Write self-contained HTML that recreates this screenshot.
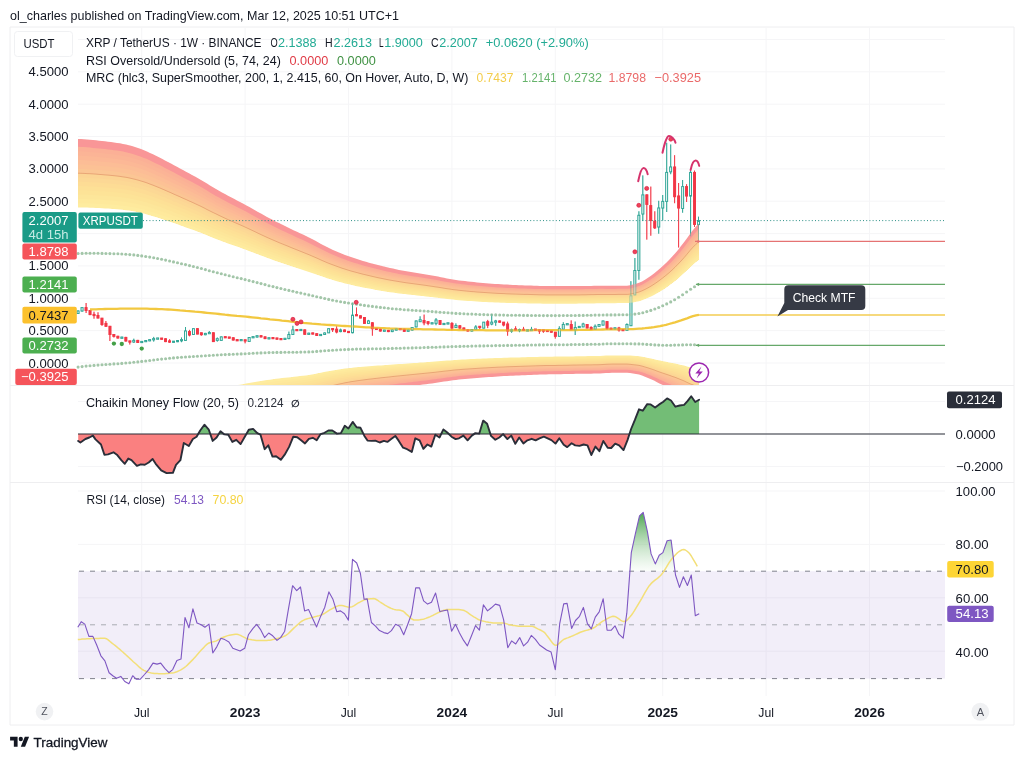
<!DOCTYPE html>
<html lang="en"><head><meta charset="utf-8"><title>XRP / TetherUS chart</title>
<style>html,body{margin:0;padding:0;background:#fff;width:1024px;height:760px;overflow:hidden}svg{display:block}</style></head>
<body>
<svg width="1024" height="760" viewBox="0 0 1024 760" font-family='"Liberation Sans", sans-serif'>
<rect width="1024" height="760" fill="#fff"/>
<defs>
<clipPath id="cm"><rect x="78" y="28" width="867" height="357"/></clipPath>
<linearGradient id="rg" x1="0" y1="0" x2="0" y2="1"><stop offset="0" stop-color="#43a047" stop-opacity=".95"/><stop offset="1" stop-color="#a5d6a7" stop-opacity=".05"/></linearGradient>
</defs>
<path d="M78 39.5 H945 M78 71.8 H945 M78 104.2 H945 M78 136.5 H945 M78 168.9 H945 M78 201.2 H945 M78 233.6 H945 M78 265.9 H945 M78 298.3 H945 M78 330.6 H945 M78 363 H945 M78 401.5 H945 M78 434 H945 M78 466.5 H945 M78 491 H945 M78 544.4 H945 M78 597.8 H945 M78 651.2 H945 M141.7 28 V696 M245.1 28 V696 M348.5 28 V696 M451.9 28 V696 M555.3 28 V696 M662.7 28 V696 M766.1 28 V696 M869.5 28 V696" stroke="#f5f5f7" stroke-width="1" fill="none"/>
<path d="M10 27 H1014 V725 H10 Z M10 385.5 H1014 M10 482.5 H1014" stroke="#eeeef0" stroke-width="1" fill="none"/>
<g stroke="#2fa596" stroke-width=".95" fill="none"><path d="M78.1 310.5 V311 M78.1 313.5 V313.5"/><rect x="77.1" y="311" width="1.9" height="2.5" fill="#fff"/><path d="M82.1 307.1 V307.6 M82.1 311 V311.5"/><rect x="81.1" y="307.6" width="1.9" height="3.4" fill="#fff"/><path d="M121.8 336.9 V337.1 M121.8 338.3 V338.5"/><rect x="120.9" y="337.1" width="1.9" height="1.2" fill="#fff"/><path d="M133.8 338.7 V340.4 M133.8 342 V342.8"/><rect x="132.8" y="340.4" width="1.9" height="1.6" fill="#fff"/><path d="M141.7 341 V341.4 M141.7 342.6 V343"/><rect x="140.8" y="341.4" width="1.9" height="1.2" fill="#fff"/><path d="M145.7 340.2 V340.5 M145.7 341.7 V342"/><rect x="144.8" y="340.5" width="1.9" height="1.2" fill="#fff"/><path d="M149.7 339.3 V339.6 M149.7 340.9 V341.2"/><rect x="148.7" y="339.6" width="1.9" height="1.2" fill="#fff"/><path d="M153.7 336.9 V338.6 M153.7 339.9 V341.6"/><rect x="152.7" y="338.6" width="1.9" height="1.2" fill="#fff"/><path d="M157.6 338.1 V338 M157.6 339.2 V339.2"/><rect x="156.7" y="338" width="1.9" height="1.2" fill="#fff"/><path d="M173.5 341.1 V341.2 M173.5 342.4 V342.5"/><rect x="172.6" y="341.2" width="1.9" height="1.2" fill="#fff"/><path d="M177.5 340.1 V340.5 M177.5 341.7 V342.1"/><rect x="176.6" y="340.5" width="1.9" height="1.2" fill="#fff"/><path d="M181.5 337.5 V339.6 M181.5 340.8 V342.2"/><rect x="180.6" y="339.6" width="1.9" height="1.2" fill="#fff"/><path d="M185.5 327 V331 M185.5 340.4 V341"/><rect x="184.5" y="331" width="1.9" height="9.4" fill="#fff"/><path d="M193.4 328 V328.7 M193.4 334.5 V334.8"/><rect x="192.5" y="328.7" width="1.9" height="5.8" fill="#fff"/><path d="M205.4 332.9 V333.4 M205.4 334.7 V335.2"/><rect x="204.4" y="333.4" width="1.9" height="1.3" fill="#fff"/><path d="M209.3 331 V332.5 M209.3 333.7 V334"/><rect x="208.4" y="332.5" width="1.9" height="1.2" fill="#fff"/><path d="M217.3 337.5 V338.7 M217.3 340.4 V341.6"/><rect x="216.3" y="338.7" width="1.9" height="1.7" fill="#fff"/><path d="M221.3 336.5 V336.9 M221.3 340.4 V340.6"/><rect x="220.3" y="336.9" width="1.9" height="3.5" fill="#fff"/><path d="M241.2 339.3 V339.5 M241.2 340.7 V340.9"/><rect x="240.2" y="339.5" width="1.9" height="1.2" fill="#fff"/><path d="M249.1 337 V337.5 M249.1 341.5 V341.8"/><rect x="248.2" y="337.5" width="1.9" height="4" fill="#fff"/><path d="M253.1 336.5 V336.6 M253.1 337.9 V338"/><rect x="252.1" y="336.6" width="1.9" height="1.2" fill="#fff"/><path d="M257.1 335.2 V335.7 M257.1 337 V337.5"/><rect x="256.1" y="335.7" width="1.9" height="1.3" fill="#fff"/><path d="M269 337.5 V337.7 M269 338.9 V339.1"/><rect x="268" y="337.7" width="1.9" height="1.2" fill="#fff"/><path d="M284.9 338.1 V338.3 M284.9 339.5 V339.7"/><rect x="284" y="338.3" width="1.9" height="1.2" fill="#fff"/><path d="M288.9 331.6 V334.5 M288.9 338.6 V339.2"/><rect x="287.9" y="334.5" width="1.9" height="4.1" fill="#fff"/><path d="M292.9 325.8 V329.9 M292.9 334.5 V334.6"/><rect x="291.9" y="329.9" width="1.9" height="4.6" fill="#fff"/><path d="M300.8 329.3 V329.4 M300.8 330.7 V330.8"/><rect x="299.9" y="329.4" width="1.9" height="1.2" fill="#fff"/><path d="M308.8 332.8 V333.2 M308.8 334.4 V334.8"/><rect x="307.8" y="333.2" width="1.9" height="1.2" fill="#fff"/><path d="M320.7 334 V334.4 M320.7 335.6 V336"/><rect x="319.7" y="334.4" width="1.9" height="1.2" fill="#fff"/><path d="M324.7 332.5 V333 M324.7 334.5 V335"/><rect x="323.7" y="333" width="1.9" height="1.5" fill="#fff"/><path d="M328.7 328.3 V328.7 M328.7 332.8 V333"/><rect x="327.7" y="328.7" width="1.9" height="4.1" fill="#fff"/><path d="M340.6 328.7 V330 M340.6 331.6 V332.2"/><rect x="339.6" y="330" width="1.9" height="1.6" fill="#fff"/><path d="M352.5 302.9 V315.2 M352.5 332.7 V333.3"/><rect x="351.6" y="315.2" width="1.9" height="17.5" fill="#fff"/><path d="M368.4 319.9 V321 M368.4 323.4 V324"/><rect x="367.5" y="321" width="1.9" height="2.4" fill="#fff"/><path d="M384.3 329.9 V330.1 M384.3 331.3 V331.5"/><rect x="383.4" y="330.1" width="1.9" height="1.2" fill="#fff"/><path d="M392.3 329.5 V330 M392.3 331.6 V332.1"/><rect x="391.3" y="330" width="1.9" height="1.6" fill="#fff"/><path d="M396.3 328.5 V328.9 M396.3 330.1 V330.5"/><rect x="395.3" y="328.9" width="1.9" height="1.2" fill="#fff"/><path d="M408.2 329.5 V330 M408.2 331.3 V331.8"/><rect x="407.2" y="330" width="1.9" height="1.3" fill="#fff"/><path d="M412.2 327 V327.5 M412.2 330 V330.5"/><rect x="411.2" y="327.5" width="1.9" height="2.5" fill="#fff"/><path d="M416.1 320.6 V321 M416.1 326.9 V327.2"/><rect x="415.2" y="321" width="1.9" height="5.9" fill="#fff"/><path d="M420.1 316.3 V319.7 M420.1 321.7 V321.7"/><rect x="419.2" y="319.7" width="1.9" height="2" fill="#fff"/><path d="M432.1 322.7 V322.7 M432.1 323.9 V323.9"/><rect x="431.1" y="322.7" width="1.9" height="1.2" fill="#fff"/><path d="M436 318.1 V320 M436 323.4 V325.2"/><rect x="435.1" y="320" width="1.9" height="3.4" fill="#fff"/><path d="M444 323.1 V323.4 M444 324.6 V324.8"/><rect x="443" y="323.4" width="1.9" height="1.2" fill="#fff"/><path d="M448 322.7 V322.8 M448 324 V324.1"/><rect x="447" y="322.8" width="1.9" height="1.2" fill="#fff"/><path d="M455.9 323.4 V325.5 M455.9 327.5 V327.8"/><rect x="455" y="325.5" width="1.9" height="2" fill="#fff"/><path d="M471.8 329 V329.5 M471.8 331 V331.5"/><rect x="470.9" y="329.5" width="1.9" height="1.5" fill="#fff"/><path d="M475.8 325.2 V327 M475.8 329.3 V329.9"/><rect x="474.8" y="327" width="1.9" height="2.3" fill="#fff"/><path d="M483.8 322 V322.2 M483.8 328.1 V328.3"/><rect x="482.8" y="322.2" width="1.9" height="5.9" fill="#fff"/><path d="M491.7 314 V322.2 M491.7 324 V325.2"/><rect x="490.8" y="322.2" width="1.9" height="1.8" fill="#fff"/><path d="M495.7 319.9 V321 M495.7 322.2 V325.8"/><rect x="494.7" y="321" width="1.9" height="1.2" fill="#fff"/><path d="M511.6 328.7 V329.9 M511.6 331.1 V332.8"/><rect x="510.6" y="329.9" width="1.9" height="1.2" fill="#fff"/><path d="M519.5 328.7 V329.5 M519.5 330.7 V332.2"/><rect x="518.6" y="329.5" width="1.9" height="1.2" fill="#fff"/><path d="M527.5 329.7 V329.8 M527.5 331 V331"/><rect x="526.6" y="329.8" width="1.9" height="1.2" fill="#fff"/><path d="M531.5 326.9 V329.4 M531.5 330.6 V330.6"/><rect x="530.5" y="329.4" width="1.9" height="1.2" fill="#fff"/><path d="M559.3 326.3 V328.7 M559.3 336.3 V336.9"/><rect x="558.4" y="328.7" width="1.9" height="7.6" fill="#fff"/><path d="M563.3 322.2 V324.5 M563.3 329.2 V329.4"/><rect x="562.3" y="324.5" width="1.9" height="4.7" fill="#fff"/><path d="M567.3 323.5 V323.6 M567.3 324.9 V325"/><rect x="566.3" y="323.6" width="1.9" height="1.2" fill="#fff"/><path d="M575.2 321.6 V327.5 M575.2 329.8 V335"/><rect x="574.3" y="327.5" width="1.9" height="2.3" fill="#fff"/><path d="M579.2 326 V326.4 M579.2 327.6 V328"/><rect x="578.3" y="326.4" width="1.9" height="1.2" fill="#fff"/><path d="M583.2 322.8 V324 M583.2 326.9 V327"/><rect x="582.2" y="324" width="1.9" height="2.9" fill="#fff"/><path d="M595.1 324.5 V326.3 M595.1 329.2 V329.4"/><rect x="594.2" y="326.3" width="1.9" height="2.9" fill="#fff"/><path d="M599.1 324 V324.5 M599.1 326.3 V326.8"/><rect x="598.1" y="324.5" width="1.9" height="1.8" fill="#fff"/><path d="M603.1 320.8 V321 M603.1 325.1 V325.3"/><rect x="602.1" y="321" width="1.9" height="4.1" fill="#fff"/><path d="M615 327.5 V327.8 M615 329.1 V329.4"/><rect x="614" y="327.8" width="1.9" height="1.2" fill="#fff"/><path d="M626.9 323.4 V324.5 M626.9 330.4 V330.6"/><rect x="626" y="324.5" width="1.9" height="5.9" fill="#fff"/><path d="M630.9 281.2 V295.8 M630.9 325.7 V325.9"/><rect x="630" y="295.8" width="1.9" height="29.9" fill="#fff"/><path d="M634.9 258 V270.5 M634.9 294.9 V295.2"/><rect x="633.9" y="270.5" width="1.9" height="24.4" fill="#fff"/><path d="M638.9 211.3 V215.3 M638.9 270.5 V279.7"/><rect x="637.9" y="215.3" width="1.9" height="55.2" fill="#fff"/><path d="M642.8 175.4 V194.9 M642.8 214 V221"/><rect x="641.9" y="194.9" width="1.9" height="19.1" fill="#fff"/><path d="M658.7 200.8 V208 M658.7 227 V233.7"/><rect x="657.8" y="208" width="1.9" height="19" fill="#fff"/><path d="M662.7 195 V201.4 M662.7 208 V220.5"/><rect x="661.8" y="201.4" width="1.9" height="6.6" fill="#fff"/><path d="M666.7 142.8 V172.4 M666.7 201.4 V212"/><rect x="665.7" y="172.4" width="1.9" height="29" fill="#fff"/><path d="M670.7 144.5 V167 M670.7 171.8 V174.2"/><rect x="669.7" y="167" width="1.9" height="4.8" fill="#fff"/><path d="M682.6 180 V186.6 M682.6 208.5 V212.7"/><rect x="681.7" y="186.6" width="1.9" height="21.9" fill="#fff"/><path d="M690.6 170.6 V172.4 M690.6 196 V236.3"/><rect x="689.6" y="172.4" width="1.9" height="23.6" fill="#fff"/><path d="M698.5 216.7 V220.6 M698.5 224.6 V240.1"/><rect x="697.6" y="220.6" width="1.9" height="4" fill="#fff"/></g><g stroke="#f23645" stroke-width=".95" fill="#f23645"><path d="M86.1 303 V313"/><rect x="85.1" y="307.6" width="1.9" height="2.9"/><path d="M90 310 V315.1"/><rect x="89.1" y="310.5" width="1.9" height="4.1"/><path d="M94 311.7 V318.7"/><rect x="93.1" y="314.4" width="1.9" height="1.2"/><path d="M98 312.3 V318.3"/><rect x="97" y="315.5" width="1.9" height="2.5"/><path d="M102 318.2 V325.8"/><rect x="101" y="318.2" width="1.9" height="6.3"/><path d="M105.9 321 V326.5"/><rect x="105" y="323.4" width="1.9" height="2.9"/><path d="M109.9 326.3 V341"/><rect x="109" y="326.3" width="1.9" height="8.2"/><path d="M113.9 334.5 V337.5"/><rect x="112.9" y="334.5" width="1.9" height="1.8"/><path d="M117.9 335.8 V338.5"/><rect x="116.9" y="336.3" width="1.9" height="1.7"/><path d="M125.8 336.9 V341.5"/><rect x="124.9" y="337.4" width="1.9" height="3.6"/><path d="M129.8 341 V344.5"/><rect x="128.9" y="340.9" width="1.9" height="1.2"/><path d="M137.8 339.9 V343"/><rect x="136.8" y="340.4" width="1.9" height="2.1"/><path d="M161.6 338.1 V339.3"/><rect x="160.7" y="338.1" width="1.9" height="1.2"/><path d="M165.6 338.3 V342.1"/><rect x="164.6" y="338.8" width="1.9" height="2.8"/><path d="M169.6 339.2 V342.8"/><rect x="168.6" y="340.9" width="1.9" height="1.2"/><path d="M189.5 329.9 V336.3"/><rect x="188.5" y="331.6" width="1.9" height="3.4"/><path d="M197.4 328.2 V334.3"/><rect x="196.5" y="328.7" width="1.9" height="5.3"/><path d="M201.4 332.8 V335.7"/><rect x="200.4" y="332.8" width="1.9" height="1.9"/><path d="M213.3 332.4 V342"/><rect x="212.4" y="332.8" width="1.9" height="8.8"/><path d="M225.2 336.4 V338"/><rect x="224.3" y="336.6" width="1.9" height="1.2"/><path d="M229.2 337 V338.3"/><rect x="228.3" y="337" width="1.9" height="1.2"/><path d="M233.2 337.3 V340.5"/><rect x="232.3" y="337.8" width="1.9" height="2.2"/><path d="M237.2 339.5 V340.9"/><rect x="236.2" y="339.6" width="1.9" height="1.2"/><path d="M245.1 340.4 V343.3"/><rect x="244.2" y="339.8" width="1.9" height="1.2"/><path d="M261 335.2 V337.4"/><rect x="260.1" y="335.7" width="1.9" height="1.2"/><path d="M265 336.4 V339.1"/><rect x="264.1" y="336.9" width="1.9" height="1.7"/><path d="M273 337.5 V338.8"/><rect x="272" y="337.5" width="1.9" height="1.2"/><path d="M276.9 337.8 V339.5"/><rect x="276" y="338" width="1.9" height="1.2"/><path d="M280.9 338.5 V339.7"/><rect x="280" y="338.5" width="1.9" height="1.2"/><path d="M296.8 329.4 V330.8"/><rect x="295.9" y="329.5" width="1.9" height="1.2"/><path d="M304.8 329.5 V334.6"/><rect x="303.8" y="329.9" width="1.9" height="4.4"/><path d="M312.7 332.8 V334.2"/><rect x="311.8" y="332.9" width="1.9" height="1.2"/><path d="M316.7 333.2 V336"/><rect x="315.8" y="333.7" width="1.9" height="1.8"/><path d="M332.6 328.6 V332"/><rect x="331.7" y="328.5" width="1.9" height="1.2"/><path d="M336.6 326.3 V333.3"/><rect x="335.7" y="329.2" width="1.9" height="2.8"/><path d="M344.6 329.5 V332.1"/><rect x="343.6" y="330" width="1.9" height="1.6"/><path d="M348.5 331.1 V333"/><rect x="347.6" y="331.4" width="1.9" height="1.2"/><path d="M356.5 307.5 V315.9"/><rect x="355.5" y="314.6" width="1.9" height="1.2"/><path d="M360.5 315.5 V318.3"/><rect x="359.5" y="315.8" width="1.9" height="2.2"/><path d="M364.4 317.3 V323.6"/><rect x="363.5" y="317.5" width="1.9" height="5.9"/><path d="M372.4 322.2 V335.7"/><rect x="371.4" y="322.8" width="1.9" height="5.9"/><path d="M376.4 328.2 V329.7"/><rect x="375.4" y="328.3" width="1.9" height="1.2"/><path d="M380.4 328.7 V331.5"/><rect x="379.4" y="329.2" width="1.9" height="1.8"/><path d="M388.3 329.9 V332.1"/><rect x="387.4" y="330.4" width="1.9" height="1.2"/><path d="M400.2 328.5 V329.7"/><rect x="399.3" y="328.5" width="1.9" height="1.2"/><path d="M404.2 328.7 V331.8"/><rect x="403.3" y="329.2" width="1.9" height="2.1"/><path d="M424.1 314.6 V325.2"/><rect x="423.1" y="320.5" width="1.9" height="2.3"/><path d="M428.1 321.5 V325.2"/><rect x="427.1" y="321.7" width="1.9" height="1.7"/><path d="M440 320.3 V324.8"/><rect x="439.1" y="320.5" width="1.9" height="3.8"/><path d="M451.9 322.2 V330.4"/><rect x="451" y="323.4" width="1.9" height="4.6"/><path d="M459.9 325.2 V329.3"/><rect x="458.9" y="325.8" width="1.9" height="2.2"/><path d="M463.9 327.5 V330.3"/><rect x="462.9" y="328" width="1.9" height="1.8"/><path d="M467.8 329.3 V331.5"/><rect x="466.9" y="329.8" width="1.9" height="1.2"/><path d="M479.8 326.2 V329.3"/><rect x="478.8" y="326.3" width="1.9" height="1.2"/><path d="M487.7 319.9 V328.1"/><rect x="486.8" y="321.7" width="1.9" height="3.5"/><path d="M499.7 320.5 V322.7"/><rect x="498.7" y="321" width="1.9" height="1.2"/><path d="M503.6 322.1 V326.3"/><rect x="502.7" y="322.2" width="1.9" height="2.8"/><path d="M507.6 321.7 V335.7"/><rect x="506.7" y="324" width="1.9" height="7"/><path d="M515.6 326.3 V330.4"/><rect x="514.6" y="328.9" width="1.9" height="1.2"/><path d="M523.5 326.9 V331"/><rect x="522.6" y="329.3" width="1.9" height="1.2"/><path d="M535.5 329.1 V330.4"/><rect x="534.5" y="329.1" width="1.9" height="1.2"/><path d="M539.4 329.8 V333.9"/><rect x="538.5" y="329.8" width="1.9" height="1.2"/><path d="M543.4 330.3 V332.8"/><rect x="542.5" y="329.9" width="1.9" height="1.2"/><path d="M547.4 330.1 V331.8"/><rect x="546.4" y="330.4" width="1.9" height="1.2"/><path d="M551.4 330.8 V332.5"/><rect x="550.4" y="331" width="1.9" height="1.2"/><path d="M555.3 332 V338.6"/><rect x="554.4" y="332.2" width="1.9" height="4.1"/><path d="M571.2 320.4 V330"/><rect x="570.3" y="324.5" width="1.9" height="5.3"/><path d="M587.2 324.4 V328.2"/><rect x="586.2" y="324.5" width="1.9" height="3.5"/><path d="M591.1 326.3 V329.9"/><rect x="590.2" y="327.5" width="1.9" height="2"/><path d="M607 321.4 V329.9"/><rect x="606.1" y="321.6" width="1.9" height="6.9"/><path d="M611 328 V329.4"/><rect x="610.1" y="328.1" width="1.9" height="1.2"/><path d="M619 326.9 V331.6"/><rect x="618" y="328" width="1.9" height="2"/><path d="M622.9 329.5 V330.7"/><rect x="622" y="329.5" width="1.9" height="1.2"/><path d="M646.8 194.5 V239.6"/><rect x="645.9" y="194.9" width="1.9" height="9.5"/><path d="M650.8 186.6 V235.7"/><rect x="649.8" y="205.6" width="1.9" height="14.9"/><path d="M654.8 211.3 V229"/><rect x="653.8" y="221.2" width="1.9" height="6.6"/><path d="M674.6 155.2 V203.2"/><rect x="673.7" y="167" width="1.9" height="29.7"/><path d="M678.6 183 V247.5"/><rect x="677.7" y="196" width="1.9" height="12"/><path d="M686.6 184.2 V202"/><rect x="685.6" y="186.6" width="1.9" height="9.4"/><path d="M694.5 170.6 V227"/><rect x="693.6" y="172.4" width="1.9" height="52.1"/></g>
<g clip-path="url(#cm)">
<path d="M78 138.9 L81 139.1 L84 139.3 L87 139.5 L90 139.8 L93 140.1 L96 140.3 L99 140.7 L102 141 L105 141.3 L108 141.7 L111 142 L114 142.4 L117 142.9 L120 143.3 L123 143.9 L126 144.5 L129 145.2 L132 146 L135 147 L138 148 L141 149 L144 150.2 L147 151.5 L150 152.9 L153 154.3 L156 155.8 L159 157.3 L162 158.8 L165 160.4 L168 162 L171 163.6 L174 165.2 L177 166.8 L180 168.4 L183 170.1 L186 171.7 L189 173.3 L192 175 L195 176.6 L198 178.2 L201 179.9 L204 181.8 L207 183.6 L210 185.5 L213 187.2 L216 189 L219 190.7 L222 192.4 L225 194.1 L228 195.7 L231 197.3 L234 198.8 L237 200.4 L240 202 L243 203.6 L246 205.2 L249 206.8 L252 208.5 L255 210.2 L258 212 L261 213.6 L264 215.3 L267 217 L270 218.6 L273 220.1 L276 221.7 L279 223.1 L282 224.6 L285 226.1 L288 227.5 L291 228.9 L294 230.4 L297 231.8 L300 233.2 L303 234.6 L306 236 L309 237.5 L312 239 L315 240.6 L318 242.3 L321 243.9 L324 245.5 L327 247 L330 248.5 L333 249.9 L336 251.2 L339 252.5 L342 253.7 L345 254.9 L348 256.1 L351 257.1 L354 258.1 L357 259.1 L360 260.1 L363 261 L366 261.8 L369 262.7 L372 263.5 L375 264.3 L378 265.1 L381 265.8 L384 266.6 L387 267.3 L390 268 L393 268.6 L396 269.3 L399 269.9 L402 270.4 L405 271 L408 271.5 L411 272 L414 272.5 L417 273 L420 273.5 L423 274 L426 274.5 L429 275 L432 275.5 L435 276.1 L438 276.6 L441 277.2 L444 277.8 L447 278.4 L450 278.9 L453 279.5 L456 279.9 L459 280.4 L462 280.7 L465 281.1 L468 281.5 L471 281.8 L474 282.1 L477 282.4 L480 282.7 L483 283 L486 283.2 L489 283.5 L492 283.7 L495 283.9 L498 284.1 L501 284.3 L504 284.5 L507 284.6 L510 284.8 L513 284.9 L516 285 L519 285.2 L522 285.3 L525 285.4 L528 285.5 L531 285.6 L534 285.7 L537 285.8 L540 285.9 L543 286 L546 286.1 L549 286.1 L552 286.1 L555 286.1 L558 286.1 L561 286.1 L564 286.1 L567 286.1 L570 286.1 L573 286.1 L576 286.1 L579 286.1 L582 286.1 L585 286 L588 285.9 L591 285.9 L594 285.8 L597 285.7 L600 285.7 L603 285.7 L606 285.7 L609 285.8 L612 285.8 L615 285.7 L618 285.7 L621 285.7 L624 285.7 L627 285.7 L630 285.3 L633 284.6 L636 283.8 L639 282.8 L642 281.4 L645 279.7 L648 277.7 L651 275.7 L654 273.5 L657 271 L660 268.5 L663 265.8 L666 263 L669 260 L672 256.8 L675 253.4 L678 249.9 L681 246.1 L684 242.3 L687 238.2 L690 233.9 L693 230 L696 226.4 L698.9 223.2 L698.9 259 L696 261.2 L693 263.6 L690 266.4 L687 269.4 L684 272.3 L681 275 L678 277.7 L675 280.2 L672 282.5 L669 284.8 L666 286.9 L663 288.9 L660 290.7 L657 292.5 L654 294.1 L651 295.6 L648 297 L645 298.3 L642 299.4 L639 300.4 L636 301 L633 301.6 L630 302 L627 302.3 L624 302.3 L621 302.3 L618 302.3 L615 302.4 L612 302.4 L609 302.4 L606 302.4 L603 302.4 L600 302.5 L597 302.5 L594 302.6 L591 302.6 L588 302.7 L585 302.7 L582 302.8 L579 302.8 L576 302.9 L573 302.9 L570 302.9 L567 302.9 L564 302.9 L561 302.9 L558 302.9 L555 302.9 L552 302.9 L549 302.9 L546 302.9 L543 302.9 L540 302.8 L537 302.8 L534 302.7 L531 302.7 L528 302.6 L525 302.5 L522 302.5 L519 302.4 L516 302.3 L513 302.3 L510 302.2 L507 302.1 L504 302 L501 301.9 L498 301.8 L495 301.7 L492 301.5 L489 301.4 L486 301.2 L483 301.1 L480 300.9 L477 300.7 L474 300.5 L471 300.3 L468 300.1 L465 299.9 L462 299.7 L459 299.4 L456 299.1 L453 298.8 L450 298.5 L447 298.1 L444 297.8 L441 297.4 L438 297 L435 296.6 L432 296.3 L429 295.9 L426 295.6 L423 295.3 L420 295 L417 294.7 L414 294.3 L411 294 L408 293.7 L405 293.3 L402 293 L399 292.6 L396 292.2 L393 291.8 L390 291.4 L387 290.9 L384 290.4 L381 289.9 L378 289.4 L375 288.9 L372 288.3 L369 287.8 L366 287.2 L363 286.6 L360 286 L357 285.4 L354 284.7 L351 284 L348 283.3 L345 282.6 L342 281.8 L339 280.9 L336 280.1 L333 279.2 L330 278.3 L327 277.4 L324 276.3 L321 275.3 L318 274.2 L315 273.1 L312 272.1 L309 271.1 L306 270.1 L303 269.1 L300 268.1 L297 267.2 L294 266.2 L291 265.2 L288 264.2 L285 263.2 L282 262.2 L279 261.2 L276 260.2 L273 259.1 L270 258 L267 257 L264 255.8 L261 254.7 L258 253.5 L255 252.4 L252 251.3 L249 250.1 L246 249 L243 247.9 L240 246.8 L237 245.8 L234 244.7 L231 243.7 L228 242.6 L225 241.5 L222 240.4 L219 239.3 L216 238.1 L213 236.9 L210 235.7 L207 234.5 L204 233.3 L201 232 L198 230.9 L195 229.8 L192 228.7 L189 227.7 L186 226.6 L183 225.5 L180 224.4 L177 223.3 L174 222.3 L171 221.3 L168 220.2 L165 219.2 L162 218.2 L159 217.2 L156 216.3 L153 215.4 L150 214.5 L147 213.6 L144 212.8 L141 212.1 L138 211.4 L135 210.8 L132 210.3 L129 209.8 L126 209.4 L123 209 L120 208.7 L117 208.4 L114 208.2 L111 208 L108 207.8 L105 207.6 L102 207.4 L99 207.3 L96 207.1 L93 207 L90 206.9 L87 206.8 L84 206.7 L81 206.7 L78 206.7Z" fill="#f99697"/>
<path d="M78 146.8 L81 146.9 L84 147.1 L87 147.3 L90 147.6 L93 147.9 L96 148.2 L99 148.5 L102 148.8 L105 149.1 L108 149.5 L111 149.8 L114 150.2 L117 150.6 L120 151.1 L123 151.6 L126 152.2 L129 152.9 L132 153.8 L135 154.7 L138 155.7 L141 156.7 L144 157.9 L147 159.1 L150 160.5 L153 161.9 L156 163.4 L159 164.8 L162 166.3 L165 167.9 L168 169.4 L171 171 L174 172.6 L177 174.2 L180 175.8 L183 177.4 L186 179 L189 180.6 L192 182.1 L195 183.7 L198 185.3 L201 187 L204 188.8 L207 190.6 L210 192.4 L213 194.2 L216 195.9 L219 197.6 L222 199.2 L225 200.8 L228 202.4 L231 203.9 L234 205.5 L237 207 L240 208.5 L243 210 L246 211.6 L249 213.2 L252 214.9 L255 216.5 L258 218.2 L261 219.8 L264 221.5 L267 223.1 L270 224.6 L273 226.1 L276 227.6 L279 229 L282 230.4 L285 231.8 L288 233.2 L291 234.6 L294 236 L297 237.4 L300 238.8 L303 240.1 L306 241.5 L309 242.9 L312 244.4 L315 245.9 L318 247.5 L321 249 L324 250.6 L327 252.1 L330 253.4 L333 254.8 L336 256 L339 257.3 L342 258.5 L345 259.6 L348 260.7 L351 261.7 L354 262.7 L357 263.6 L360 264.5 L363 265.4 L366 266.2 L369 267 L372 267.8 L375 268.6 L378 269.3 L381 270 L384 270.8 L387 271.4 L390 272.1 L393 272.7 L396 273.3 L399 273.9 L402 274.4 L405 274.9 L408 275.4 L411 275.9 L414 276.4 L417 276.8 L420 277.3 L423 277.8 L426 278.3 L429 278.7 L432 279.2 L435 279.8 L438 280.3 L441 280.9 L444 281.4 L447 282 L450 282.5 L453 283 L456 283.4 L459 283.8 L462 284.2 L465 284.5 L468 284.9 L471 285.2 L474 285.5 L477 285.8 L480 286.1 L483 286.3 L486 286.6 L489 286.8 L492 287 L495 287.2 L498 287.4 L501 287.5 L504 287.7 L507 287.9 L510 288 L513 288.1 L516 288.2 L519 288.4 L522 288.5 L525 288.6 L528 288.7 L531 288.8 L534 288.9 L537 289 L540 289.1 L543 289.1 L546 289.2 L549 289.2 L552 289.2 L555 289.2 L558 289.2 L561 289.2 L564 289.2 L567 289.2 L570 289.2 L573 289.2 L576 289.3 L579 289.2 L582 289.2 L585 289.1 L588 289.1 L591 289 L594 288.9 L597 288.9 L600 288.8 L603 288.8 L606 288.9 L609 288.9 L612 288.9 L615 288.9 L618 288.8 L621 288.8 L624 288.8 L627 288.8 L630 288.4 L633 287.8 L636 287 L639 286.1 L642 284.7 L645 283.1 L648 281.2 L651 279.3 L654 277.2 L657 274.9 L660 272.4 L663 269.9 L666 267.1 L669 264.3 L672 261.2 L675 258 L678 254.6 L681 251 L684 247.3 L687 243.3 L690 239.2 L693 235.4 L696 231.9 L698.9 228.8 L698.9 259 L696 261.2 L693 263.6 L690 266.4 L687 269.4 L684 272.3 L681 275 L678 277.7 L675 280.2 L672 282.5 L669 284.8 L666 286.9 L663 288.9 L660 290.7 L657 292.5 L654 294.1 L651 295.6 L648 297 L645 298.3 L642 299.4 L639 300.4 L636 301 L633 301.6 L630 302 L627 302.3 L624 302.3 L621 302.3 L618 302.3 L615 302.4 L612 302.4 L609 302.4 L606 302.4 L603 302.4 L600 302.5 L597 302.5 L594 302.6 L591 302.6 L588 302.7 L585 302.7 L582 302.8 L579 302.8 L576 302.9 L573 302.9 L570 302.9 L567 302.9 L564 302.9 L561 302.9 L558 302.9 L555 302.9 L552 302.9 L549 302.9 L546 302.9 L543 302.9 L540 302.8 L537 302.8 L534 302.7 L531 302.7 L528 302.6 L525 302.5 L522 302.5 L519 302.4 L516 302.3 L513 302.3 L510 302.2 L507 302.1 L504 302 L501 301.9 L498 301.8 L495 301.7 L492 301.5 L489 301.4 L486 301.2 L483 301.1 L480 300.9 L477 300.7 L474 300.5 L471 300.3 L468 300.1 L465 299.9 L462 299.7 L459 299.4 L456 299.1 L453 298.8 L450 298.5 L447 298.1 L444 297.8 L441 297.4 L438 297 L435 296.6 L432 296.3 L429 295.9 L426 295.6 L423 295.3 L420 295 L417 294.7 L414 294.3 L411 294 L408 293.7 L405 293.3 L402 293 L399 292.6 L396 292.2 L393 291.8 L390 291.4 L387 290.9 L384 290.4 L381 289.9 L378 289.4 L375 288.9 L372 288.3 L369 287.8 L366 287.2 L363 286.6 L360 286 L357 285.4 L354 284.7 L351 284 L348 283.3 L345 282.6 L342 281.8 L339 280.9 L336 280.1 L333 279.2 L330 278.3 L327 277.4 L324 276.3 L321 275.3 L318 274.2 L315 273.1 L312 272.1 L309 271.1 L306 270.1 L303 269.1 L300 268.1 L297 267.2 L294 266.2 L291 265.2 L288 264.2 L285 263.2 L282 262.2 L279 261.2 L276 260.2 L273 259.1 L270 258 L267 257 L264 255.8 L261 254.7 L258 253.5 L255 252.4 L252 251.3 L249 250.1 L246 249 L243 247.9 L240 246.8 L237 245.8 L234 244.7 L231 243.7 L228 242.6 L225 241.5 L222 240.4 L219 239.3 L216 238.1 L213 236.9 L210 235.7 L207 234.5 L204 233.3 L201 232 L198 230.9 L195 229.8 L192 228.7 L189 227.7 L186 226.6 L183 225.5 L180 224.4 L177 223.3 L174 222.3 L171 221.3 L168 220.2 L165 219.2 L162 218.2 L159 217.2 L156 216.3 L153 215.4 L150 214.5 L147 213.6 L144 212.8 L141 212.1 L138 211.4 L135 210.8 L132 210.3 L129 209.8 L126 209.4 L123 209 L120 208.7 L117 208.4 L114 208.2 L111 208 L108 207.8 L105 207.6 L102 207.4 L99 207.3 L96 207.1 L93 207 L90 206.9 L87 206.8 L84 206.7 L81 206.7 L78 206.7Z" fill="#fbb096"/>
<path d="M78 151.2 L81 151.3 L84 151.5 L87 151.7 L90 152 L93 152.2 L96 152.5 L99 152.8 L102 153.1 L105 153.4 L108 153.7 L111 154.1 L114 154.4 L117 154.9 L120 155.3 L123 155.9 L126 156.4 L129 157.1 L132 157.9 L135 158.8 L138 159.7 L141 160.8 L144 161.9 L147 163.1 L150 164.4 L153 165.8 L156 167.2 L159 168.6 L162 170.1 L165 171.6 L168 173.1 L171 174.7 L174 176.2 L177 177.7 L180 179.3 L183 180.8 L186 182.4 L189 184 L192 185.5 L195 187 L198 188.6 L201 190.2 L204 192 L207 193.8 L210 195.5 L213 197.2 L216 198.9 L219 200.5 L222 202.1 L225 203.7 L228 205.3 L231 206.8 L234 208.2 L237 209.7 L240 211.2 L243 212.7 L246 214.3 L249 215.8 L252 217.4 L255 219.1 L258 220.7 L261 222.3 L264 223.9 L267 225.4 L270 227 L273 228.4 L276 229.9 L279 231.3 L282 232.7 L285 234 L288 235.4 L291 236.8 L294 238.1 L297 239.5 L300 240.8 L303 242.1 L306 243.5 L309 244.9 L312 246.3 L315 247.8 L318 249.3 L321 250.9 L324 252.4 L327 253.8 L330 255.2 L333 256.4 L336 257.7 L339 258.9 L342 260.1 L345 261.2 L348 262.2 L351 263.2 L354 264.2 L357 265.1 L360 266 L363 266.8 L366 267.7 L369 268.5 L372 269.2 L375 270 L378 270.7 L381 271.4 L384 272.1 L387 272.8 L390 273.4 L393 274 L396 274.6 L399 275.2 L402 275.7 L405 276.2 L408 276.7 L411 277.2 L414 277.6 L417 278.1 L420 278.5 L423 279 L426 279.4 L429 279.9 L432 280.4 L435 280.9 L438 281.5 L441 282 L444 282.6 L447 283.1 L450 283.6 L453 284.1 L456 284.5 L459 284.9 L462 285.3 L465 285.6 L468 285.9 L471 286.2 L474 286.5 L477 286.8 L480 287.1 L483 287.3 L486 287.6 L489 287.8 L492 288 L495 288.2 L498 288.4 L501 288.5 L504 288.7 L507 288.8 L510 289 L513 289.1 L516 289.2 L519 289.3 L522 289.4 L525 289.5 L528 289.6 L531 289.7 L534 289.8 L537 289.9 L540 290 L543 290.1 L546 290.1 L549 290.2 L552 290.2 L555 290.2 L558 290.2 L561 290.2 L564 290.2 L567 290.2 L570 290.2 L573 290.2 L576 290.2 L579 290.2 L582 290.1 L585 290.1 L588 290 L591 289.9 L594 289.9 L597 289.8 L600 289.8 L603 289.8 L606 289.8 L609 289.8 L612 289.8 L615 289.8 L618 289.8 L621 289.8 L624 289.7 L627 289.7 L630 289.3 L633 288.7 L636 287.9 L639 287.1 L642 285.8 L645 284.1 L648 282.3 L651 280.5 L654 278.4 L657 276.1 L660 273.7 L663 271.2 L666 268.5 L669 265.7 L672 262.7 L675 259.5 L678 256.2 L681 252.6 L684 249 L687 245.1 L690 241.1 L693 237.3 L696 234 L698.9 230.9 L698.9 259 L696 261.2 L693 263.6 L690 266.4 L687 269.4 L684 272.3 L681 275 L678 277.7 L675 280.2 L672 282.5 L669 284.8 L666 286.9 L663 288.9 L660 290.7 L657 292.5 L654 294.1 L651 295.6 L648 297 L645 298.3 L642 299.4 L639 300.4 L636 301 L633 301.6 L630 302 L627 302.3 L624 302.3 L621 302.3 L618 302.3 L615 302.4 L612 302.4 L609 302.4 L606 302.4 L603 302.4 L600 302.5 L597 302.5 L594 302.6 L591 302.6 L588 302.7 L585 302.7 L582 302.8 L579 302.8 L576 302.9 L573 302.9 L570 302.9 L567 302.9 L564 302.9 L561 302.9 L558 302.9 L555 302.9 L552 302.9 L549 302.9 L546 302.9 L543 302.9 L540 302.8 L537 302.8 L534 302.7 L531 302.7 L528 302.6 L525 302.5 L522 302.5 L519 302.4 L516 302.3 L513 302.3 L510 302.2 L507 302.1 L504 302 L501 301.9 L498 301.8 L495 301.7 L492 301.5 L489 301.4 L486 301.2 L483 301.1 L480 300.9 L477 300.7 L474 300.5 L471 300.3 L468 300.1 L465 299.9 L462 299.7 L459 299.4 L456 299.1 L453 298.8 L450 298.5 L447 298.1 L444 297.8 L441 297.4 L438 297 L435 296.6 L432 296.3 L429 295.9 L426 295.6 L423 295.3 L420 295 L417 294.7 L414 294.3 L411 294 L408 293.7 L405 293.3 L402 293 L399 292.6 L396 292.2 L393 291.8 L390 291.4 L387 290.9 L384 290.4 L381 289.9 L378 289.4 L375 288.9 L372 288.3 L369 287.8 L366 287.2 L363 286.6 L360 286 L357 285.4 L354 284.7 L351 284 L348 283.3 L345 282.6 L342 281.8 L339 280.9 L336 280.1 L333 279.2 L330 278.3 L327 277.4 L324 276.3 L321 275.3 L318 274.2 L315 273.1 L312 272.1 L309 271.1 L306 270.1 L303 269.1 L300 268.1 L297 267.2 L294 266.2 L291 265.2 L288 264.2 L285 263.2 L282 262.2 L279 261.2 L276 260.2 L273 259.1 L270 258 L267 257 L264 255.8 L261 254.7 L258 253.5 L255 252.4 L252 251.3 L249 250.1 L246 249 L243 247.9 L240 246.8 L237 245.8 L234 244.7 L231 243.7 L228 242.6 L225 241.5 L222 240.4 L219 239.3 L216 238.1 L213 236.9 L210 235.7 L207 234.5 L204 233.3 L201 232 L198 230.9 L195 229.8 L192 228.7 L189 227.7 L186 226.6 L183 225.5 L180 224.4 L177 223.3 L174 222.3 L171 221.3 L168 220.2 L165 219.2 L162 218.2 L159 217.2 L156 216.3 L153 215.4 L150 214.5 L147 213.6 L144 212.8 L141 212.1 L138 211.4 L135 210.8 L132 210.3 L129 209.8 L126 209.4 L123 209 L120 208.7 L117 208.4 L114 208.2 L111 208 L108 207.8 L105 207.6 L102 207.4 L99 207.3 L96 207.1 L93 207 L90 206.9 L87 206.8 L84 206.7 L81 206.7 L78 206.7Z" fill="#fbb496"/>
<path d="M78 155.6 L81 155.7 L84 155.9 L87 156.1 L90 156.3 L93 156.5 L96 156.8 L99 157.1 L102 157.4 L105 157.7 L108 158 L111 158.3 L114 158.7 L117 159.1 L120 159.5 L123 160.1 L126 160.6 L129 161.3 L132 162 L135 162.9 L138 163.8 L141 164.8 L144 165.9 L147 167.1 L150 168.4 L153 169.7 L156 171.1 L159 172.4 L162 173.8 L165 175.3 L168 176.8 L171 178.3 L174 179.8 L177 181.3 L180 182.8 L183 184.3 L186 185.8 L189 187.3 L192 188.8 L195 190.3 L198 191.9 L201 193.5 L204 195.2 L207 196.9 L210 198.6 L213 200.3 L216 201.9 L219 203.5 L222 205.1 L225 206.6 L228 208.1 L231 209.6 L234 211 L237 212.5 L240 213.9 L243 215.4 L246 216.9 L249 218.5 L252 220 L255 221.6 L258 223.2 L261 224.7 L264 226.3 L267 227.8 L270 229.3 L273 230.8 L276 232.2 L279 233.5 L282 234.9 L285 236.2 L288 237.6 L291 238.9 L294 240.2 L297 241.6 L300 242.9 L303 244.2 L306 245.5 L309 246.8 L312 248.2 L315 249.7 L318 251.2 L321 252.7 L324 254.2 L327 255.6 L330 256.9 L333 258.1 L336 259.4 L339 260.6 L342 261.7 L345 262.8 L348 263.8 L351 264.8 L354 265.7 L357 266.6 L360 267.5 L363 268.3 L366 269.1 L369 269.9 L372 270.7 L375 271.4 L378 272.1 L381 272.8 L384 273.5 L387 274.1 L390 274.8 L393 275.4 L396 275.9 L399 276.5 L402 277 L405 277.5 L408 278 L411 278.4 L414 278.9 L417 279.3 L420 279.7 L423 280.2 L426 280.6 L429 281.1 L432 281.6 L435 282.1 L438 282.6 L441 283.2 L444 283.7 L447 284.2 L450 284.7 L453 285.2 L456 285.6 L459 286 L462 286.3 L465 286.7 L468 287 L471 287.3 L474 287.6 L477 287.8 L480 288.1 L483 288.4 L486 288.6 L489 288.8 L492 289 L495 289.2 L498 289.4 L501 289.5 L504 289.7 L507 289.8 L510 290 L513 290.1 L516 290.2 L519 290.3 L522 290.4 L525 290.5 L528 290.6 L531 290.7 L534 290.8 L537 290.9 L540 291 L543 291 L546 291.1 L549 291.1 L552 291.1 L555 291.1 L558 291.1 L561 291.1 L564 291.1 L567 291.1 L570 291.1 L573 291.1 L576 291.1 L579 291.1 L582 291.1 L585 291 L588 290.9 L591 290.9 L594 290.8 L597 290.8 L600 290.7 L603 290.7 L606 290.7 L609 290.7 L612 290.7 L615 290.7 L618 290.7 L621 290.7 L624 290.7 L627 290.6 L630 290.3 L633 289.7 L636 288.9 L639 288 L642 286.8 L645 285.2 L648 283.4 L651 281.6 L654 279.5 L657 277.3 L660 274.9 L663 272.5 L666 269.9 L669 267.1 L672 264.2 L675 261.1 L678 257.8 L681 254.3 L684 250.7 L687 246.9 L690 243 L693 239.3 L696 236 L698.9 233 L698.9 259 L696 261.2 L693 263.6 L690 266.4 L687 269.4 L684 272.3 L681 275 L678 277.7 L675 280.2 L672 282.5 L669 284.8 L666 286.9 L663 288.9 L660 290.7 L657 292.5 L654 294.1 L651 295.6 L648 297 L645 298.3 L642 299.4 L639 300.4 L636 301 L633 301.6 L630 302 L627 302.3 L624 302.3 L621 302.3 L618 302.3 L615 302.4 L612 302.4 L609 302.4 L606 302.4 L603 302.4 L600 302.5 L597 302.5 L594 302.6 L591 302.6 L588 302.7 L585 302.7 L582 302.8 L579 302.8 L576 302.9 L573 302.9 L570 302.9 L567 302.9 L564 302.9 L561 302.9 L558 302.9 L555 302.9 L552 302.9 L549 302.9 L546 302.9 L543 302.9 L540 302.8 L537 302.8 L534 302.7 L531 302.7 L528 302.6 L525 302.5 L522 302.5 L519 302.4 L516 302.3 L513 302.3 L510 302.2 L507 302.1 L504 302 L501 301.9 L498 301.8 L495 301.7 L492 301.5 L489 301.4 L486 301.2 L483 301.1 L480 300.9 L477 300.7 L474 300.5 L471 300.3 L468 300.1 L465 299.9 L462 299.7 L459 299.4 L456 299.1 L453 298.8 L450 298.5 L447 298.1 L444 297.8 L441 297.4 L438 297 L435 296.6 L432 296.3 L429 295.9 L426 295.6 L423 295.3 L420 295 L417 294.7 L414 294.3 L411 294 L408 293.7 L405 293.3 L402 293 L399 292.6 L396 292.2 L393 291.8 L390 291.4 L387 290.9 L384 290.4 L381 289.9 L378 289.4 L375 288.9 L372 288.3 L369 287.8 L366 287.2 L363 286.6 L360 286 L357 285.4 L354 284.7 L351 284 L348 283.3 L345 282.6 L342 281.8 L339 280.9 L336 280.1 L333 279.2 L330 278.3 L327 277.4 L324 276.3 L321 275.3 L318 274.2 L315 273.1 L312 272.1 L309 271.1 L306 270.1 L303 269.1 L300 268.1 L297 267.2 L294 266.2 L291 265.2 L288 264.2 L285 263.2 L282 262.2 L279 261.2 L276 260.2 L273 259.1 L270 258 L267 257 L264 255.8 L261 254.7 L258 253.5 L255 252.4 L252 251.3 L249 250.1 L246 249 L243 247.9 L240 246.8 L237 245.8 L234 244.7 L231 243.7 L228 242.6 L225 241.5 L222 240.4 L219 239.3 L216 238.1 L213 236.9 L210 235.7 L207 234.5 L204 233.3 L201 232 L198 230.9 L195 229.8 L192 228.7 L189 227.7 L186 226.6 L183 225.5 L180 224.4 L177 223.3 L174 222.3 L171 221.3 L168 220.2 L165 219.2 L162 218.2 L159 217.2 L156 216.3 L153 215.4 L150 214.5 L147 213.6 L144 212.8 L141 212.1 L138 211.4 L135 210.8 L132 210.3 L129 209.8 L126 209.4 L123 209 L120 208.7 L117 208.4 L114 208.2 L111 208 L108 207.8 L105 207.6 L102 207.4 L99 207.3 L96 207.1 L93 207 L90 206.9 L87 206.8 L84 206.7 L81 206.7 L78 206.7Z" fill="#fcb896"/>
<path d="M78 160 L81 160.1 L84 160.3 L87 160.5 L90 160.7 L93 160.9 L96 161.1 L99 161.4 L102 161.7 L105 162 L108 162.3 L111 162.6 L114 162.9 L117 163.3 L120 163.8 L123 164.3 L126 164.8 L129 165.4 L132 166.2 L135 167 L138 167.9 L141 168.8 L144 169.9 L147 171 L150 172.3 L153 173.6 L156 174.9 L159 176.2 L162 177.6 L165 179 L168 180.5 L171 181.9 L174 183.4 L177 184.8 L180 186.3 L183 187.8 L186 189.3 L189 190.7 L192 192.2 L195 193.7 L198 195.1 L201 196.7 L204 198.4 L207 200.1 L210 201.7 L213 203.3 L216 204.9 L219 206.5 L222 208 L225 209.5 L228 211 L231 212.4 L234 213.8 L237 215.2 L240 216.6 L243 218.1 L246 219.6 L249 221.1 L252 222.6 L255 224.1 L258 225.7 L261 227.2 L264 228.7 L267 230.2 L270 231.7 L273 233.1 L276 234.4 L279 235.8 L282 237.1 L285 238.4 L288 239.7 L291 241 L294 242.3 L297 243.6 L300 244.9 L303 246.2 L306 247.5 L309 248.8 L312 250.2 L315 251.6 L318 253.1 L321 254.5 L324 256 L327 257.3 L330 258.6 L333 259.8 L336 261 L339 262.2 L342 263.3 L345 264.4 L348 265.4 L351 266.3 L354 267.2 L357 268.1 L360 269 L363 269.8 L366 270.6 L369 271.3 L372 272.1 L375 272.8 L378 273.5 L381 274.2 L384 274.8 L387 275.5 L390 276.1 L393 276.7 L396 277.2 L399 277.8 L402 278.3 L405 278.8 L408 279.2 L411 279.7 L414 280.1 L417 280.5 L420 281 L423 281.4 L426 281.8 L429 282.3 L432 282.8 L435 283.3 L438 283.8 L441 284.3 L444 284.8 L447 285.3 L450 285.8 L453 286.3 L456 286.7 L459 287.1 L462 287.4 L465 287.7 L468 288 L471 288.3 L474 288.6 L477 288.9 L480 289.1 L483 289.4 L486 289.6 L489 289.8 L492 290 L495 290.2 L498 290.4 L501 290.5 L504 290.7 L507 290.8 L510 290.9 L513 291.1 L516 291.2 L519 291.3 L522 291.4 L525 291.5 L528 291.6 L531 291.6 L534 291.7 L537 291.8 L540 291.9 L543 292 L546 292 L549 292.1 L552 292.1 L555 292.1 L558 292.1 L561 292.1 L564 292.1 L567 292.1 L570 292.1 L573 292.1 L576 292.1 L579 292.1 L582 292 L585 292 L588 291.9 L591 291.8 L594 291.8 L597 291.7 L600 291.7 L603 291.7 L606 291.7 L609 291.7 L612 291.7 L615 291.7 L618 291.6 L621 291.6 L624 291.6 L627 291.6 L630 291.2 L633 290.6 L636 289.9 L639 289 L642 287.8 L645 286.2 L648 284.5 L651 282.7 L654 280.7 L657 278.5 L660 276.2 L663 273.8 L666 271.2 L669 268.5 L672 265.6 L675 262.6 L678 259.4 L681 256 L684 252.5 L687 248.7 L690 244.9 L693 241.3 L696 238 L698.9 235.2 L698.9 259 L696 261.2 L693 263.6 L690 266.4 L687 269.4 L684 272.3 L681 275 L678 277.7 L675 280.2 L672 282.5 L669 284.8 L666 286.9 L663 288.9 L660 290.7 L657 292.5 L654 294.1 L651 295.6 L648 297 L645 298.3 L642 299.4 L639 300.4 L636 301 L633 301.6 L630 302 L627 302.3 L624 302.3 L621 302.3 L618 302.3 L615 302.4 L612 302.4 L609 302.4 L606 302.4 L603 302.4 L600 302.5 L597 302.5 L594 302.6 L591 302.6 L588 302.7 L585 302.7 L582 302.8 L579 302.8 L576 302.9 L573 302.9 L570 302.9 L567 302.9 L564 302.9 L561 302.9 L558 302.9 L555 302.9 L552 302.9 L549 302.9 L546 302.9 L543 302.9 L540 302.8 L537 302.8 L534 302.7 L531 302.7 L528 302.6 L525 302.5 L522 302.5 L519 302.4 L516 302.3 L513 302.3 L510 302.2 L507 302.1 L504 302 L501 301.9 L498 301.8 L495 301.7 L492 301.5 L489 301.4 L486 301.2 L483 301.1 L480 300.9 L477 300.7 L474 300.5 L471 300.3 L468 300.1 L465 299.9 L462 299.7 L459 299.4 L456 299.1 L453 298.8 L450 298.5 L447 298.1 L444 297.8 L441 297.4 L438 297 L435 296.6 L432 296.3 L429 295.9 L426 295.6 L423 295.3 L420 295 L417 294.7 L414 294.3 L411 294 L408 293.7 L405 293.3 L402 293 L399 292.6 L396 292.2 L393 291.8 L390 291.4 L387 290.9 L384 290.4 L381 289.9 L378 289.4 L375 288.9 L372 288.3 L369 287.8 L366 287.2 L363 286.6 L360 286 L357 285.4 L354 284.7 L351 284 L348 283.3 L345 282.6 L342 281.8 L339 280.9 L336 280.1 L333 279.2 L330 278.3 L327 277.4 L324 276.3 L321 275.3 L318 274.2 L315 273.1 L312 272.1 L309 271.1 L306 270.1 L303 269.1 L300 268.1 L297 267.2 L294 266.2 L291 265.2 L288 264.2 L285 263.2 L282 262.2 L279 261.2 L276 260.2 L273 259.1 L270 258 L267 257 L264 255.8 L261 254.7 L258 253.5 L255 252.4 L252 251.3 L249 250.1 L246 249 L243 247.9 L240 246.8 L237 245.8 L234 244.7 L231 243.7 L228 242.6 L225 241.5 L222 240.4 L219 239.3 L216 238.1 L213 236.9 L210 235.7 L207 234.5 L204 233.3 L201 232 L198 230.9 L195 229.8 L192 228.7 L189 227.7 L186 226.6 L183 225.5 L180 224.4 L177 223.3 L174 222.3 L171 221.3 L168 220.2 L165 219.2 L162 218.2 L159 217.2 L156 216.3 L153 215.4 L150 214.5 L147 213.6 L144 212.8 L141 212.1 L138 211.4 L135 210.8 L132 210.3 L129 209.8 L126 209.4 L123 209 L120 208.7 L117 208.4 L114 208.2 L111 208 L108 207.8 L105 207.6 L102 207.4 L99 207.3 L96 207.1 L93 207 L90 206.9 L87 206.8 L84 206.7 L81 206.7 L78 206.7Z" fill="#fcbd96"/>
<path d="M78 164.4 L81 164.5 L84 164.6 L87 164.8 L90 165 L93 165.2 L96 165.5 L99 165.7 L102 166 L105 166.3 L108 166.6 L111 166.9 L114 167.2 L117 167.6 L120 168 L123 168.5 L126 169 L129 169.6 L132 170.3 L135 171.1 L138 172 L141 172.9 L144 173.9 L147 175 L150 176.2 L153 177.5 L156 178.8 L159 180 L162 181.4 L165 182.7 L168 184.1 L171 185.6 L174 187 L177 188.4 L180 189.8 L183 191.2 L186 192.7 L189 194.1 L192 195.5 L195 197 L198 198.4 L201 199.9 L204 201.5 L207 203.2 L210 204.8 L213 206.4 L216 207.9 L219 209.4 L222 210.9 L225 212.4 L228 213.8 L231 215.2 L234 216.6 L237 218 L240 219.4 L243 220.8 L246 222.2 L249 223.7 L252 225.2 L255 226.7 L258 228.2 L261 229.7 L264 231.1 L267 232.6 L270 234 L273 235.4 L276 236.7 L279 238.1 L282 239.4 L285 240.6 L288 241.9 L291 243.2 L294 244.5 L297 245.7 L300 247 L303 248.2 L306 249.5 L309 250.8 L312 252.1 L315 253.5 L318 254.9 L321 256.3 L324 257.7 L327 259.1 L330 260.3 L333 261.5 L336 262.7 L339 263.8 L342 264.9 L345 266 L348 266.9 L351 267.9 L354 268.8 L357 269.6 L360 270.5 L363 271.3 L366 272 L369 272.8 L372 273.5 L375 274.2 L378 274.9 L381 275.5 L384 276.2 L387 276.8 L390 277.4 L393 278 L396 278.5 L399 279.1 L402 279.6 L405 280 L408 280.5 L411 280.9 L414 281.3 L417 281.8 L420 282.2 L423 282.6 L426 283 L429 283.5 L432 283.9 L435 284.4 L438 284.9 L441 285.4 L444 285.9 L447 286.4 L450 286.9 L453 287.4 L456 287.8 L459 288.1 L462 288.5 L465 288.8 L468 289.1 L471 289.4 L474 289.6 L477 289.9 L480 290.2 L483 290.4 L486 290.6 L489 290.8 L492 291 L495 291.2 L498 291.4 L501 291.5 L504 291.7 L507 291.8 L510 291.9 L513 292 L516 292.1 L519 292.2 L522 292.3 L525 292.4 L528 292.5 L531 292.6 L534 292.7 L537 292.8 L540 292.9 L543 292.9 L546 293 L549 293 L552 293 L555 293 L558 293 L561 293 L564 293 L567 293 L570 293 L573 293 L576 293 L579 293 L582 293 L585 292.9 L588 292.8 L591 292.8 L594 292.7 L597 292.6 L600 292.6 L603 292.6 L606 292.6 L609 292.6 L612 292.6 L615 292.6 L618 292.6 L621 292.6 L624 292.5 L627 292.5 L630 292.2 L633 291.6 L636 290.9 L639 290 L642 288.8 L645 287.3 L648 285.6 L651 283.8 L654 281.9 L657 279.7 L660 277.5 L663 275.1 L666 272.6 L669 269.9 L672 267.1 L675 264.1 L678 261 L681 257.6 L684 254.2 L687 250.6 L690 246.7 L693 243.2 L696 240.1 L698.9 237.3 L698.9 259 L696 261.2 L693 263.6 L690 266.4 L687 269.4 L684 272.3 L681 275 L678 277.7 L675 280.2 L672 282.5 L669 284.8 L666 286.9 L663 288.9 L660 290.7 L657 292.5 L654 294.1 L651 295.6 L648 297 L645 298.3 L642 299.4 L639 300.4 L636 301 L633 301.6 L630 302 L627 302.3 L624 302.3 L621 302.3 L618 302.3 L615 302.4 L612 302.4 L609 302.4 L606 302.4 L603 302.4 L600 302.5 L597 302.5 L594 302.6 L591 302.6 L588 302.7 L585 302.7 L582 302.8 L579 302.8 L576 302.9 L573 302.9 L570 302.9 L567 302.9 L564 302.9 L561 302.9 L558 302.9 L555 302.9 L552 302.9 L549 302.9 L546 302.9 L543 302.9 L540 302.8 L537 302.8 L534 302.7 L531 302.7 L528 302.6 L525 302.5 L522 302.5 L519 302.4 L516 302.3 L513 302.3 L510 302.2 L507 302.1 L504 302 L501 301.9 L498 301.8 L495 301.7 L492 301.5 L489 301.4 L486 301.2 L483 301.1 L480 300.9 L477 300.7 L474 300.5 L471 300.3 L468 300.1 L465 299.9 L462 299.7 L459 299.4 L456 299.1 L453 298.8 L450 298.5 L447 298.1 L444 297.8 L441 297.4 L438 297 L435 296.6 L432 296.3 L429 295.9 L426 295.6 L423 295.3 L420 295 L417 294.7 L414 294.3 L411 294 L408 293.7 L405 293.3 L402 293 L399 292.6 L396 292.2 L393 291.8 L390 291.4 L387 290.9 L384 290.4 L381 289.9 L378 289.4 L375 288.9 L372 288.3 L369 287.8 L366 287.2 L363 286.6 L360 286 L357 285.4 L354 284.7 L351 284 L348 283.3 L345 282.6 L342 281.8 L339 280.9 L336 280.1 L333 279.2 L330 278.3 L327 277.4 L324 276.3 L321 275.3 L318 274.2 L315 273.1 L312 272.1 L309 271.1 L306 270.1 L303 269.1 L300 268.1 L297 267.2 L294 266.2 L291 265.2 L288 264.2 L285 263.2 L282 262.2 L279 261.2 L276 260.2 L273 259.1 L270 258 L267 257 L264 255.8 L261 254.7 L258 253.5 L255 252.4 L252 251.3 L249 250.1 L246 249 L243 247.9 L240 246.8 L237 245.8 L234 244.7 L231 243.7 L228 242.6 L225 241.5 L222 240.4 L219 239.3 L216 238.1 L213 236.9 L210 235.7 L207 234.5 L204 233.3 L201 232 L198 230.9 L195 229.8 L192 228.7 L189 227.7 L186 226.6 L183 225.5 L180 224.4 L177 223.3 L174 222.3 L171 221.3 L168 220.2 L165 219.2 L162 218.2 L159 217.2 L156 216.3 L153 215.4 L150 214.5 L147 213.6 L144 212.8 L141 212.1 L138 211.4 L135 210.8 L132 210.3 L129 209.8 L126 209.4 L123 209 L120 208.7 L117 208.4 L114 208.2 L111 208 L108 207.8 L105 207.6 L102 207.4 L99 207.3 L96 207.1 L93 207 L90 206.9 L87 206.8 L84 206.7 L81 206.7 L78 206.7Z" fill="#fcc195"/>
<path d="M78 168.8 L81 168.9 L84 169 L87 169.2 L90 169.4 L93 169.6 L96 169.8 L99 170 L102 170.3 L105 170.6 L108 170.8 L111 171.1 L114 171.4 L117 171.8 L120 172.2 L123 172.7 L126 173.2 L129 173.7 L132 174.4 L135 175.2 L138 176 L141 176.9 L144 177.9 L147 179 L150 180.1 L153 181.4 L156 182.6 L159 183.8 L162 185.1 L165 186.5 L168 187.8 L171 189.2 L174 190.6 L177 191.9 L180 193.3 L183 194.7 L186 196.1 L189 197.5 L192 198.9 L195 200.3 L198 201.7 L201 203.2 L204 204.7 L207 206.3 L210 207.9 L213 209.4 L216 210.9 L219 212.4 L222 213.9 L225 215.3 L228 216.7 L231 218.1 L234 219.4 L237 220.7 L240 222.1 L243 223.5 L246 224.8 L249 226.3 L252 227.7 L255 229.2 L258 230.7 L261 232.1 L264 233.6 L267 235 L270 236.4 L273 237.7 L276 239 L279 240.3 L282 241.6 L285 242.8 L288 244.1 L291 245.3 L294 246.6 L297 247.8 L300 249 L303 250.2 L306 251.5 L309 252.7 L312 254 L315 255.4 L318 256.8 L321 258.2 L324 259.5 L327 260.8 L330 262.1 L333 263.2 L336 264.4 L339 265.5 L342 266.5 L345 267.6 L348 268.5 L351 269.4 L354 270.3 L357 271.1 L360 271.9 L363 272.7 L366 273.5 L369 274.2 L372 274.9 L375 275.6 L378 276.3 L381 276.9 L384 277.5 L387 278.2 L390 278.7 L393 279.3 L396 279.8 L399 280.4 L402 280.8 L405 281.3 L408 281.7 L411 282.2 L414 282.6 L417 283 L420 283.4 L423 283.8 L426 284.2 L429 284.7 L432 285.1 L435 285.6 L438 286.1 L441 286.6 L444 287.1 L447 287.6 L450 288 L453 288.5 L456 288.9 L459 289.2 L462 289.5 L465 289.8 L468 290.1 L471 290.4 L474 290.7 L477 290.9 L480 291.2 L483 291.4 L486 291.6 L489 291.8 L492 292 L495 292.2 L498 292.4 L501 292.5 L504 292.6 L507 292.8 L510 292.9 L513 293 L516 293.1 L519 293.2 L522 293.3 L525 293.4 L528 293.5 L531 293.6 L534 293.7 L537 293.7 L540 293.8 L543 293.9 L546 293.9 L549 294 L552 294 L555 294 L558 294 L561 294 L564 294 L567 294 L570 294 L573 294 L576 294 L579 293.9 L582 293.9 L585 293.8 L588 293.8 L591 293.7 L594 293.6 L597 293.6 L600 293.6 L603 293.5 L606 293.5 L609 293.5 L612 293.5 L615 293.5 L618 293.5 L621 293.5 L624 293.5 L627 293.4 L630 293.1 L633 292.5 L636 291.8 L639 291 L642 289.8 L645 288.3 L648 286.7 L651 285 L654 283 L657 280.9 L660 278.7 L663 276.4 L666 274 L669 271.3 L672 268.6 L675 265.7 L678 262.6 L681 259.3 L684 256 L687 252.4 L690 248.6 L693 245.2 L696 242.1 L698.9 239.4 L698.9 259 L696 261.2 L693 263.6 L690 266.4 L687 269.4 L684 272.3 L681 275 L678 277.7 L675 280.2 L672 282.5 L669 284.8 L666 286.9 L663 288.9 L660 290.7 L657 292.5 L654 294.1 L651 295.6 L648 297 L645 298.3 L642 299.4 L639 300.4 L636 301 L633 301.6 L630 302 L627 302.3 L624 302.3 L621 302.3 L618 302.3 L615 302.4 L612 302.4 L609 302.4 L606 302.4 L603 302.4 L600 302.5 L597 302.5 L594 302.6 L591 302.6 L588 302.7 L585 302.7 L582 302.8 L579 302.8 L576 302.9 L573 302.9 L570 302.9 L567 302.9 L564 302.9 L561 302.9 L558 302.9 L555 302.9 L552 302.9 L549 302.9 L546 302.9 L543 302.9 L540 302.8 L537 302.8 L534 302.7 L531 302.7 L528 302.6 L525 302.5 L522 302.5 L519 302.4 L516 302.3 L513 302.3 L510 302.2 L507 302.1 L504 302 L501 301.9 L498 301.8 L495 301.7 L492 301.5 L489 301.4 L486 301.2 L483 301.1 L480 300.9 L477 300.7 L474 300.5 L471 300.3 L468 300.1 L465 299.9 L462 299.7 L459 299.4 L456 299.1 L453 298.8 L450 298.5 L447 298.1 L444 297.8 L441 297.4 L438 297 L435 296.6 L432 296.3 L429 295.9 L426 295.6 L423 295.3 L420 295 L417 294.7 L414 294.3 L411 294 L408 293.7 L405 293.3 L402 293 L399 292.6 L396 292.2 L393 291.8 L390 291.4 L387 290.9 L384 290.4 L381 289.9 L378 289.4 L375 288.9 L372 288.3 L369 287.8 L366 287.2 L363 286.6 L360 286 L357 285.4 L354 284.7 L351 284 L348 283.3 L345 282.6 L342 281.8 L339 280.9 L336 280.1 L333 279.2 L330 278.3 L327 277.4 L324 276.3 L321 275.3 L318 274.2 L315 273.1 L312 272.1 L309 271.1 L306 270.1 L303 269.1 L300 268.1 L297 267.2 L294 266.2 L291 265.2 L288 264.2 L285 263.2 L282 262.2 L279 261.2 L276 260.2 L273 259.1 L270 258 L267 257 L264 255.8 L261 254.7 L258 253.5 L255 252.4 L252 251.3 L249 250.1 L246 249 L243 247.9 L240 246.8 L237 245.8 L234 244.7 L231 243.7 L228 242.6 L225 241.5 L222 240.4 L219 239.3 L216 238.1 L213 236.9 L210 235.7 L207 234.5 L204 233.3 L201 232 L198 230.9 L195 229.8 L192 228.7 L189 227.7 L186 226.6 L183 225.5 L180 224.4 L177 223.3 L174 222.3 L171 221.3 L168 220.2 L165 219.2 L162 218.2 L159 217.2 L156 216.3 L153 215.4 L150 214.5 L147 213.6 L144 212.8 L141 212.1 L138 211.4 L135 210.8 L132 210.3 L129 209.8 L126 209.4 L123 209 L120 208.7 L117 208.4 L114 208.2 L111 208 L108 207.8 L105 207.6 L102 207.4 L99 207.3 L96 207.1 L93 207 L90 206.9 L87 206.8 L84 206.7 L81 206.7 L78 206.7Z" fill="#fbc694"/>
<path d="M78 173.2 L81 173.3 L84 173.4 L87 173.6 L90 173.7 L93 173.9 L96 174.1 L99 174.4 L102 174.6 L105 174.9 L108 175.1 L111 175.4 L114 175.7 L117 176 L120 176.4 L123 176.9 L126 177.3 L129 177.9 L132 178.6 L135 179.3 L138 180.1 L141 181 L144 181.9 L147 182.9 L150 184.1 L153 185.2 L156 186.4 L159 187.6 L162 188.9 L165 190.2 L168 191.5 L171 192.8 L174 194.2 L177 195.5 L180 196.8 L183 198.2 L186 199.5 L189 200.9 L192 202.2 L195 203.6 L198 205 L201 206.4 L204 207.9 L207 209.5 L210 211 L213 212.5 L216 213.9 L219 215.4 L222 216.8 L225 218.2 L228 219.6 L231 220.9 L234 222.2 L237 223.5 L240 224.8 L243 226.1 L246 227.5 L249 228.9 L252 230.3 L255 231.7 L258 233.2 L261 234.6 L264 236 L267 237.4 L270 238.7 L273 240 L276 241.3 L279 242.6 L282 243.8 L285 245 L288 246.2 L291 247.5 L294 248.7 L297 249.9 L300 251.1 L303 252.3 L306 253.5 L309 254.7 L312 256 L315 257.3 L318 258.6 L321 260 L324 261.3 L327 262.6 L330 263.8 L333 264.9 L336 266 L339 267.1 L342 268.2 L345 269.1 L348 270.1 L351 271 L354 271.8 L357 272.6 L360 273.4 L363 274.2 L366 274.9 L369 275.6 L372 276.3 L375 277 L378 277.7 L381 278.3 L384 278.9 L387 279.5 L390 280.1 L393 280.6 L396 281.1 L399 281.6 L402 282.1 L405 282.6 L408 283 L411 283.4 L414 283.8 L417 284.2 L420 284.6 L423 285 L426 285.4 L429 285.9 L432 286.3 L435 286.8 L438 287.2 L441 287.7 L444 288.2 L447 288.7 L450 289.1 L453 289.6 L456 289.9 L459 290.3 L462 290.6 L465 290.9 L468 291.2 L471 291.5 L474 291.7 L477 292 L480 292.2 L483 292.4 L486 292.6 L489 292.8 L492 293 L495 293.2 L498 293.4 L501 293.5 L504 293.6 L507 293.8 L510 293.9 L513 294 L516 294.1 L519 294.2 L522 294.3 L525 294.4 L528 294.4 L531 294.5 L534 294.6 L537 294.7 L540 294.8 L543 294.8 L546 294.9 L549 294.9 L552 294.9 L555 294.9 L558 294.9 L561 294.9 L564 294.9 L567 294.9 L570 294.9 L573 294.9 L576 294.9 L579 294.9 L582 294.8 L585 294.8 L588 294.7 L591 294.6 L594 294.6 L597 294.5 L600 294.5 L603 294.5 L606 294.5 L609 294.5 L612 294.5 L615 294.5 L618 294.4 L621 294.4 L624 294.4 L627 294.4 L630 294.1 L633 293.5 L636 292.8 L639 292 L642 290.8 L645 289.4 L648 287.8 L651 286.1 L654 284.2 L657 282.2 L660 280 L663 277.7 L666 275.3 L669 272.8 L672 270.1 L675 267.2 L678 264.2 L681 261 L684 257.7 L687 254.2 L690 250.5 L693 247.2 L696 244.2 L698.9 241.5 L698.9 259 L696 261.2 L693 263.6 L690 266.4 L687 269.4 L684 272.3 L681 275 L678 277.7 L675 280.2 L672 282.5 L669 284.8 L666 286.9 L663 288.9 L660 290.7 L657 292.5 L654 294.1 L651 295.6 L648 297 L645 298.3 L642 299.4 L639 300.4 L636 301 L633 301.6 L630 302 L627 302.3 L624 302.3 L621 302.3 L618 302.3 L615 302.4 L612 302.4 L609 302.4 L606 302.4 L603 302.4 L600 302.5 L597 302.5 L594 302.6 L591 302.6 L588 302.7 L585 302.7 L582 302.8 L579 302.8 L576 302.9 L573 302.9 L570 302.9 L567 302.9 L564 302.9 L561 302.9 L558 302.9 L555 302.9 L552 302.9 L549 302.9 L546 302.9 L543 302.9 L540 302.8 L537 302.8 L534 302.7 L531 302.7 L528 302.6 L525 302.5 L522 302.5 L519 302.4 L516 302.3 L513 302.3 L510 302.2 L507 302.1 L504 302 L501 301.9 L498 301.8 L495 301.7 L492 301.5 L489 301.4 L486 301.2 L483 301.1 L480 300.9 L477 300.7 L474 300.5 L471 300.3 L468 300.1 L465 299.9 L462 299.7 L459 299.4 L456 299.1 L453 298.8 L450 298.5 L447 298.1 L444 297.8 L441 297.4 L438 297 L435 296.6 L432 296.3 L429 295.9 L426 295.6 L423 295.3 L420 295 L417 294.7 L414 294.3 L411 294 L408 293.7 L405 293.3 L402 293 L399 292.6 L396 292.2 L393 291.8 L390 291.4 L387 290.9 L384 290.4 L381 289.9 L378 289.4 L375 288.9 L372 288.3 L369 287.8 L366 287.2 L363 286.6 L360 286 L357 285.4 L354 284.7 L351 284 L348 283.3 L345 282.6 L342 281.8 L339 280.9 L336 280.1 L333 279.2 L330 278.3 L327 277.4 L324 276.3 L321 275.3 L318 274.2 L315 273.1 L312 272.1 L309 271.1 L306 270.1 L303 269.1 L300 268.1 L297 267.2 L294 266.2 L291 265.2 L288 264.2 L285 263.2 L282 262.2 L279 261.2 L276 260.2 L273 259.1 L270 258 L267 257 L264 255.8 L261 254.7 L258 253.5 L255 252.4 L252 251.3 L249 250.1 L246 249 L243 247.9 L240 246.8 L237 245.8 L234 244.7 L231 243.7 L228 242.6 L225 241.5 L222 240.4 L219 239.3 L216 238.1 L213 236.9 L210 235.7 L207 234.5 L204 233.3 L201 232 L198 230.9 L195 229.8 L192 228.7 L189 227.7 L186 226.6 L183 225.5 L180 224.4 L177 223.3 L174 222.3 L171 221.3 L168 220.2 L165 219.2 L162 218.2 L159 217.2 L156 216.3 L153 215.4 L150 214.5 L147 213.6 L144 212.8 L141 212.1 L138 211.4 L135 210.8 L132 210.3 L129 209.8 L126 209.4 L123 209 L120 208.7 L117 208.4 L114 208.2 L111 208 L108 207.8 L105 207.6 L102 207.4 L99 207.3 L96 207.1 L93 207 L90 206.9 L87 206.8 L84 206.7 L81 206.7 L78 206.7Z" fill="#fcd494"/>
<path d="M78 177.5 L81 177.6 L84 177.7 L87 177.8 L90 178 L93 178.2 L96 178.4 L99 178.6 L102 178.8 L105 179.1 L108 179.3 L111 179.6 L114 179.9 L117 180.2 L120 180.6 L123 181 L126 181.4 L129 182 L132 182.6 L135 183.3 L138 184.1 L141 184.9 L144 185.9 L147 186.9 L150 188 L153 189.1 L156 190.3 L159 191.4 L162 192.7 L165 193.9 L168 195.2 L171 196.5 L174 197.8 L177 199.1 L180 200.4 L183 201.7 L186 203 L189 204.3 L192 205.7 L195 207 L198 208.3 L201 209.7 L204 211.2 L207 212.7 L210 214.2 L213 215.6 L216 217.1 L219 218.5 L222 219.9 L225 221.2 L228 222.5 L231 223.8 L234 225.1 L237 226.4 L240 227.7 L243 229 L246 230.3 L249 231.6 L252 233 L255 234.4 L258 235.8 L261 237.2 L264 238.6 L267 239.9 L270 241.2 L273 242.5 L276 243.8 L279 245 L282 246.2 L285 247.4 L288 248.6 L291 249.8 L294 251 L297 252.1 L300 253.3 L303 254.5 L306 255.6 L309 256.8 L312 258.1 L315 259.4 L318 260.7 L321 262 L324 263.3 L327 264.5 L330 265.7 L333 266.8 L336 267.9 L339 269 L342 270 L345 270.9 L348 271.8 L351 272.7 L354 273.5 L357 274.3 L360 275.1 L363 275.8 L366 276.6 L369 277.3 L372 277.9 L375 278.6 L378 279.2 L381 279.8 L384 280.4 L387 281 L390 281.6 L393 282.1 L396 282.6 L399 283.1 L402 283.6 L405 284 L408 284.4 L411 284.8 L414 285.2 L417 285.6 L420 286 L423 286.4 L426 286.8 L429 287.2 L432 287.6 L435 288.1 L438 288.6 L441 289 L444 289.5 L447 290 L450 290.4 L453 290.8 L456 291.2 L459 291.5 L462 291.8 L465 292.1 L468 292.4 L471 292.7 L474 292.9 L477 293.2 L480 293.4 L483 293.6 L486 293.8 L489 294 L492 294.2 L495 294.4 L498 294.5 L501 294.6 L504 294.8 L507 294.9 L510 295 L513 295.1 L516 295.2 L519 295.3 L522 295.4 L525 295.5 L528 295.6 L531 295.6 L534 295.7 L537 295.8 L540 295.9 L543 295.9 L546 296 L549 296 L552 296 L555 296 L558 296 L561 296 L564 296 L567 296 L570 296 L573 296 L576 296 L579 296 L582 295.9 L585 295.9 L588 295.8 L591 295.7 L594 295.7 L597 295.6 L600 295.6 L603 295.6 L606 295.6 L609 295.6 L612 295.5 L615 295.5 L618 295.5 L621 295.5 L624 295.5 L627 295.5 L630 295.2 L633 294.6 L636 293.9 L639 293.1 L642 292 L645 290.6 L648 289 L651 287.4 L654 285.5 L657 283.5 L660 281.4 L663 279.2 L666 276.9 L669 274.4 L672 271.7 L675 268.9 L678 266 L681 262.8 L684 259.6 L687 256.2 L690 252.6 L693 249.3 L696 246.4 L698.9 243.8 L698.9 259 L696 261.2 L693 263.6 L690 266.4 L687 269.4 L684 272.3 L681 275 L678 277.7 L675 280.2 L672 282.5 L669 284.8 L666 286.9 L663 288.9 L660 290.7 L657 292.5 L654 294.1 L651 295.6 L648 297 L645 298.3 L642 299.4 L639 300.4 L636 301 L633 301.6 L630 302 L627 302.3 L624 302.3 L621 302.3 L618 302.3 L615 302.4 L612 302.4 L609 302.4 L606 302.4 L603 302.4 L600 302.5 L597 302.5 L594 302.6 L591 302.6 L588 302.7 L585 302.7 L582 302.8 L579 302.8 L576 302.9 L573 302.9 L570 302.9 L567 302.9 L564 302.9 L561 302.9 L558 302.9 L555 302.9 L552 302.9 L549 302.9 L546 302.9 L543 302.9 L540 302.8 L537 302.8 L534 302.7 L531 302.7 L528 302.6 L525 302.5 L522 302.5 L519 302.4 L516 302.3 L513 302.3 L510 302.2 L507 302.1 L504 302 L501 301.9 L498 301.8 L495 301.7 L492 301.5 L489 301.4 L486 301.2 L483 301.1 L480 300.9 L477 300.7 L474 300.5 L471 300.3 L468 300.1 L465 299.9 L462 299.7 L459 299.4 L456 299.1 L453 298.8 L450 298.5 L447 298.1 L444 297.8 L441 297.4 L438 297 L435 296.6 L432 296.3 L429 295.9 L426 295.6 L423 295.3 L420 295 L417 294.7 L414 294.3 L411 294 L408 293.7 L405 293.3 L402 293 L399 292.6 L396 292.2 L393 291.8 L390 291.4 L387 290.9 L384 290.4 L381 289.9 L378 289.4 L375 288.9 L372 288.3 L369 287.8 L366 287.2 L363 286.6 L360 286 L357 285.4 L354 284.7 L351 284 L348 283.3 L345 282.6 L342 281.8 L339 280.9 L336 280.1 L333 279.2 L330 278.3 L327 277.4 L324 276.3 L321 275.3 L318 274.2 L315 273.1 L312 272.1 L309 271.1 L306 270.1 L303 269.1 L300 268.1 L297 267.2 L294 266.2 L291 265.2 L288 264.2 L285 263.2 L282 262.2 L279 261.2 L276 260.2 L273 259.1 L270 258 L267 257 L264 255.8 L261 254.7 L258 253.5 L255 252.4 L252 251.3 L249 250.1 L246 249 L243 247.9 L240 246.8 L237 245.8 L234 244.7 L231 243.7 L228 242.6 L225 241.5 L222 240.4 L219 239.3 L216 238.1 L213 236.9 L210 235.7 L207 234.5 L204 233.3 L201 232 L198 230.9 L195 229.8 L192 228.7 L189 227.7 L186 226.6 L183 225.5 L180 224.4 L177 223.3 L174 222.3 L171 221.3 L168 220.2 L165 219.2 L162 218.2 L159 217.2 L156 216.3 L153 215.4 L150 214.5 L147 213.6 L144 212.8 L141 212.1 L138 211.4 L135 210.8 L132 210.3 L129 209.8 L126 209.4 L123 209 L120 208.7 L117 208.4 L114 208.2 L111 208 L108 207.8 L105 207.6 L102 207.4 L99 207.3 L96 207.1 L93 207 L90 206.9 L87 206.8 L84 206.7 L81 206.7 L78 206.7Z" fill="#fcd895"/>
<path d="M78 181.8 L81 181.8 L84 181.9 L87 182.1 L90 182.2 L93 182.4 L96 182.6 L99 182.8 L102 183 L105 183.2 L108 183.5 L111 183.7 L114 184 L117 184.3 L120 184.7 L123 185.1 L126 185.5 L129 186.1 L132 186.7 L135 187.4 L138 188.1 L141 188.9 L144 189.8 L147 190.8 L150 191.9 L153 193 L156 194.1 L159 195.2 L162 196.4 L165 197.6 L168 198.9 L171 200.1 L174 201.4 L177 202.6 L180 203.9 L183 205.2 L186 206.5 L189 207.8 L192 209.1 L195 210.3 L198 211.6 L201 213 L204 214.5 L207 215.9 L210 217.4 L213 218.8 L216 220.2 L219 221.6 L222 222.9 L225 224.2 L228 225.5 L231 226.8 L234 228 L237 229.3 L240 230.5 L243 231.8 L246 233.1 L249 234.4 L252 235.7 L255 237.1 L258 238.5 L261 239.8 L264 241.1 L267 242.5 L270 243.7 L273 245 L276 246.2 L279 247.4 L282 248.6 L285 249.8 L288 250.9 L291 252.1 L294 253.3 L297 254.4 L300 255.5 L303 256.7 L306 257.8 L309 259 L312 260.2 L315 261.4 L318 262.7 L321 264 L324 265.3 L327 266.5 L330 267.6 L333 268.7 L336 269.8 L339 270.8 L342 271.8 L345 272.7 L348 273.6 L351 274.4 L354 275.2 L357 276 L360 276.8 L363 277.5 L366 278.2 L369 278.9 L372 279.5 L375 280.2 L378 280.8 L381 281.4 L384 282 L387 282.6 L390 283.1 L393 283.6 L396 284.1 L399 284.6 L402 285 L405 285.5 L408 285.9 L411 286.3 L414 286.6 L417 287 L420 287.4 L423 287.8 L426 288.2 L429 288.6 L432 289 L435 289.4 L438 289.9 L441 290.3 L444 290.8 L447 291.2 L450 291.7 L453 292.1 L456 292.4 L459 292.8 L462 293.1 L465 293.3 L468 293.6 L471 293.9 L474 294.1 L477 294.4 L480 294.6 L483 294.8 L486 295 L489 295.2 L492 295.4 L495 295.5 L498 295.7 L501 295.8 L504 295.9 L507 296 L510 296.1 L513 296.3 L516 296.3 L519 296.4 L522 296.5 L525 296.6 L528 296.7 L531 296.8 L534 296.8 L537 296.9 L540 297 L543 297.1 L546 297.1 L549 297.1 L552 297.1 L555 297.1 L558 297.1 L561 297.1 L564 297.1 L567 297.1 L570 297.1 L573 297.1 L576 297.1 L579 297.1 L582 297 L585 297 L588 296.9 L591 296.8 L594 296.8 L597 296.7 L600 296.7 L603 296.7 L606 296.7 L609 296.6 L612 296.6 L615 296.6 L618 296.6 L621 296.6 L624 296.6 L627 296.5 L630 296.3 L633 295.7 L636 295.1 L639 294.3 L642 293.2 L645 291.8 L648 290.3 L651 288.7 L654 286.9 L657 284.9 L660 282.9 L663 280.7 L666 278.4 L669 276 L672 273.4 L675 270.7 L678 267.7 L681 264.7 L684 261.6 L687 258.2 L690 254.7 L693 251.5 L696 248.6 L698.9 246.1 L698.9 259 L696 261.2 L693 263.6 L690 266.4 L687 269.4 L684 272.3 L681 275 L678 277.7 L675 280.2 L672 282.5 L669 284.8 L666 286.9 L663 288.9 L660 290.7 L657 292.5 L654 294.1 L651 295.6 L648 297 L645 298.3 L642 299.4 L639 300.4 L636 301 L633 301.6 L630 302 L627 302.3 L624 302.3 L621 302.3 L618 302.3 L615 302.4 L612 302.4 L609 302.4 L606 302.4 L603 302.4 L600 302.5 L597 302.5 L594 302.6 L591 302.6 L588 302.7 L585 302.7 L582 302.8 L579 302.8 L576 302.9 L573 302.9 L570 302.9 L567 302.9 L564 302.9 L561 302.9 L558 302.9 L555 302.9 L552 302.9 L549 302.9 L546 302.9 L543 302.9 L540 302.8 L537 302.8 L534 302.7 L531 302.7 L528 302.6 L525 302.5 L522 302.5 L519 302.4 L516 302.3 L513 302.3 L510 302.2 L507 302.1 L504 302 L501 301.9 L498 301.8 L495 301.7 L492 301.5 L489 301.4 L486 301.2 L483 301.1 L480 300.9 L477 300.7 L474 300.5 L471 300.3 L468 300.1 L465 299.9 L462 299.7 L459 299.4 L456 299.1 L453 298.8 L450 298.5 L447 298.1 L444 297.8 L441 297.4 L438 297 L435 296.6 L432 296.3 L429 295.9 L426 295.6 L423 295.3 L420 295 L417 294.7 L414 294.3 L411 294 L408 293.7 L405 293.3 L402 293 L399 292.6 L396 292.2 L393 291.8 L390 291.4 L387 290.9 L384 290.4 L381 289.9 L378 289.4 L375 288.9 L372 288.3 L369 287.8 L366 287.2 L363 286.6 L360 286 L357 285.4 L354 284.7 L351 284 L348 283.3 L345 282.6 L342 281.8 L339 280.9 L336 280.1 L333 279.2 L330 278.3 L327 277.4 L324 276.3 L321 275.3 L318 274.2 L315 273.1 L312 272.1 L309 271.1 L306 270.1 L303 269.1 L300 268.1 L297 267.2 L294 266.2 L291 265.2 L288 264.2 L285 263.2 L282 262.2 L279 261.2 L276 260.2 L273 259.1 L270 258 L267 257 L264 255.8 L261 254.7 L258 253.5 L255 252.4 L252 251.3 L249 250.1 L246 249 L243 247.9 L240 246.8 L237 245.8 L234 244.7 L231 243.7 L228 242.6 L225 241.5 L222 240.4 L219 239.3 L216 238.1 L213 236.9 L210 235.7 L207 234.5 L204 233.3 L201 232 L198 230.9 L195 229.8 L192 228.7 L189 227.7 L186 226.6 L183 225.5 L180 224.4 L177 223.3 L174 222.3 L171 221.3 L168 220.2 L165 219.2 L162 218.2 L159 217.2 L156 216.3 L153 215.4 L150 214.5 L147 213.6 L144 212.8 L141 212.1 L138 211.4 L135 210.8 L132 210.3 L129 209.8 L126 209.4 L123 209 L120 208.7 L117 208.4 L114 208.2 L111 208 L108 207.8 L105 207.6 L102 207.4 L99 207.3 L96 207.1 L93 207 L90 206.9 L87 206.8 L84 206.7 L81 206.7 L78 206.7Z" fill="#fddc95"/>
<path d="M78 186.1 L81 186.1 L84 186.2 L87 186.3 L90 186.5 L93 186.6 L96 186.8 L99 187 L102 187.2 L105 187.4 L108 187.7 L111 187.9 L114 188.2 L117 188.5 L120 188.8 L123 189.2 L126 189.6 L129 190.2 L132 190.7 L135 191.4 L138 192.2 L141 192.9 L144 193.8 L147 194.7 L150 195.8 L153 196.8 L156 197.9 L159 199 L162 200.2 L165 201.4 L168 202.6 L171 203.8 L174 205 L177 206.2 L180 207.5 L183 208.7 L186 210 L189 211.2 L192 212.5 L195 213.7 L198 215 L201 216.3 L204 217.7 L207 219.2 L210 220.6 L213 221.9 L216 223.3 L219 224.6 L222 226 L225 227.2 L228 228.5 L231 229.7 L234 230.9 L237 232.2 L240 233.4 L243 234.6 L246 235.9 L249 237.1 L252 238.5 L255 239.8 L258 241.1 L261 242.4 L264 243.7 L267 245 L270 246.3 L273 247.5 L276 248.7 L279 249.8 L282 251 L285 252.1 L288 253.3 L291 254.4 L294 255.5 L297 256.7 L300 257.8 L303 258.9 L306 260 L309 261.1 L312 262.3 L315 263.5 L318 264.8 L321 266 L324 267.3 L327 268.4 L330 269.5 L333 270.6 L336 271.6 L339 272.6 L342 273.6 L345 274.5 L348 275.3 L351 276.2 L354 276.9 L357 277.7 L360 278.4 L363 279.1 L366 279.8 L369 280.5 L372 281.1 L375 281.8 L378 282.4 L381 283 L384 283.5 L387 284.1 L390 284.6 L393 285.1 L396 285.6 L399 286.1 L402 286.5 L405 286.9 L408 287.3 L411 287.7 L414 288.1 L417 288.4 L420 288.8 L423 289.2 L426 289.5 L429 289.9 L432 290.3 L435 290.8 L438 291.2 L441 291.6 L444 292.1 L447 292.5 L450 292.9 L453 293.3 L456 293.7 L459 294 L462 294.3 L465 294.6 L468 294.8 L471 295.1 L474 295.3 L477 295.5 L480 295.8 L483 296 L486 296.2 L489 296.3 L492 296.5 L495 296.7 L498 296.8 L501 296.9 L504 297.1 L507 297.2 L510 297.3 L513 297.4 L516 297.5 L519 297.6 L522 297.7 L525 297.7 L528 297.8 L531 297.9 L534 298 L537 298 L540 298.1 L543 298.2 L546 298.2 L549 298.2 L552 298.2 L555 298.2 L558 298.2 L561 298.2 L564 298.2 L567 298.2 L570 298.2 L573 298.2 L576 298.2 L579 298.2 L582 298.1 L585 298.1 L588 298 L591 297.9 L594 297.9 L597 297.8 L600 297.8 L603 297.8 L606 297.7 L609 297.7 L612 297.7 L615 297.7 L618 297.7 L621 297.7 L624 297.7 L627 297.6 L630 297.4 L633 296.8 L636 296.2 L639 295.4 L642 294.4 L645 293 L648 291.5 L651 290 L654 288.2 L657 286.3 L660 284.3 L663 282.2 L666 280 L669 277.6 L672 275 L675 272.4 L678 269.5 L681 266.5 L684 263.5 L687 260.2 L690 256.8 L693 253.6 L696 250.8 L698.9 248.4 L698.9 259 L696 261.2 L693 263.6 L690 266.4 L687 269.4 L684 272.3 L681 275 L678 277.7 L675 280.2 L672 282.5 L669 284.8 L666 286.9 L663 288.9 L660 290.7 L657 292.5 L654 294.1 L651 295.6 L648 297 L645 298.3 L642 299.4 L639 300.4 L636 301 L633 301.6 L630 302 L627 302.3 L624 302.3 L621 302.3 L618 302.3 L615 302.4 L612 302.4 L609 302.4 L606 302.4 L603 302.4 L600 302.5 L597 302.5 L594 302.6 L591 302.6 L588 302.7 L585 302.7 L582 302.8 L579 302.8 L576 302.9 L573 302.9 L570 302.9 L567 302.9 L564 302.9 L561 302.9 L558 302.9 L555 302.9 L552 302.9 L549 302.9 L546 302.9 L543 302.9 L540 302.8 L537 302.8 L534 302.7 L531 302.7 L528 302.6 L525 302.5 L522 302.5 L519 302.4 L516 302.3 L513 302.3 L510 302.2 L507 302.1 L504 302 L501 301.9 L498 301.8 L495 301.7 L492 301.5 L489 301.4 L486 301.2 L483 301.1 L480 300.9 L477 300.7 L474 300.5 L471 300.3 L468 300.1 L465 299.9 L462 299.7 L459 299.4 L456 299.1 L453 298.8 L450 298.5 L447 298.1 L444 297.8 L441 297.4 L438 297 L435 296.6 L432 296.3 L429 295.9 L426 295.6 L423 295.3 L420 295 L417 294.7 L414 294.3 L411 294 L408 293.7 L405 293.3 L402 293 L399 292.6 L396 292.2 L393 291.8 L390 291.4 L387 290.9 L384 290.4 L381 289.9 L378 289.4 L375 288.9 L372 288.3 L369 287.8 L366 287.2 L363 286.6 L360 286 L357 285.4 L354 284.7 L351 284 L348 283.3 L345 282.6 L342 281.8 L339 280.9 L336 280.1 L333 279.2 L330 278.3 L327 277.4 L324 276.3 L321 275.3 L318 274.2 L315 273.1 L312 272.1 L309 271.1 L306 270.1 L303 269.1 L300 268.1 L297 267.2 L294 266.2 L291 265.2 L288 264.2 L285 263.2 L282 262.2 L279 261.2 L276 260.2 L273 259.1 L270 258 L267 257 L264 255.8 L261 254.7 L258 253.5 L255 252.4 L252 251.3 L249 250.1 L246 249 L243 247.9 L240 246.8 L237 245.8 L234 244.7 L231 243.7 L228 242.6 L225 241.5 L222 240.4 L219 239.3 L216 238.1 L213 236.9 L210 235.7 L207 234.5 L204 233.3 L201 232 L198 230.9 L195 229.8 L192 228.7 L189 227.7 L186 226.6 L183 225.5 L180 224.4 L177 223.3 L174 222.3 L171 221.3 L168 220.2 L165 219.2 L162 218.2 L159 217.2 L156 216.3 L153 215.4 L150 214.5 L147 213.6 L144 212.8 L141 212.1 L138 211.4 L135 210.8 L132 210.3 L129 209.8 L126 209.4 L123 209 L120 208.7 L117 208.4 L114 208.2 L111 208 L108 207.8 L105 207.6 L102 207.4 L99 207.3 L96 207.1 L93 207 L90 206.9 L87 206.8 L84 206.7 L81 206.7 L78 206.7Z" fill="#fde096"/>
<path d="M78 190.3 L81 190.4 L84 190.5 L87 190.6 L90 190.7 L93 190.9 L96 191 L99 191.2 L102 191.4 L105 191.6 L108 191.8 L111 192.1 L114 192.3 L117 192.6 L120 193 L123 193.3 L126 193.7 L129 194.2 L132 194.8 L135 195.5 L138 196.2 L141 196.9 L144 197.7 L147 198.7 L150 199.7 L153 200.7 L156 201.8 L159 202.8 L162 203.9 L165 205.1 L168 206.3 L171 207.4 L174 208.6 L177 209.8 L180 211 L183 212.2 L186 213.5 L189 214.7 L192 215.9 L195 217.1 L198 218.3 L201 219.6 L204 221 L207 222.4 L210 223.8 L213 225.1 L216 226.4 L219 227.7 L222 229 L225 230.3 L228 231.5 L231 232.7 L234 233.9 L237 235 L240 236.2 L243 237.4 L246 238.6 L249 239.9 L252 241.2 L255 242.5 L258 243.8 L261 245 L264 246.3 L267 247.6 L270 248.8 L273 250 L276 251.1 L279 252.3 L282 253.4 L285 254.5 L288 255.6 L291 256.7 L294 257.8 L297 258.9 L300 260 L303 261.1 L306 262.2 L309 263.3 L312 264.4 L315 265.6 L318 266.8 L321 268 L324 269.2 L327 270.4 L330 271.4 L333 272.5 L336 273.5 L339 274.4 L342 275.4 L345 276.3 L348 277.1 L351 277.9 L354 278.7 L357 279.4 L360 280.1 L363 280.8 L366 281.5 L369 282.1 L372 282.7 L375 283.3 L378 283.9 L381 284.5 L384 285.1 L387 285.6 L390 286.1 L393 286.6 L396 287.1 L399 287.5 L402 288 L405 288.4 L408 288.7 L411 289.1 L414 289.5 L417 289.8 L420 290.2 L423 290.6 L426 290.9 L429 291.3 L432 291.7 L435 292.1 L438 292.5 L441 293 L444 293.4 L447 293.8 L450 294.2 L453 294.6 L456 294.9 L459 295.3 L462 295.5 L465 295.8 L468 296 L471 296.3 L474 296.5 L477 296.7 L480 297 L483 297.2 L486 297.3 L489 297.5 L492 297.7 L495 297.8 L498 298 L501 298.1 L504 298.2 L507 298.3 L510 298.4 L513 298.5 L516 298.6 L519 298.7 L522 298.8 L525 298.9 L528 298.9 L531 299 L534 299.1 L537 299.1 L540 299.2 L543 299.3 L546 299.3 L549 299.3 L552 299.3 L555 299.3 L558 299.3 L561 299.3 L564 299.3 L567 299.3 L570 299.3 L573 299.3 L576 299.3 L579 299.3 L582 299.2 L585 299.2 L588 299.1 L591 299 L594 299 L597 298.9 L600 298.9 L603 298.9 L606 298.8 L609 298.8 L612 298.8 L615 298.8 L618 298.8 L621 298.8 L624 298.8 L627 298.7 L630 298.5 L633 298 L636 297.3 L639 296.6 L642 295.5 L645 294.2 L648 292.8 L651 291.3 L654 289.6 L657 287.7 L660 285.8 L663 283.7 L666 281.5 L669 279.2 L672 276.7 L675 274.1 L678 271.3 L681 268.4 L684 265.4 L687 262.2 L690 258.9 L693 255.8 L696 253.1 L698.9 250.7 L698.9 259 L696 261.2 L693 263.6 L690 266.4 L687 269.4 L684 272.3 L681 275 L678 277.7 L675 280.2 L672 282.5 L669 284.8 L666 286.9 L663 288.9 L660 290.7 L657 292.5 L654 294.1 L651 295.6 L648 297 L645 298.3 L642 299.4 L639 300.4 L636 301 L633 301.6 L630 302 L627 302.3 L624 302.3 L621 302.3 L618 302.3 L615 302.4 L612 302.4 L609 302.4 L606 302.4 L603 302.4 L600 302.5 L597 302.5 L594 302.6 L591 302.6 L588 302.7 L585 302.7 L582 302.8 L579 302.8 L576 302.9 L573 302.9 L570 302.9 L567 302.9 L564 302.9 L561 302.9 L558 302.9 L555 302.9 L552 302.9 L549 302.9 L546 302.9 L543 302.9 L540 302.8 L537 302.8 L534 302.7 L531 302.7 L528 302.6 L525 302.5 L522 302.5 L519 302.4 L516 302.3 L513 302.3 L510 302.2 L507 302.1 L504 302 L501 301.9 L498 301.8 L495 301.7 L492 301.5 L489 301.4 L486 301.2 L483 301.1 L480 300.9 L477 300.7 L474 300.5 L471 300.3 L468 300.1 L465 299.9 L462 299.7 L459 299.4 L456 299.1 L453 298.8 L450 298.5 L447 298.1 L444 297.8 L441 297.4 L438 297 L435 296.6 L432 296.3 L429 295.9 L426 295.6 L423 295.3 L420 295 L417 294.7 L414 294.3 L411 294 L408 293.7 L405 293.3 L402 293 L399 292.6 L396 292.2 L393 291.8 L390 291.4 L387 290.9 L384 290.4 L381 289.9 L378 289.4 L375 288.9 L372 288.3 L369 287.8 L366 287.2 L363 286.6 L360 286 L357 285.4 L354 284.7 L351 284 L348 283.3 L345 282.6 L342 281.8 L339 280.9 L336 280.1 L333 279.2 L330 278.3 L327 277.4 L324 276.3 L321 275.3 L318 274.2 L315 273.1 L312 272.1 L309 271.1 L306 270.1 L303 269.1 L300 268.1 L297 267.2 L294 266.2 L291 265.2 L288 264.2 L285 263.2 L282 262.2 L279 261.2 L276 260.2 L273 259.1 L270 258 L267 257 L264 255.8 L261 254.7 L258 253.5 L255 252.4 L252 251.3 L249 250.1 L246 249 L243 247.9 L240 246.8 L237 245.8 L234 244.7 L231 243.7 L228 242.6 L225 241.5 L222 240.4 L219 239.3 L216 238.1 L213 236.9 L210 235.7 L207 234.5 L204 233.3 L201 232 L198 230.9 L195 229.8 L192 228.7 L189 227.7 L186 226.6 L183 225.5 L180 224.4 L177 223.3 L174 222.3 L171 221.3 L168 220.2 L165 219.2 L162 218.2 L159 217.2 L156 216.3 L153 215.4 L150 214.5 L147 213.6 L144 212.8 L141 212.1 L138 211.4 L135 210.8 L132 210.3 L129 209.8 L126 209.4 L123 209 L120 208.7 L117 208.4 L114 208.2 L111 208 L108 207.8 L105 207.6 L102 207.4 L99 207.3 L96 207.1 L93 207 L90 206.9 L87 206.8 L84 206.7 L81 206.7 L78 206.7Z" fill="#fde397"/>
<path d="M78 194.6 L81 194.7 L84 194.7 L87 194.8 L90 194.9 L93 195.1 L96 195.3 L99 195.4 L102 195.6 L105 195.8 L108 196 L111 196.2 L114 196.5 L117 196.8 L120 197.1 L123 197.5 L126 197.9 L129 198.3 L132 198.9 L135 199.5 L138 200.2 L141 200.9 L144 201.7 L147 202.6 L150 203.6 L153 204.6 L156 205.6 L159 206.6 L162 207.7 L165 208.8 L168 209.9 L171 211.1 L174 212.2 L177 213.4 L180 214.6 L183 215.7 L186 216.9 L189 218.1 L192 219.3 L195 220.5 L198 221.7 L201 222.9 L204 224.3 L207 225.6 L210 227 L213 228.3 L216 229.5 L219 230.8 L222 232 L225 233.3 L228 234.5 L231 235.6 L234 236.8 L237 237.9 L240 239.1 L243 240.2 L246 241.4 L249 242.7 L252 243.9 L255 245.1 L258 246.4 L261 247.7 L264 248.9 L267 250.1 L270 251.3 L273 252.5 L276 253.6 L279 254.7 L282 255.8 L285 256.9 L288 258 L291 259 L294 260.1 L297 261.2 L300 262.2 L303 263.3 L306 264.4 L309 265.4 L312 266.5 L315 267.7 L318 268.9 L321 270.1 L324 271.2 L327 272.3 L330 273.4 L333 274.4 L336 275.3 L339 276.3 L342 277.2 L345 278 L348 278.8 L351 279.6 L354 280.4 L357 281.1 L360 281.8 L363 282.5 L366 283.1 L369 283.7 L372 284.3 L375 284.9 L378 285.5 L381 286.1 L384 286.6 L387 287.1 L390 287.6 L393 288.1 L396 288.6 L399 289 L402 289.4 L405 289.8 L408 290.2 L411 290.5 L414 290.9 L417 291.2 L420 291.6 L423 291.9 L426 292.3 L429 292.7 L432 293 L435 293.4 L438 293.8 L441 294.3 L444 294.7 L447 295.1 L450 295.5 L453 295.9 L456 296.2 L459 296.5 L462 296.8 L465 297 L468 297.3 L471 297.5 L474 297.7 L477 297.9 L480 298.1 L483 298.3 L486 298.5 L489 298.7 L492 298.8 L495 299 L498 299.1 L501 299.2 L504 299.4 L507 299.5 L510 299.6 L513 299.7 L516 299.7 L519 299.8 L522 299.9 L525 300 L528 300 L531 300.1 L534 300.2 L537 300.3 L540 300.3 L543 300.4 L546 300.4 L549 300.4 L552 300.4 L555 300.4 L558 300.4 L561 300.4 L564 300.4 L567 300.4 L570 300.4 L573 300.4 L576 300.4 L579 300.4 L582 300.3 L585 300.3 L588 300.2 L591 300.1 L594 300.1 L597 300 L600 300 L603 300 L606 299.9 L609 299.9 L612 299.9 L615 299.9 L618 299.9 L621 299.9 L624 299.9 L627 299.8 L630 299.6 L633 299.1 L636 298.4 L639 297.7 L642 296.7 L645 295.4 L648 294 L651 292.5 L654 290.9 L657 289.1 L660 287.2 L663 285.2 L666 283 L669 280.8 L672 278.4 L675 275.8 L678 273.1 L681 270.3 L684 267.3 L687 264.2 L690 261 L693 257.9 L696 255.3 L698.9 253 L698.9 259 L696 261.2 L693 263.6 L690 266.4 L687 269.4 L684 272.3 L681 275 L678 277.7 L675 280.2 L672 282.5 L669 284.8 L666 286.9 L663 288.9 L660 290.7 L657 292.5 L654 294.1 L651 295.6 L648 297 L645 298.3 L642 299.4 L639 300.4 L636 301 L633 301.6 L630 302 L627 302.3 L624 302.3 L621 302.3 L618 302.3 L615 302.4 L612 302.4 L609 302.4 L606 302.4 L603 302.4 L600 302.5 L597 302.5 L594 302.6 L591 302.6 L588 302.7 L585 302.7 L582 302.8 L579 302.8 L576 302.9 L573 302.9 L570 302.9 L567 302.9 L564 302.9 L561 302.9 L558 302.9 L555 302.9 L552 302.9 L549 302.9 L546 302.9 L543 302.9 L540 302.8 L537 302.8 L534 302.7 L531 302.7 L528 302.6 L525 302.5 L522 302.5 L519 302.4 L516 302.3 L513 302.3 L510 302.2 L507 302.1 L504 302 L501 301.9 L498 301.8 L495 301.7 L492 301.5 L489 301.4 L486 301.2 L483 301.1 L480 300.9 L477 300.7 L474 300.5 L471 300.3 L468 300.1 L465 299.9 L462 299.7 L459 299.4 L456 299.1 L453 298.8 L450 298.5 L447 298.1 L444 297.8 L441 297.4 L438 297 L435 296.6 L432 296.3 L429 295.9 L426 295.6 L423 295.3 L420 295 L417 294.7 L414 294.3 L411 294 L408 293.7 L405 293.3 L402 293 L399 292.6 L396 292.2 L393 291.8 L390 291.4 L387 290.9 L384 290.4 L381 289.9 L378 289.4 L375 288.9 L372 288.3 L369 287.8 L366 287.2 L363 286.6 L360 286 L357 285.4 L354 284.7 L351 284 L348 283.3 L345 282.6 L342 281.8 L339 280.9 L336 280.1 L333 279.2 L330 278.3 L327 277.4 L324 276.3 L321 275.3 L318 274.2 L315 273.1 L312 272.1 L309 271.1 L306 270.1 L303 269.1 L300 268.1 L297 267.2 L294 266.2 L291 265.2 L288 264.2 L285 263.2 L282 262.2 L279 261.2 L276 260.2 L273 259.1 L270 258 L267 257 L264 255.8 L261 254.7 L258 253.5 L255 252.4 L252 251.3 L249 250.1 L246 249 L243 247.9 L240 246.8 L237 245.8 L234 244.7 L231 243.7 L228 242.6 L225 241.5 L222 240.4 L219 239.3 L216 238.1 L213 236.9 L210 235.7 L207 234.5 L204 233.3 L201 232 L198 230.9 L195 229.8 L192 228.7 L189 227.7 L186 226.6 L183 225.5 L180 224.4 L177 223.3 L174 222.3 L171 221.3 L168 220.2 L165 219.2 L162 218.2 L159 217.2 L156 216.3 L153 215.4 L150 214.5 L147 213.6 L144 212.8 L141 212.1 L138 211.4 L135 210.8 L132 210.3 L129 209.8 L126 209.4 L123 209 L120 208.7 L117 208.4 L114 208.2 L111 208 L108 207.8 L105 207.6 L102 207.4 L99 207.3 L96 207.1 L93 207 L90 206.9 L87 206.8 L84 206.7 L81 206.7 L78 206.7Z" fill="#fde69a"/>
<path d="M78 198.9 L81 198.9 L84 199 L87 199.1 L90 199.2 L93 199.3 L96 199.5 L99 199.6 L102 199.8 L105 200 L108 200.2 L111 200.4 L114 200.7 L117 200.9 L120 201.2 L123 201.6 L126 202 L129 202.4 L132 202.9 L135 203.5 L138 204.2 L141 204.9 L144 205.7 L147 206.5 L150 207.5 L153 208.4 L156 209.4 L159 210.4 L162 211.5 L165 212.5 L168 213.6 L171 214.7 L174 215.9 L177 217 L180 218.1 L183 219.3 L186 220.4 L189 221.6 L192 222.7 L195 223.8 L198 225 L201 226.2 L204 227.5 L207 228.9 L210 230.1 L213 231.4 L216 232.7 L219 233.9 L222 235.1 L225 236.3 L228 237.4 L231 238.6 L234 239.7 L237 240.8 L240 241.9 L243 243.1 L246 244.2 L249 245.4 L252 246.6 L255 247.8 L258 249 L261 250.3 L264 251.5 L267 252.7 L270 253.8 L273 254.9 L276 256 L279 257.1 L282 258.2 L285 259.3 L288 260.3 L291 261.4 L294 262.4 L297 263.5 L300 264.5 L303 265.5 L306 266.5 L309 267.6 L312 268.6 L315 269.8 L318 270.9 L321 272.1 L324 273.2 L327 274.3 L330 275.3 L333 276.2 L336 277.2 L339 278.1 L342 279 L345 279.8 L348 280.6 L351 281.4 L354 282.1 L357 282.8 L360 283.5 L363 284.1 L366 284.7 L369 285.3 L372 285.9 L375 286.5 L378 287.1 L381 287.6 L384 288.2 L387 288.7 L390 289.1 L393 289.6 L396 290.1 L399 290.5 L402 290.9 L405 291.3 L408 291.6 L411 292 L414 292.3 L417 292.6 L420 293 L423 293.3 L426 293.7 L429 294 L432 294.4 L435 294.8 L438 295.2 L441 295.6 L444 296 L447 296.4 L450 296.8 L453 297.1 L456 297.4 L459 297.7 L462 298 L465 298.2 L468 298.5 L471 298.7 L474 298.9 L477 299.1 L480 299.3 L483 299.5 L486 299.7 L489 299.9 L492 300 L495 300.2 L498 300.3 L501 300.4 L504 300.5 L507 300.6 L510 300.7 L513 300.8 L516 300.9 L519 301 L522 301 L525 301.1 L528 301.2 L531 301.2 L534 301.3 L537 301.4 L540 301.4 L543 301.5 L546 301.5 L549 301.5 L552 301.5 L555 301.5 L558 301.5 L561 301.5 L564 301.5 L567 301.5 L570 301.5 L573 301.5 L576 301.5 L579 301.5 L582 301.4 L585 301.4 L588 301.3 L591 301.2 L594 301.2 L597 301.1 L600 301.1 L603 301.1 L606 301 L609 301 L612 301 L615 301 L618 301 L621 301 L624 300.9 L627 300.9 L630 300.6 L633 300.2 L636 299.6 L639 298.9 L642 297.9 L645 296.6 L648 295.3 L651 293.8 L654 292.2 L657 290.5 L660 288.6 L663 286.7 L666 284.6 L669 282.4 L672 280 L675 277.5 L678 274.9 L681 272.1 L684 269.3 L687 266.2 L690 263 L693 260.1 L696 257.5 L698.9 255.3 L698.9 259 L696 261.2 L693 263.6 L690 266.4 L687 269.4 L684 272.3 L681 275 L678 277.7 L675 280.2 L672 282.5 L669 284.8 L666 286.9 L663 288.9 L660 290.7 L657 292.5 L654 294.1 L651 295.6 L648 297 L645 298.3 L642 299.4 L639 300.4 L636 301 L633 301.6 L630 302 L627 302.3 L624 302.3 L621 302.3 L618 302.3 L615 302.4 L612 302.4 L609 302.4 L606 302.4 L603 302.4 L600 302.5 L597 302.5 L594 302.6 L591 302.6 L588 302.7 L585 302.7 L582 302.8 L579 302.8 L576 302.9 L573 302.9 L570 302.9 L567 302.9 L564 302.9 L561 302.9 L558 302.9 L555 302.9 L552 302.9 L549 302.9 L546 302.9 L543 302.9 L540 302.8 L537 302.8 L534 302.7 L531 302.7 L528 302.6 L525 302.5 L522 302.5 L519 302.4 L516 302.3 L513 302.3 L510 302.2 L507 302.1 L504 302 L501 301.9 L498 301.8 L495 301.7 L492 301.5 L489 301.4 L486 301.2 L483 301.1 L480 300.9 L477 300.7 L474 300.5 L471 300.3 L468 300.1 L465 299.9 L462 299.7 L459 299.4 L456 299.1 L453 298.8 L450 298.5 L447 298.1 L444 297.8 L441 297.4 L438 297 L435 296.6 L432 296.3 L429 295.9 L426 295.6 L423 295.3 L420 295 L417 294.7 L414 294.3 L411 294 L408 293.7 L405 293.3 L402 293 L399 292.6 L396 292.2 L393 291.8 L390 291.4 L387 290.9 L384 290.4 L381 289.9 L378 289.4 L375 288.9 L372 288.3 L369 287.8 L366 287.2 L363 286.6 L360 286 L357 285.4 L354 284.7 L351 284 L348 283.3 L345 282.6 L342 281.8 L339 280.9 L336 280.1 L333 279.2 L330 278.3 L327 277.4 L324 276.3 L321 275.3 L318 274.2 L315 273.1 L312 272.1 L309 271.1 L306 270.1 L303 269.1 L300 268.1 L297 267.2 L294 266.2 L291 265.2 L288 264.2 L285 263.2 L282 262.2 L279 261.2 L276 260.2 L273 259.1 L270 258 L267 257 L264 255.8 L261 254.7 L258 253.5 L255 252.4 L252 251.3 L249 250.1 L246 249 L243 247.9 L240 246.8 L237 245.8 L234 244.7 L231 243.7 L228 242.6 L225 241.5 L222 240.4 L219 239.3 L216 238.1 L213 236.9 L210 235.7 L207 234.5 L204 233.3 L201 232 L198 230.9 L195 229.8 L192 228.7 L189 227.7 L186 226.6 L183 225.5 L180 224.4 L177 223.3 L174 222.3 L171 221.3 L168 220.2 L165 219.2 L162 218.2 L159 217.2 L156 216.3 L153 215.4 L150 214.5 L147 213.6 L144 212.8 L141 212.1 L138 211.4 L135 210.8 L132 210.3 L129 209.8 L126 209.4 L123 209 L120 208.7 L117 208.4 L114 208.2 L111 208 L108 207.8 L105 207.6 L102 207.4 L99 207.3 L96 207.1 L93 207 L90 206.9 L87 206.8 L84 206.7 L81 206.7 L78 206.7Z" fill="#fee99c"/>
<path d="M78 203.2 L81 203.2 L84 203.3 L87 203.3 L90 203.4 L93 203.6 L96 203.7 L99 203.9 L102 204 L105 204.2 L108 204.4 L111 204.6 L114 204.8 L117 205.1 L120 205.4 L123 205.7 L126 206.1 L129 206.5 L132 207 L135 207.6 L138 208.2 L141 208.9 L144 209.6 L147 210.5 L150 211.4 L153 212.3 L156 213.2 L159 214.2 L162 215.2 L165 216.3 L168 217.3 L171 218.4 L174 219.5 L177 220.6 L180 221.7 L183 222.8 L186 223.9 L189 225 L192 226.1 L195 227.2 L198 228.4 L201 229.5 L204 230.8 L207 232.1 L210 233.3 L213 234.6 L216 235.8 L219 237 L222 238.1 L225 239.3 L228 240.4 L231 241.5 L234 242.6 L237 243.7 L240 244.8 L243 245.9 L246 247 L249 248.2 L252 249.3 L255 250.5 L258 251.7 L261 252.9 L264 254.1 L267 255.2 L270 256.3 L273 257.4 L276 258.5 L279 259.6 L282 260.6 L285 261.6 L288 262.6 L291 263.7 L294 264.7 L297 265.7 L300 266.7 L303 267.7 L306 268.7 L309 269.7 L312 270.8 L315 271.9 L318 273 L321 274.1 L324 275.2 L327 276.2 L330 277.2 L333 278.1 L336 279 L339 279.9 L342 280.8 L345 281.6 L348 282.4 L351 283.1 L354 283.8 L357 284.5 L360 285.1 L363 285.8 L366 286.4 L369 287 L372 287.5 L375 288.1 L378 288.7 L381 289.2 L384 289.7 L387 290.2 L390 290.7 L393 291.1 L396 291.5 L399 292 L402 292.3 L405 292.7 L408 293.1 L411 293.4 L414 293.7 L417 294 L420 294.4 L423 294.7 L426 295 L429 295.4 L432 295.7 L435 296.1 L438 296.5 L441 296.9 L444 297.3 L447 297.7 L450 298 L453 298.4 L456 298.7 L459 299 L462 299.2 L465 299.5 L468 299.7 L471 299.9 L474 300.1 L477 300.3 L480 300.5 L483 300.7 L486 300.9 L489 301 L492 301.2 L495 301.3 L498 301.4 L501 301.5 L504 301.6 L507 301.7 L510 301.8 L513 301.9 L516 302 L519 302.1 L522 302.2 L525 302.2 L528 302.3 L531 302.3 L534 302.4 L537 302.5 L540 302.5 L543 302.6 L546 302.6 L549 302.6 L552 302.6 L555 302.6 L558 302.6 L561 302.6 L564 302.6 L567 302.6 L570 302.6 L573 302.6 L576 302.6 L579 302.5 L582 302.5 L585 302.4 L588 302.4 L591 302.3 L594 302.3 L597 302.2 L600 302.2 L603 302.1 L606 302.1 L609 302.1 L612 302.1 L615 302.1 L618 302.1 L621 302 L624 302 L627 302 L630 301.7 L633 301.3 L636 300.7 L639 300 L642 299.1 L645 297.9 L648 296.5 L651 295.1 L654 293.6 L657 291.9 L660 290.1 L663 288.2 L666 286.1 L669 284 L672 281.7 L675 279.3 L678 276.7 L681 274 L684 271.2 L687 268.2 L690 265.1 L693 262.2 L696 259.7 L698.9 257.6 L698.9 259.8 L696 262 L693 264.4 L690 267.2 L687 270.2 L684 273.1 L681 275.8 L678 278.5 L675 281 L672 283.3 L669 285.6 L666 287.7 L663 289.7 L660 291.5 L657 293.3 L654 294.9 L651 296.4 L648 297.8 L645 299.1 L642 300.2 L639 301.2 L636 301.8 L633 302.4 L630 302.8 L627 303.1 L624 303.1 L621 303.1 L618 303.1 L615 303.2 L612 303.2 L609 303.2 L606 303.2 L603 303.2 L600 303.3 L597 303.3 L594 303.4 L591 303.4 L588 303.5 L585 303.5 L582 303.6 L579 303.6 L576 303.7 L573 303.7 L570 303.7 L567 303.7 L564 303.7 L561 303.7 L558 303.7 L555 303.7 L552 303.7 L549 303.7 L546 303.7 L543 303.7 L540 303.6 L537 303.6 L534 303.5 L531 303.5 L528 303.4 L525 303.3 L522 303.3 L519 303.2 L516 303.1 L513 303.1 L510 303 L507 302.9 L504 302.8 L501 302.7 L498 302.6 L495 302.5 L492 302.3 L489 302.2 L486 302 L483 301.9 L480 301.7 L477 301.5 L474 301.3 L471 301.1 L468 300.9 L465 300.7 L462 300.5 L459 300.2 L456 299.9 L453 299.6 L450 299.3 L447 298.9 L444 298.6 L441 298.2 L438 297.8 L435 297.4 L432 297.1 L429 296.7 L426 296.4 L423 296.1 L420 295.8 L417 295.5 L414 295.1 L411 294.8 L408 294.5 L405 294.1 L402 293.8 L399 293.4 L396 293 L393 292.6 L390 292.2 L387 291.7 L384 291.2 L381 290.7 L378 290.2 L375 289.7 L372 289.1 L369 288.6 L366 288 L363 287.4 L360 286.8 L357 286.2 L354 285.5 L351 284.8 L348 284.1 L345 283.4 L342 282.6 L339 281.7 L336 280.9 L333 280 L330 279.1 L327 278.2 L324 277.1 L321 276.1 L318 275 L315 273.9 L312 272.9 L309 271.9 L306 270.9 L303 269.9 L300 268.9 L297 268 L294 267 L291 266 L288 265 L285 264 L282 263 L279 262 L276 261 L273 259.9 L270 258.8 L267 257.8 L264 256.6 L261 255.5 L258 254.3 L255 253.2 L252 252.1 L249 250.9 L246 249.8 L243 248.7 L240 247.6 L237 246.6 L234 245.5 L231 244.5 L228 243.4 L225 242.3 L222 241.2 L219 240.1 L216 238.9 L213 237.7 L210 236.5 L207 235.3 L204 234.1 L201 232.8 L198 231.7 L195 230.6 L192 229.5 L189 228.5 L186 227.4 L183 226.3 L180 225.2 L177 224.1 L174 223.1 L171 222.1 L168 221 L165 220 L162 219 L159 218 L156 217.1 L153 216.2 L150 215.3 L147 214.4 L144 213.6 L141 212.9 L138 212.2 L135 211.6 L132 211.1 L129 210.6 L126 210.2 L123 209.8 L120 209.5 L117 209.2 L114 209 L111 208.8 L108 208.6 L105 208.4 L102 208.2 L99 208.1 L96 207.9 L93 207.8 L90 207.7 L87 207.6 L84 207.5 L81 207.5 L78 207.5Z" fill="#feec9f"/>
<path d="M78 173.2 L81 173.3 L84 173.4 L87 173.6 L90 173.7 L93 173.9 L96 174.1 L99 174.4 L102 174.6 L105 174.9 L108 175.1 L111 175.4 L114 175.7 L117 176 L120 176.4 L123 176.9 L126 177.3 L129 177.9 L132 178.6 L135 179.3 L138 180.1 L141 181 L144 181.9 L147 182.9 L150 184.1 L153 185.2 L156 186.4 L159 187.6 L162 188.9 L165 190.2 L168 191.5 L171 192.8 L174 194.2 L177 195.5 L180 196.8 L183 198.2 L186 199.5 L189 200.9 L192 202.2 L195 203.6 L198 205 L201 206.4 L204 207.9 L207 209.5 L210 211 L213 212.5 L216 213.9 L219 215.4 L222 216.8 L225 218.2 L228 219.6 L231 220.9 L234 222.2 L237 223.5 L240 224.8 L243 226.1 L246 227.5 L249 228.9 L252 230.3 L255 231.7 L258 233.2 L261 234.6 L264 236 L267 237.4 L270 238.7 L273 240 L276 241.3 L279 242.6 L282 243.8 L285 245 L288 246.2 L291 247.5 L294 248.7 L297 249.9 L300 251.1 L303 252.3 L306 253.5 L309 254.7 L312 256 L315 257.3 L318 258.6 L321 260 L324 261.3 L327 262.6 L330 263.8 L333 264.9 L336 266 L339 267.1 L342 268.2 L345 269.1 L348 270.1 L351 271 L354 271.8 L357 272.6 L360 273.4 L363 274.2 L366 274.9 L369 275.6 L372 276.3 L375 277 L378 277.7 L381 278.3 L384 278.9 L387 279.5 L390 280.1 L393 280.6 L396 281.1 L399 281.6 L402 282.1 L405 282.6 L408 283 L411 283.4 L414 283.8 L417 284.2 L420 284.6 L423 285 L426 285.4 L429 285.9 L432 286.3 L435 286.8 L438 287.2 L441 287.7 L444 288.2 L447 288.7 L450 289.1 L453 289.6 L456 289.9 L459 290.3 L462 290.6 L465 290.9 L468 291.2 L471 291.5 L474 291.7 L477 292 L480 292.2 L483 292.4 L486 292.6 L489 292.8 L492 293 L495 293.2 L498 293.4 L501 293.5 L504 293.6 L507 293.8 L510 293.9 L513 294 L516 294.1 L519 294.2 L522 294.3 L525 294.4 L528 294.4 L531 294.5 L534 294.6 L537 294.7 L540 294.8 L543 294.8 L546 294.9 L549 294.9 L552 294.9 L555 294.9 L558 294.9 L561 294.9 L564 294.9 L567 294.9 L570 294.9 L573 294.9 L576 294.9 L579 294.9 L582 294.8 L585 294.8 L588 294.7 L591 294.6 L594 294.6 L597 294.5 L600 294.5 L603 294.5 L606 294.5 L609 294.5 L612 294.5 L615 294.5 L618 294.4 L621 294.4 L624 294.4 L627 294.4 L630 294.1 L633 293.5 L636 292.8 L639 292 L642 290.8 L645 289.4 L648 287.8 L651 286.1 L654 284.2 L657 282.2 L660 280 L663 277.7 L666 275.3 L669 272.8 L672 270.1 L675 267.2 L678 264.2 L681 261 L684 257.7 L687 254.2 L690 250.5 L693 247.2 L696 244.2 L698.9 241.5" fill="none" stroke="#e6a273" stroke-width="0.9"/>
<path d="M210 392 L213 392 L216 392 L219 392 L222 392 L225 392 L228 392 L231 392 L234 392 L237 392 L240 392 L243 392 L246 392 L249 392 L252 392 L255 392 L258 392 L261 392 L264 392 L267 392 L270 392 L273 392 L276 392 L279 392 L282 392 L285 392 L288 392 L291 392 L294 392 L297 392 L300 392 L303 392 L306 392 L309 392 L312 392 L315 392 L318 392 L321 392 L324 392 L327 392 L330 392 L333 392 L336 392 L339 392 L342 392 L345 392 L348 392 L351 392 L354 392 L357 392 L360 392 L363 392 L366 392 L369 392 L372 391.7 L375 391.2 L378 390.8 L381 390.3 L384 389.8 L387 389.4 L390 388.9 L393 388.5 L396 388.1 L399 387.7 L402 387.2 L405 386.8 L408 386.5 L411 386.1 L414 385.7 L417 385.3 L420 384.9 L423 384.6 L426 384.2 L429 383.8 L432 383.4 L435 382.9 L438 382.5 L441 382.1 L444 381.6 L447 381.2 L450 380.7 L453 380.3 L456 379.9 L459 379.6 L462 379.3 L465 379 L468 378.7 L471 378.5 L474 378.2 L477 377.9 L480 377.7 L483 377.5 L486 377.3 L489 377.1 L492 376.9 L495 376.7 L498 376.5 L501 376.3 L504 376.1 L507 376 L510 375.8 L513 375.7 L516 375.5 L519 375.4 L522 375.3 L525 375.2 L528 375 L531 374.9 L534 374.8 L537 374.7 L540 374.6 L543 374.4 L546 374.4 L549 374.3 L552 374.3 L555 374.3 L558 374.2 L561 374.2 L564 374.1 L567 374.1 L570 374 L573 373.9 L576 373.8 L579 373.8 L582 373.7 L585 373.7 L588 373.7 L591 373.7 L594 373.6 L597 373.6 L600 373.5 L603 373.3 L606 373.1 L609 372.9 L612 372.8 L615 372.8 L618 372.8 L621 372.8 L624 372.8 L627 372.8 L630 373.1 L633 373.6 L636 374.1 L639 374.6 L642 375.6 L645 376.7 L648 377.9 L651 379.2 L654 380.6 L657 382.2 L660 383.7 L663 385.1 L666 386.5 L669 388 L672 389.5 L675 391.1 L678 392 L681 392 L684 392 L687 392 L690 392 L693 392 L696 392 L698.9 392 L698.9 370.7 L696 369.5 L693 368.5 L690 368 L687 367.2 L684 366.3 L681 365.7 L678 365 L675 364.4 L672 363.8 L669 363.2 L666 362.6 L663 362.1 L660 361.4 L657 360.7 L654 360 L651 359.3 L648 358.7 L645 358.1 L642 357.5 L639 357.1 L636 356.8 L633 356.6 L630 356.3 L627 356.2 L624 356.2 L621 356.2 L618 356.2 L615 356.2 L612 356.2 L609 356.3 L606 356.4 L603 356.6 L600 356.7 L597 356.8 L594 356.9 L591 356.9 L588 356.9 L585 357 L582 357 L579 357 L576 357.1 L573 357.2 L570 357.2 L567 357.3 L564 357.3 L561 357.4 L558 357.4 L555 357.4 L552 357.5 L549 357.5 L546 357.5 L543 357.6 L540 357.6 L537 357.7 L534 357.8 L531 357.9 L528 357.9 L525 358 L522 358.1 L519 358.2 L516 358.2 L513 358.3 L510 358.4 L507 358.5 L504 358.6 L501 358.7 L498 358.8 L495 358.9 L492 359 L489 359.1 L486 359.3 L483 359.4 L480 359.5 L477 359.6 L474 359.8 L471 359.9 L468 360.1 L465 360.2 L462 360.4 L459 360.6 L456 360.7 L453 361 L450 361.2 L447 361.4 L444 361.6 L441 361.9 L438 362.1 L435 362.4 L432 362.6 L429 362.8 L426 363 L423 363.2 L420 363.4 L417 363.7 L414 363.9 L411 364.1 L408 364.3 L405 364.5 L402 364.7 L399 364.9 L396 365.1 L393 365.3 L390 365.6 L387 365.8 L384 366 L381 366.2 L378 366.4 L375 366.6 L372 366.9 L369 367.1 L366 367.3 L363 367.5 L360 367.8 L357 368.1 L354 368.4 L351 368.7 L348 369 L345 369.4 L342 369.8 L339 370.3 L336 370.8 L333 371.3 L330 371.8 L327 372.3 L324 372.9 L321 373.5 L318 374.1 L315 374.7 L312 375.3 L309 375.8 L306 376.2 L303 376.6 L300 376.9 L297 377.3 L294 377.6 L291 378 L288 378.3 L285 378.6 L282 378.9 L279 379.3 L276 379.6 L273 380 L270 380.5 L267 380.9 L264 381.4 L261 381.8 L258 382.3 L255 382.9 L252 383.4 L249 383.9 L246 384.4 L243 385 L240 385.5 L237 385.9 L234 386.4 L231 386.9 L228 387.3 L225 387.8 L222 388.3 L219 388.8 L216 389.4 L213 389.9 L210 390.5Z" fill="#f99697"/>
<path d="M210 392 L213 392 L216 392 L219 392 L222 392 L225 392 L228 392 L231 392 L234 392 L237 392 L240 392 L243 392 L246 392 L249 392 L252 392 L255 392 L258 392 L261 392 L264 392 L267 392 L270 392 L273 392 L276 392 L279 392 L282 392 L285 392 L288 392 L291 392 L294 392 L297 392 L300 392 L303 392 L306 392 L309 392 L312 392 L315 392 L318 392 L321 392 L324 392 L327 392 L330 392 L333 392 L336 392 L339 392 L342 392 L345 392 L348 391.7 L351 391 L354 390.4 L357 389.8 L360 389.3 L363 388.8 L366 388.3 L369 387.8 L372 387.4 L375 386.9 L378 386.5 L381 386.1 L384 385.7 L387 385.3 L390 384.8 L393 384.4 L396 384 L399 383.6 L402 383.3 L405 382.9 L408 382.5 L411 382.2 L414 381.8 L417 381.5 L420 381.1 L423 380.8 L426 380.4 L429 380 L432 379.6 L435 379.2 L438 378.8 L441 378.4 L444 378 L447 377.6 L450 377.2 L453 376.8 L456 376.4 L459 376.1 L462 375.8 L465 375.6 L468 375.3 L471 375.1 L474 374.8 L477 374.6 L480 374.4 L483 374.1 L486 373.9 L489 373.8 L492 373.6 L495 373.4 L498 373.2 L501 373.1 L504 372.9 L507 372.7 L510 372.6 L513 372.5 L516 372.3 L519 372.2 L522 372.1 L525 372 L528 371.9 L531 371.7 L534 371.6 L537 371.5 L540 371.4 L543 371.3 L546 371.2 L549 371.2 L552 371.2 L555 371.1 L558 371.1 L561 371.1 L564 371 L567 370.9 L570 370.9 L573 370.8 L576 370.7 L579 370.7 L582 370.6 L585 370.6 L588 370.6 L591 370.5 L594 370.5 L597 370.4 L600 370.4 L603 370.2 L606 369.9 L609 369.8 L612 369.7 L615 369.7 L618 369.7 L621 369.7 L624 369.7 L627 369.7 L630 370 L633 370.4 L636 370.9 L639 371.4 L642 372.2 L645 373.3 L648 374.4 L651 375.6 L654 376.9 L657 378.3 L660 379.7 L663 381.1 L666 382.4 L669 383.7 L672 385.1 L675 386.5 L678 388.1 L681 389.7 L684 391.4 L687 392 L690 392 L693 392 L696 392 L698.9 392 L698.9 370.7 L696 369.5 L693 368.5 L690 368 L687 367.2 L684 366.3 L681 365.7 L678 365 L675 364.4 L672 363.8 L669 363.2 L666 362.6 L663 362.1 L660 361.4 L657 360.7 L654 360 L651 359.3 L648 358.7 L645 358.1 L642 357.5 L639 357.1 L636 356.8 L633 356.6 L630 356.3 L627 356.2 L624 356.2 L621 356.2 L618 356.2 L615 356.2 L612 356.2 L609 356.3 L606 356.4 L603 356.6 L600 356.7 L597 356.8 L594 356.9 L591 356.9 L588 356.9 L585 357 L582 357 L579 357 L576 357.1 L573 357.2 L570 357.2 L567 357.3 L564 357.3 L561 357.4 L558 357.4 L555 357.4 L552 357.5 L549 357.5 L546 357.5 L543 357.6 L540 357.6 L537 357.7 L534 357.8 L531 357.9 L528 357.9 L525 358 L522 358.1 L519 358.2 L516 358.2 L513 358.3 L510 358.4 L507 358.5 L504 358.6 L501 358.7 L498 358.8 L495 358.9 L492 359 L489 359.1 L486 359.3 L483 359.4 L480 359.5 L477 359.6 L474 359.8 L471 359.9 L468 360.1 L465 360.2 L462 360.4 L459 360.6 L456 360.7 L453 361 L450 361.2 L447 361.4 L444 361.6 L441 361.9 L438 362.1 L435 362.4 L432 362.6 L429 362.8 L426 363 L423 363.2 L420 363.4 L417 363.7 L414 363.9 L411 364.1 L408 364.3 L405 364.5 L402 364.7 L399 364.9 L396 365.1 L393 365.3 L390 365.6 L387 365.8 L384 366 L381 366.2 L378 366.4 L375 366.6 L372 366.9 L369 367.1 L366 367.3 L363 367.5 L360 367.8 L357 368.1 L354 368.4 L351 368.7 L348 369 L345 369.4 L342 369.8 L339 370.3 L336 370.8 L333 371.3 L330 371.8 L327 372.3 L324 372.9 L321 373.5 L318 374.1 L315 374.7 L312 375.3 L309 375.8 L306 376.2 L303 376.6 L300 376.9 L297 377.3 L294 377.6 L291 378 L288 378.3 L285 378.6 L282 378.9 L279 379.3 L276 379.6 L273 380 L270 380.5 L267 380.9 L264 381.4 L261 381.8 L258 382.3 L255 382.9 L252 383.4 L249 383.9 L246 384.4 L243 385 L240 385.5 L237 385.9 L234 386.4 L231 386.9 L228 387.3 L225 387.8 L222 388.3 L219 388.8 L216 389.4 L213 389.9 L210 390.5Z" fill="#fbb096"/>
<path d="M210 392 L213 392 L216 392 L219 392 L222 392 L225 392 L228 392 L231 392 L234 392 L237 392 L240 392 L243 392 L246 392 L249 392 L252 392 L255 392 L258 392 L261 392 L264 392 L267 392 L270 392 L273 392 L276 392 L279 392 L282 392 L285 392 L288 392 L291 392 L294 392 L297 392 L300 392 L303 392 L306 392 L309 392 L312 392 L315 392 L318 392 L321 392 L324 392 L327 392 L330 392 L333 392 L336 392 L339 392 L342 391.5 L345 390.8 L348 390.1 L351 389.5 L354 388.9 L357 388.3 L360 387.8 L363 387.3 L366 386.8 L369 386.4 L372 386 L375 385.5 L378 385.1 L381 384.7 L384 384.3 L387 383.9 L390 383.5 L393 383.1 L396 382.7 L399 382.3 L402 382 L405 381.6 L408 381.3 L411 380.9 L414 380.6 L417 380.2 L420 379.9 L423 379.5 L426 379.2 L429 378.8 L432 378.5 L435 378.1 L438 377.7 L441 377.3 L444 376.9 L447 376.5 L450 376.1 L453 375.7 L456 375.4 L459 375.1 L462 374.8 L465 374.5 L468 374.3 L471 374 L474 373.8 L477 373.5 L480 373.3 L483 373.1 L486 372.9 L489 372.7 L492 372.6 L495 372.4 L498 372.2 L501 372.1 L504 371.9 L507 371.8 L510 371.6 L513 371.5 L516 371.4 L519 371.2 L522 371.1 L525 371 L528 370.9 L531 370.8 L534 370.7 L537 370.6 L540 370.4 L543 370.4 L546 370.3 L549 370.2 L552 370.2 L555 370.2 L558 370.2 L561 370.1 L564 370.1 L567 370 L570 369.9 L573 369.9 L576 369.8 L579 369.7 L582 369.7 L585 369.6 L588 369.6 L591 369.6 L594 369.6 L597 369.5 L600 369.4 L603 369.2 L606 369 L609 368.8 L612 368.8 L615 368.7 L618 368.7 L621 368.7 L624 368.7 L627 368.7 L630 369 L633 369.5 L636 369.9 L639 370.4 L642 371.2 L645 372.2 L648 373.3 L651 374.5 L654 375.8 L657 377.1 L660 378.5 L663 379.7 L666 381 L669 382.3 L672 383.6 L675 385 L678 386.5 L681 388.1 L684 389.6 L687 391.5 L690 392 L693 392 L696 392 L698.9 392 L698.9 370.7 L696 369.5 L693 368.5 L690 368 L687 367.2 L684 366.3 L681 365.7 L678 365 L675 364.4 L672 363.8 L669 363.2 L666 362.6 L663 362.1 L660 361.4 L657 360.7 L654 360 L651 359.3 L648 358.7 L645 358.1 L642 357.5 L639 357.1 L636 356.8 L633 356.6 L630 356.3 L627 356.2 L624 356.2 L621 356.2 L618 356.2 L615 356.2 L612 356.2 L609 356.3 L606 356.4 L603 356.6 L600 356.7 L597 356.8 L594 356.9 L591 356.9 L588 356.9 L585 357 L582 357 L579 357 L576 357.1 L573 357.2 L570 357.2 L567 357.3 L564 357.3 L561 357.4 L558 357.4 L555 357.4 L552 357.5 L549 357.5 L546 357.5 L543 357.6 L540 357.6 L537 357.7 L534 357.8 L531 357.9 L528 357.9 L525 358 L522 358.1 L519 358.2 L516 358.2 L513 358.3 L510 358.4 L507 358.5 L504 358.6 L501 358.7 L498 358.8 L495 358.9 L492 359 L489 359.1 L486 359.3 L483 359.4 L480 359.5 L477 359.6 L474 359.8 L471 359.9 L468 360.1 L465 360.2 L462 360.4 L459 360.6 L456 360.7 L453 361 L450 361.2 L447 361.4 L444 361.6 L441 361.9 L438 362.1 L435 362.4 L432 362.6 L429 362.8 L426 363 L423 363.2 L420 363.4 L417 363.7 L414 363.9 L411 364.1 L408 364.3 L405 364.5 L402 364.7 L399 364.9 L396 365.1 L393 365.3 L390 365.6 L387 365.8 L384 366 L381 366.2 L378 366.4 L375 366.6 L372 366.9 L369 367.1 L366 367.3 L363 367.5 L360 367.8 L357 368.1 L354 368.4 L351 368.7 L348 369 L345 369.4 L342 369.8 L339 370.3 L336 370.8 L333 371.3 L330 371.8 L327 372.3 L324 372.9 L321 373.5 L318 374.1 L315 374.7 L312 375.3 L309 375.8 L306 376.2 L303 376.6 L300 376.9 L297 377.3 L294 377.6 L291 378 L288 378.3 L285 378.6 L282 378.9 L279 379.3 L276 379.6 L273 380 L270 380.5 L267 380.9 L264 381.4 L261 381.8 L258 382.3 L255 382.9 L252 383.4 L249 383.9 L246 384.4 L243 385 L240 385.5 L237 385.9 L234 386.4 L231 386.9 L228 387.3 L225 387.8 L222 388.3 L219 388.8 L216 389.4 L213 389.9 L210 390.5Z" fill="#fbb496"/>
<path d="M210 392 L213 392 L216 392 L219 392 L222 392 L225 392 L228 392 L231 392 L234 392 L237 392 L240 392 L243 392 L246 392 L249 392 L252 392 L255 392 L258 392 L261 392 L264 392 L267 392 L270 392 L273 392 L276 392 L279 392 L282 392 L285 392 L288 392 L291 392 L294 392 L297 392 L300 392 L303 392 L306 392 L309 392 L312 392 L315 392 L318 392 L321 392 L324 392 L327 392 L330 392 L333 392 L336 391.5 L339 390.7 L342 389.9 L345 389.2 L348 388.5 L351 387.9 L354 387.4 L357 386.8 L360 386.3 L363 385.8 L366 385.4 L369 385 L372 384.5 L375 384.1 L378 383.7 L381 383.3 L384 383 L387 382.6 L390 382.2 L393 381.8 L396 381.4 L399 381 L402 380.7 L405 380.3 L408 380 L411 379.7 L414 379.3 L417 379 L420 378.7 L423 378.3 L426 378 L429 377.6 L432 377.3 L435 376.9 L438 376.5 L441 376.1 L444 375.7 L447 375.3 L450 375 L453 374.6 L456 374.3 L459 374 L462 373.7 L465 373.4 L468 373.2 L471 373 L474 372.7 L477 372.5 L480 372.3 L483 372.1 L486 371.9 L489 371.7 L492 371.6 L495 371.4 L498 371.2 L501 371.1 L504 370.9 L507 370.8 L510 370.6 L513 370.5 L516 370.4 L519 370.3 L522 370.1 L525 370 L528 369.9 L531 369.8 L534 369.7 L537 369.6 L540 369.5 L543 369.4 L546 369.3 L549 369.3 L552 369.3 L555 369.2 L558 369.2 L561 369.2 L564 369.1 L567 369 L570 369 L573 368.9 L576 368.8 L579 368.8 L582 368.7 L585 368.7 L588 368.7 L591 368.7 L594 368.6 L597 368.6 L600 368.5 L603 368.3 L606 368.1 L609 367.9 L612 367.8 L615 367.8 L618 367.8 L621 367.8 L624 367.8 L627 367.8 L630 368.1 L633 368.5 L636 368.9 L639 369.4 L642 370.2 L645 371.2 L648 372.3 L651 373.3 L654 374.6 L657 375.9 L660 377.2 L663 378.4 L666 379.6 L669 380.9 L672 382.2 L675 383.5 L678 384.9 L681 386.4 L684 387.9 L687 389.6 L690 391.4 L693 392 L696 392 L698.9 392 L698.9 370.7 L696 369.5 L693 368.5 L690 368 L687 367.2 L684 366.3 L681 365.7 L678 365 L675 364.4 L672 363.8 L669 363.2 L666 362.6 L663 362.1 L660 361.4 L657 360.7 L654 360 L651 359.3 L648 358.7 L645 358.1 L642 357.5 L639 357.1 L636 356.8 L633 356.6 L630 356.3 L627 356.2 L624 356.2 L621 356.2 L618 356.2 L615 356.2 L612 356.2 L609 356.3 L606 356.4 L603 356.6 L600 356.7 L597 356.8 L594 356.9 L591 356.9 L588 356.9 L585 357 L582 357 L579 357 L576 357.1 L573 357.2 L570 357.2 L567 357.3 L564 357.3 L561 357.4 L558 357.4 L555 357.4 L552 357.5 L549 357.5 L546 357.5 L543 357.6 L540 357.6 L537 357.7 L534 357.8 L531 357.9 L528 357.9 L525 358 L522 358.1 L519 358.2 L516 358.2 L513 358.3 L510 358.4 L507 358.5 L504 358.6 L501 358.7 L498 358.8 L495 358.9 L492 359 L489 359.1 L486 359.3 L483 359.4 L480 359.5 L477 359.6 L474 359.8 L471 359.9 L468 360.1 L465 360.2 L462 360.4 L459 360.6 L456 360.7 L453 361 L450 361.2 L447 361.4 L444 361.6 L441 361.9 L438 362.1 L435 362.4 L432 362.6 L429 362.8 L426 363 L423 363.2 L420 363.4 L417 363.7 L414 363.9 L411 364.1 L408 364.3 L405 364.5 L402 364.7 L399 364.9 L396 365.1 L393 365.3 L390 365.6 L387 365.8 L384 366 L381 366.2 L378 366.4 L375 366.6 L372 366.9 L369 367.1 L366 367.3 L363 367.5 L360 367.8 L357 368.1 L354 368.4 L351 368.7 L348 369 L345 369.4 L342 369.8 L339 370.3 L336 370.8 L333 371.3 L330 371.8 L327 372.3 L324 372.9 L321 373.5 L318 374.1 L315 374.7 L312 375.3 L309 375.8 L306 376.2 L303 376.6 L300 376.9 L297 377.3 L294 377.6 L291 378 L288 378.3 L285 378.6 L282 378.9 L279 379.3 L276 379.6 L273 380 L270 380.5 L267 380.9 L264 381.4 L261 381.8 L258 382.3 L255 382.9 L252 383.4 L249 383.9 L246 384.4 L243 385 L240 385.5 L237 385.9 L234 386.4 L231 386.9 L228 387.3 L225 387.8 L222 388.3 L219 388.8 L216 389.4 L213 389.9 L210 390.5Z" fill="#fcb896"/>
<path d="M210 392 L213 392 L216 392 L219 392 L222 392 L225 392 L228 392 L231 392 L234 392 L237 392 L240 392 L243 392 L246 392 L249 392 L252 392 L255 392 L258 392 L261 392 L264 392 L267 392 L270 392 L273 392 L276 392 L279 392 L282 392 L285 392 L288 392 L291 392 L294 392 L297 392 L300 392 L303 392 L306 392 L309 392 L312 392 L315 392 L318 392 L321 392 L324 392 L327 392 L330 391.4 L333 390.6 L336 389.8 L339 389 L342 388.3 L345 387.6 L348 387 L351 386.4 L354 385.8 L357 385.3 L360 384.8 L363 384.4 L366 383.9 L369 383.5 L372 383.1 L375 382.7 L378 382.4 L381 382 L384 381.6 L387 381.2 L390 380.8 L393 380.5 L396 380.1 L399 379.8 L402 379.4 L405 379.1 L408 378.7 L411 378.4 L414 378.1 L417 377.8 L420 377.5 L423 377.1 L426 376.8 L429 376.5 L432 376.1 L435 375.8 L438 375.4 L441 375 L444 374.6 L447 374.2 L450 373.9 L453 373.5 L456 373.2 L459 372.9 L462 372.6 L465 372.4 L468 372.1 L471 371.9 L474 371.7 L477 371.5 L480 371.3 L483 371.1 L486 370.9 L489 370.7 L492 370.6 L495 370.4 L498 370.2 L501 370.1 L504 369.9 L507 369.8 L510 369.7 L513 369.5 L516 369.4 L519 369.3 L522 369.2 L525 369.1 L528 369 L531 368.9 L534 368.8 L537 368.6 L540 368.5 L543 368.5 L546 368.4 L549 368.3 L552 368.3 L555 368.3 L558 368.3 L561 368.2 L564 368.2 L567 368.1 L570 368 L573 368 L576 367.9 L579 367.8 L582 367.8 L585 367.8 L588 367.7 L591 367.7 L594 367.7 L597 367.6 L600 367.5 L603 367.4 L606 367.1 L609 367 L612 366.9 L615 366.9 L618 366.9 L621 366.9 L624 366.9 L627 366.9 L630 367.2 L633 367.6 L636 368 L639 368.4 L642 369.2 L645 370.1 L648 371.2 L651 372.2 L654 373.4 L657 374.7 L660 376 L663 377.1 L666 378.3 L669 379.5 L672 380.7 L675 381.9 L678 383.3 L681 384.7 L684 386.2 L687 387.8 L690 389.5 L693 390.8 L696 392 L698.9 392 L698.9 370.7 L696 369.5 L693 368.5 L690 368 L687 367.2 L684 366.3 L681 365.7 L678 365 L675 364.4 L672 363.8 L669 363.2 L666 362.6 L663 362.1 L660 361.4 L657 360.7 L654 360 L651 359.3 L648 358.7 L645 358.1 L642 357.5 L639 357.1 L636 356.8 L633 356.6 L630 356.3 L627 356.2 L624 356.2 L621 356.2 L618 356.2 L615 356.2 L612 356.2 L609 356.3 L606 356.4 L603 356.6 L600 356.7 L597 356.8 L594 356.9 L591 356.9 L588 356.9 L585 357 L582 357 L579 357 L576 357.1 L573 357.2 L570 357.2 L567 357.3 L564 357.3 L561 357.4 L558 357.4 L555 357.4 L552 357.5 L549 357.5 L546 357.5 L543 357.6 L540 357.6 L537 357.7 L534 357.8 L531 357.9 L528 357.9 L525 358 L522 358.1 L519 358.2 L516 358.2 L513 358.3 L510 358.4 L507 358.5 L504 358.6 L501 358.7 L498 358.8 L495 358.9 L492 359 L489 359.1 L486 359.3 L483 359.4 L480 359.5 L477 359.6 L474 359.8 L471 359.9 L468 360.1 L465 360.2 L462 360.4 L459 360.6 L456 360.7 L453 361 L450 361.2 L447 361.4 L444 361.6 L441 361.9 L438 362.1 L435 362.4 L432 362.6 L429 362.8 L426 363 L423 363.2 L420 363.4 L417 363.7 L414 363.9 L411 364.1 L408 364.3 L405 364.5 L402 364.7 L399 364.9 L396 365.1 L393 365.3 L390 365.6 L387 365.8 L384 366 L381 366.2 L378 366.4 L375 366.6 L372 366.9 L369 367.1 L366 367.3 L363 367.5 L360 367.8 L357 368.1 L354 368.4 L351 368.7 L348 369 L345 369.4 L342 369.8 L339 370.3 L336 370.8 L333 371.3 L330 371.8 L327 372.3 L324 372.9 L321 373.5 L318 374.1 L315 374.7 L312 375.3 L309 375.8 L306 376.2 L303 376.6 L300 376.9 L297 377.3 L294 377.6 L291 378 L288 378.3 L285 378.6 L282 378.9 L279 379.3 L276 379.6 L273 380 L270 380.5 L267 380.9 L264 381.4 L261 381.8 L258 382.3 L255 382.9 L252 383.4 L249 383.9 L246 384.4 L243 385 L240 385.5 L237 385.9 L234 386.4 L231 386.9 L228 387.3 L225 387.8 L222 388.3 L219 388.8 L216 389.4 L213 389.9 L210 390.5Z" fill="#fcbd96"/>
<path d="M210 392 L213 392 L216 392 L219 392 L222 392 L225 392 L228 392 L231 392 L234 392 L237 392 L240 392 L243 392 L246 392 L249 392 L252 392 L255 392 L258 392 L261 392 L264 392 L267 392 L270 392 L273 392 L276 392 L279 392 L282 392 L285 392 L288 392 L291 392 L294 392 L297 392 L300 392 L303 392 L306 392 L309 392 L312 392 L315 392 L318 392 L321 392 L324 391.5 L327 390.5 L330 389.7 L333 388.9 L336 388.1 L339 387.4 L342 386.7 L345 386 L348 385.4 L351 384.8 L354 384.3 L357 383.8 L360 383.3 L363 382.9 L366 382.5 L369 382.1 L372 381.7 L375 381.3 L378 381 L381 380.6 L384 380.2 L387 379.9 L390 379.5 L393 379.2 L396 378.8 L399 378.5 L402 378.1 L405 377.8 L408 377.5 L411 377.2 L414 376.9 L417 376.5 L420 376.2 L423 375.9 L426 375.6 L429 375.3 L432 374.9 L435 374.6 L438 374.2 L441 373.9 L444 373.5 L447 373.1 L450 372.8 L453 372.4 L456 372.1 L459 371.8 L462 371.6 L465 371.3 L468 371.1 L471 370.9 L474 370.7 L477 370.5 L480 370.3 L483 370.1 L486 369.9 L489 369.7 L492 369.5 L495 369.4 L498 369.2 L501 369.1 L504 368.9 L507 368.8 L510 368.7 L513 368.6 L516 368.4 L519 368.3 L522 368.2 L525 368.1 L528 368 L531 367.9 L534 367.8 L537 367.7 L540 367.6 L543 367.5 L546 367.4 L549 367.4 L552 367.4 L555 367.3 L558 367.3 L561 367.3 L564 367.2 L567 367.2 L570 367.1 L573 367 L576 367 L579 366.9 L582 366.9 L585 366.8 L588 366.8 L591 366.8 L594 366.7 L597 366.7 L600 366.6 L603 366.4 L606 366.2 L609 366 L612 366 L615 365.9 L618 365.9 L621 365.9 L624 365.9 L627 365.9 L630 366.2 L633 366.6 L636 367 L639 367.4 L642 368.2 L645 369.1 L648 370.1 L651 371.1 L654 372.3 L657 373.5 L660 374.7 L663 375.8 L666 376.9 L669 378.1 L672 379.2 L675 380.4 L678 381.7 L681 383.1 L684 384.4 L687 386 L690 387.6 L693 388.9 L696 390.5 L698.9 392 L698.9 370.7 L696 369.5 L693 368.5 L690 368 L687 367.2 L684 366.3 L681 365.7 L678 365 L675 364.4 L672 363.8 L669 363.2 L666 362.6 L663 362.1 L660 361.4 L657 360.7 L654 360 L651 359.3 L648 358.7 L645 358.1 L642 357.5 L639 357.1 L636 356.8 L633 356.6 L630 356.3 L627 356.2 L624 356.2 L621 356.2 L618 356.2 L615 356.2 L612 356.2 L609 356.3 L606 356.4 L603 356.6 L600 356.7 L597 356.8 L594 356.9 L591 356.9 L588 356.9 L585 357 L582 357 L579 357 L576 357.1 L573 357.2 L570 357.2 L567 357.3 L564 357.3 L561 357.4 L558 357.4 L555 357.4 L552 357.5 L549 357.5 L546 357.5 L543 357.6 L540 357.6 L537 357.7 L534 357.8 L531 357.9 L528 357.9 L525 358 L522 358.1 L519 358.2 L516 358.2 L513 358.3 L510 358.4 L507 358.5 L504 358.6 L501 358.7 L498 358.8 L495 358.9 L492 359 L489 359.1 L486 359.3 L483 359.4 L480 359.5 L477 359.6 L474 359.8 L471 359.9 L468 360.1 L465 360.2 L462 360.4 L459 360.6 L456 360.7 L453 361 L450 361.2 L447 361.4 L444 361.6 L441 361.9 L438 362.1 L435 362.4 L432 362.6 L429 362.8 L426 363 L423 363.2 L420 363.4 L417 363.7 L414 363.9 L411 364.1 L408 364.3 L405 364.5 L402 364.7 L399 364.9 L396 365.1 L393 365.3 L390 365.6 L387 365.8 L384 366 L381 366.2 L378 366.4 L375 366.6 L372 366.9 L369 367.1 L366 367.3 L363 367.5 L360 367.8 L357 368.1 L354 368.4 L351 368.7 L348 369 L345 369.4 L342 369.8 L339 370.3 L336 370.8 L333 371.3 L330 371.8 L327 372.3 L324 372.9 L321 373.5 L318 374.1 L315 374.7 L312 375.3 L309 375.8 L306 376.2 L303 376.6 L300 376.9 L297 377.3 L294 377.6 L291 378 L288 378.3 L285 378.6 L282 378.9 L279 379.3 L276 379.6 L273 380 L270 380.5 L267 380.9 L264 381.4 L261 381.8 L258 382.3 L255 382.9 L252 383.4 L249 383.9 L246 384.4 L243 385 L240 385.5 L237 385.9 L234 386.4 L231 386.9 L228 387.3 L225 387.8 L222 388.3 L219 388.8 L216 389.4 L213 389.9 L210 390.5Z" fill="#fcc195"/>
<path d="M210 392 L213 392 L216 392 L219 392 L222 392 L225 392 L228 392 L231 392 L234 392 L237 392 L240 392 L243 392 L246 392 L249 392 L252 392 L255 392 L258 392 L261 392 L264 392 L267 392 L270 392 L273 392 L276 392 L279 392 L282 392 L285 392 L288 392 L291 392 L294 392 L297 392 L300 392 L303 392 L306 392 L309 392 L312 392 L315 392 L318 391.5 L321 390.6 L324 389.7 L327 388.8 L330 388 L333 387.2 L336 386.5 L339 385.8 L342 385.1 L345 384.4 L348 383.8 L351 383.3 L354 382.8 L357 382.3 L360 381.9 L363 381.4 L366 381 L369 380.7 L372 380.3 L375 379.9 L378 379.6 L381 379.2 L384 378.9 L387 378.5 L390 378.2 L393 377.8 L396 377.5 L399 377.2 L402 376.8 L405 376.5 L408 376.2 L411 375.9 L414 375.6 L417 375.3 L420 375 L423 374.7 L426 374.4 L429 374.1 L432 373.8 L435 373.4 L438 373.1 L441 372.7 L444 372.4 L447 372 L450 371.7 L453 371.3 L456 371 L459 370.8 L462 370.5 L465 370.3 L468 370 L471 369.8 L474 369.6 L477 369.4 L480 369.2 L483 369.1 L486 368.9 L489 368.7 L492 368.5 L495 368.4 L498 368.2 L501 368.1 L504 368 L507 367.8 L510 367.7 L513 367.6 L516 367.5 L519 367.4 L522 367.2 L525 367.1 L528 367 L531 366.9 L534 366.8 L537 366.7 L540 366.6 L543 366.6 L546 366.5 L549 366.5 L552 366.4 L555 366.4 L558 366.4 L561 366.3 L564 366.3 L567 366.2 L570 366.2 L573 366.1 L576 366 L579 366 L582 365.9 L585 365.9 L588 365.9 L591 365.8 L594 365.8 L597 365.7 L600 365.6 L603 365.5 L606 365.3 L609 365.1 L612 365 L615 365 L618 365 L621 365 L624 365 L627 365 L630 365.3 L633 365.6 L636 366 L639 366.4 L642 367.2 L645 368 L648 369 L651 370 L654 371.1 L657 372.3 L660 373.4 L663 374.5 L666 375.5 L669 376.7 L672 377.7 L675 378.9 L678 380.1 L681 381.4 L684 382.7 L687 384.2 L690 385.7 L693 386.9 L696 388.5 L698.9 390.4 L698.9 370.7 L696 369.5 L693 368.5 L690 368 L687 367.2 L684 366.3 L681 365.7 L678 365 L675 364.4 L672 363.8 L669 363.2 L666 362.6 L663 362.1 L660 361.4 L657 360.7 L654 360 L651 359.3 L648 358.7 L645 358.1 L642 357.5 L639 357.1 L636 356.8 L633 356.6 L630 356.3 L627 356.2 L624 356.2 L621 356.2 L618 356.2 L615 356.2 L612 356.2 L609 356.3 L606 356.4 L603 356.6 L600 356.7 L597 356.8 L594 356.9 L591 356.9 L588 356.9 L585 357 L582 357 L579 357 L576 357.1 L573 357.2 L570 357.2 L567 357.3 L564 357.3 L561 357.4 L558 357.4 L555 357.4 L552 357.5 L549 357.5 L546 357.5 L543 357.6 L540 357.6 L537 357.7 L534 357.8 L531 357.9 L528 357.9 L525 358 L522 358.1 L519 358.2 L516 358.2 L513 358.3 L510 358.4 L507 358.5 L504 358.6 L501 358.7 L498 358.8 L495 358.9 L492 359 L489 359.1 L486 359.3 L483 359.4 L480 359.5 L477 359.6 L474 359.8 L471 359.9 L468 360.1 L465 360.2 L462 360.4 L459 360.6 L456 360.7 L453 361 L450 361.2 L447 361.4 L444 361.6 L441 361.9 L438 362.1 L435 362.4 L432 362.6 L429 362.8 L426 363 L423 363.2 L420 363.4 L417 363.7 L414 363.9 L411 364.1 L408 364.3 L405 364.5 L402 364.7 L399 364.9 L396 365.1 L393 365.3 L390 365.6 L387 365.8 L384 366 L381 366.2 L378 366.4 L375 366.6 L372 366.9 L369 367.1 L366 367.3 L363 367.5 L360 367.8 L357 368.1 L354 368.4 L351 368.7 L348 369 L345 369.4 L342 369.8 L339 370.3 L336 370.8 L333 371.3 L330 371.8 L327 372.3 L324 372.9 L321 373.5 L318 374.1 L315 374.7 L312 375.3 L309 375.8 L306 376.2 L303 376.6 L300 376.9 L297 377.3 L294 377.6 L291 378 L288 378.3 L285 378.6 L282 378.9 L279 379.3 L276 379.6 L273 380 L270 380.5 L267 380.9 L264 381.4 L261 381.8 L258 382.3 L255 382.9 L252 383.4 L249 383.9 L246 384.4 L243 385 L240 385.5 L237 385.9 L234 386.4 L231 386.9 L228 387.3 L225 387.8 L222 388.3 L219 388.8 L216 389.4 L213 389.9 L210 390.5Z" fill="#fbc694"/>
<path d="M210 392 L213 392 L216 392 L219 392 L222 392 L225 392 L228 392 L231 392 L234 392 L237 392 L240 392 L243 392 L246 392 L249 392 L252 392 L255 392 L258 392 L261 392 L264 392 L267 392 L270 392 L273 392 L276 392 L279 392 L282 392 L285 392 L288 392 L291 392 L294 392 L297 392 L300 392 L303 392 L306 392 L309 392 L312 391.4 L315 390.5 L318 389.7 L321 388.8 L324 387.9 L327 387 L330 386.3 L333 385.5 L336 384.8 L339 384.1 L342 383.5 L345 382.8 L348 382.3 L351 381.7 L354 381.3 L357 380.8 L360 380.4 L363 380 L366 379.6 L369 379.2 L372 378.9 L375 378.5 L378 378.2 L381 377.8 L384 377.5 L387 377.2 L390 376.9 L393 376.5 L396 376.2 L399 375.9 L402 375.6 L405 375.3 L408 375 L411 374.7 L414 374.4 L417 374.1 L420 373.8 L423 373.5 L426 373.2 L429 372.9 L432 372.6 L435 372.3 L438 371.9 L441 371.6 L444 371.2 L447 370.9 L450 370.6 L453 370.2 L456 369.9 L459 369.7 L462 369.4 L465 369.2 L468 369 L471 368.8 L474 368.6 L477 368.4 L480 368.2 L483 368 L486 367.9 L489 367.7 L492 367.5 L495 367.4 L498 367.2 L501 367.1 L504 367 L507 366.8 L510 366.7 L513 366.6 L516 366.5 L519 366.4 L522 366.3 L525 366.2 L528 366.1 L531 366 L534 365.9 L537 365.8 L540 365.7 L543 365.6 L546 365.5 L549 365.5 L552 365.5 L555 365.5 L558 365.4 L561 365.4 L564 365.3 L567 365.3 L570 365.2 L573 365.1 L576 365.1 L579 365 L582 365 L585 364.9 L588 364.9 L591 364.9 L594 364.8 L597 364.8 L600 364.7 L603 364.5 L606 364.3 L609 364.2 L612 364.1 L615 364.1 L618 364.1 L621 364.1 L624 364.1 L627 364.1 L630 364.3 L633 364.7 L636 365 L639 365.4 L642 366.1 L645 367 L648 367.9 L651 368.9 L654 369.9 L657 371.1 L660 372.2 L663 373.2 L666 374.2 L669 375.2 L672 376.3 L675 377.3 L678 378.5 L681 379.7 L684 380.9 L687 382.4 L690 383.8 L693 384.9 L696 386.4 L698.9 388.3 L698.9 370.7 L696 369.5 L693 368.5 L690 368 L687 367.2 L684 366.3 L681 365.7 L678 365 L675 364.4 L672 363.8 L669 363.2 L666 362.6 L663 362.1 L660 361.4 L657 360.7 L654 360 L651 359.3 L648 358.7 L645 358.1 L642 357.5 L639 357.1 L636 356.8 L633 356.6 L630 356.3 L627 356.2 L624 356.2 L621 356.2 L618 356.2 L615 356.2 L612 356.2 L609 356.3 L606 356.4 L603 356.6 L600 356.7 L597 356.8 L594 356.9 L591 356.9 L588 356.9 L585 357 L582 357 L579 357 L576 357.1 L573 357.2 L570 357.2 L567 357.3 L564 357.3 L561 357.4 L558 357.4 L555 357.4 L552 357.5 L549 357.5 L546 357.5 L543 357.6 L540 357.6 L537 357.7 L534 357.8 L531 357.9 L528 357.9 L525 358 L522 358.1 L519 358.2 L516 358.2 L513 358.3 L510 358.4 L507 358.5 L504 358.6 L501 358.7 L498 358.8 L495 358.9 L492 359 L489 359.1 L486 359.3 L483 359.4 L480 359.5 L477 359.6 L474 359.8 L471 359.9 L468 360.1 L465 360.2 L462 360.4 L459 360.6 L456 360.7 L453 361 L450 361.2 L447 361.4 L444 361.6 L441 361.9 L438 362.1 L435 362.4 L432 362.6 L429 362.8 L426 363 L423 363.2 L420 363.4 L417 363.7 L414 363.9 L411 364.1 L408 364.3 L405 364.5 L402 364.7 L399 364.9 L396 365.1 L393 365.3 L390 365.6 L387 365.8 L384 366 L381 366.2 L378 366.4 L375 366.6 L372 366.9 L369 367.1 L366 367.3 L363 367.5 L360 367.8 L357 368.1 L354 368.4 L351 368.7 L348 369 L345 369.4 L342 369.8 L339 370.3 L336 370.8 L333 371.3 L330 371.8 L327 372.3 L324 372.9 L321 373.5 L318 374.1 L315 374.7 L312 375.3 L309 375.8 L306 376.2 L303 376.6 L300 376.9 L297 377.3 L294 377.6 L291 378 L288 378.3 L285 378.6 L282 378.9 L279 379.3 L276 379.6 L273 380 L270 380.5 L267 380.9 L264 381.4 L261 381.8 L258 382.3 L255 382.9 L252 383.4 L249 383.9 L246 384.4 L243 385 L240 385.5 L237 385.9 L234 386.4 L231 386.9 L228 387.3 L225 387.8 L222 388.3 L219 388.8 L216 389.4 L213 389.9 L210 390.5Z" fill="#fcd494"/>
<path d="M210 392 L213 392 L216 392 L219 392 L222 392 L225 392 L228 392 L231 392 L234 392 L237 392 L240 392 L243 392 L246 392 L249 392 L252 392 L255 392 L258 392 L261 392 L264 392 L267 392 L270 392 L273 392 L276 392 L279 392 L282 392 L285 392 L288 392 L291 392 L294 392 L297 392 L300 391.8 L303 391.2 L306 390.6 L309 390 L312 389.3 L315 388.5 L318 387.6 L321 386.7 L324 385.9 L327 385.1 L330 384.3 L333 383.6 L336 383 L339 382.3 L342 381.7 L345 381.1 L348 380.5 L351 380 L354 379.5 L357 379.1 L360 378.7 L363 378.3 L366 378 L369 377.6 L372 377.3 L375 376.9 L378 376.6 L381 376.3 L384 376 L387 375.7 L390 375.3 L393 375 L396 374.7 L399 374.4 L402 374.1 L405 373.8 L408 373.5 L411 373.2 L414 373 L417 372.7 L420 372.4 L423 372.1 L426 371.8 L429 371.5 L432 371.2 L435 370.9 L438 370.6 L441 370.3 L444 369.9 L447 369.6 L450 369.3 L453 369 L456 368.7 L459 368.4 L462 368.2 L465 368 L468 367.8 L471 367.6 L474 367.4 L477 367.2 L480 367 L483 366.8 L486 366.7 L489 366.5 L492 366.4 L495 366.2 L498 366.1 L501 366 L504 365.8 L507 365.7 L510 365.6 L513 365.5 L516 365.4 L519 365.3 L522 365.2 L525 365.1 L528 365 L531 364.9 L534 364.8 L537 364.7 L540 364.6 L543 364.5 L546 364.4 L549 364.4 L552 364.4 L555 364.4 L558 364.3 L561 364.3 L564 364.2 L567 364.2 L570 364.1 L573 364 L576 364 L579 363.9 L582 363.9 L585 363.8 L588 363.8 L591 363.8 L594 363.7 L597 363.7 L600 363.6 L603 363.4 L606 363.2 L609 363.1 L612 363 L615 363 L618 363 L621 363 L624 363 L627 363 L630 363.2 L633 363.6 L636 363.9 L639 364.3 L642 365 L645 365.8 L648 366.7 L651 367.6 L654 368.6 L657 369.7 L660 370.7 L663 371.7 L666 372.6 L669 373.6 L672 374.6 L675 375.6 L678 376.7 L681 377.9 L684 379 L687 380.4 L690 381.8 L693 382.8 L696 384.2 L698.9 386 L698.9 370.7 L696 369.5 L693 368.5 L690 368 L687 367.2 L684 366.3 L681 365.7 L678 365 L675 364.4 L672 363.8 L669 363.2 L666 362.6 L663 362.1 L660 361.4 L657 360.7 L654 360 L651 359.3 L648 358.7 L645 358.1 L642 357.5 L639 357.1 L636 356.8 L633 356.6 L630 356.3 L627 356.2 L624 356.2 L621 356.2 L618 356.2 L615 356.2 L612 356.2 L609 356.3 L606 356.4 L603 356.6 L600 356.7 L597 356.8 L594 356.9 L591 356.9 L588 356.9 L585 357 L582 357 L579 357 L576 357.1 L573 357.2 L570 357.2 L567 357.3 L564 357.3 L561 357.4 L558 357.4 L555 357.4 L552 357.5 L549 357.5 L546 357.5 L543 357.6 L540 357.6 L537 357.7 L534 357.8 L531 357.9 L528 357.9 L525 358 L522 358.1 L519 358.2 L516 358.2 L513 358.3 L510 358.4 L507 358.5 L504 358.6 L501 358.7 L498 358.8 L495 358.9 L492 359 L489 359.1 L486 359.3 L483 359.4 L480 359.5 L477 359.6 L474 359.8 L471 359.9 L468 360.1 L465 360.2 L462 360.4 L459 360.6 L456 360.7 L453 361 L450 361.2 L447 361.4 L444 361.6 L441 361.9 L438 362.1 L435 362.4 L432 362.6 L429 362.8 L426 363 L423 363.2 L420 363.4 L417 363.7 L414 363.9 L411 364.1 L408 364.3 L405 364.5 L402 364.7 L399 364.9 L396 365.1 L393 365.3 L390 365.6 L387 365.8 L384 366 L381 366.2 L378 366.4 L375 366.6 L372 366.9 L369 367.1 L366 367.3 L363 367.5 L360 367.8 L357 368.1 L354 368.4 L351 368.7 L348 369 L345 369.4 L342 369.8 L339 370.3 L336 370.8 L333 371.3 L330 371.8 L327 372.3 L324 372.9 L321 373.5 L318 374.1 L315 374.7 L312 375.3 L309 375.8 L306 376.2 L303 376.6 L300 376.9 L297 377.3 L294 377.6 L291 378 L288 378.3 L285 378.6 L282 378.9 L279 379.3 L276 379.6 L273 380 L270 380.5 L267 380.9 L264 381.4 L261 381.8 L258 382.3 L255 382.9 L252 383.4 L249 383.9 L246 384.4 L243 385 L240 385.5 L237 385.9 L234 386.4 L231 386.9 L228 387.3 L225 387.8 L222 388.3 L219 388.8 L216 389.4 L213 389.9 L210 390.5Z" fill="#fcd895"/>
<path d="M210 392 L213 392 L216 392 L219 392 L222 392 L225 392 L228 392 L231 392 L234 392 L237 392 L240 392 L243 392 L246 392 L249 392 L252 392 L255 392 L258 392 L261 392 L264 392 L267 392 L270 392 L273 392 L276 392 L279 392 L282 392 L285 392 L288 391.5 L291 391 L294 390.6 L297 390.1 L300 389.5 L303 389 L306 388.5 L309 387.8 L312 387.2 L315 386.4 L318 385.6 L321 384.7 L324 383.9 L327 383.1 L330 382.4 L333 381.8 L336 381.1 L339 380.5 L342 379.9 L345 379.3 L348 378.8 L351 378.3 L354 377.8 L357 377.4 L360 377 L363 376.7 L366 376.3 L369 376 L372 375.7 L375 375.4 L378 375 L381 374.7 L384 374.4 L387 374.1 L390 373.8 L393 373.5 L396 373.2 L399 372.9 L402 372.6 L405 372.4 L408 372.1 L411 371.8 L414 371.5 L417 371.3 L420 371 L423 370.7 L426 370.5 L429 370.2 L432 369.9 L435 369.6 L438 369.3 L441 369 L444 368.6 L447 368.3 L450 368 L453 367.7 L456 367.4 L459 367.2 L462 367 L465 366.8 L468 366.6 L471 366.4 L474 366.2 L477 366 L480 365.8 L483 365.7 L486 365.5 L489 365.4 L492 365.2 L495 365.1 L498 364.9 L501 364.8 L504 364.7 L507 364.6 L510 364.4 L513 364.3 L516 364.2 L519 364.1 L522 364 L525 363.9 L528 363.8 L531 363.8 L534 363.7 L537 363.6 L540 363.5 L543 363.4 L546 363.3 L549 363.3 L552 363.3 L555 363.3 L558 363.2 L561 363.2 L564 363.1 L567 363.1 L570 363 L573 362.9 L576 362.9 L579 362.8 L582 362.8 L585 362.7 L588 362.7 L591 362.7 L594 362.6 L597 362.6 L600 362.5 L603 362.4 L606 362.1 L609 362 L612 361.9 L615 361.9 L618 361.9 L621 361.9 L624 361.9 L627 361.9 L630 362.1 L633 362.5 L636 362.8 L639 363.1 L642 363.8 L645 364.6 L648 365.4 L651 366.3 L654 367.2 L657 368.3 L660 369.3 L663 370.2 L666 371.1 L669 372 L672 372.9 L675 373.9 L678 374.9 L681 376 L684 377.1 L687 378.4 L690 379.7 L693 380.6 L696 382 L698.9 383.7 L698.9 370.7 L696 369.5 L693 368.5 L690 368 L687 367.2 L684 366.3 L681 365.7 L678 365 L675 364.4 L672 363.8 L669 363.2 L666 362.6 L663 362.1 L660 361.4 L657 360.7 L654 360 L651 359.3 L648 358.7 L645 358.1 L642 357.5 L639 357.1 L636 356.8 L633 356.6 L630 356.3 L627 356.2 L624 356.2 L621 356.2 L618 356.2 L615 356.2 L612 356.2 L609 356.3 L606 356.4 L603 356.6 L600 356.7 L597 356.8 L594 356.9 L591 356.9 L588 356.9 L585 357 L582 357 L579 357 L576 357.1 L573 357.2 L570 357.2 L567 357.3 L564 357.3 L561 357.4 L558 357.4 L555 357.4 L552 357.5 L549 357.5 L546 357.5 L543 357.6 L540 357.6 L537 357.7 L534 357.8 L531 357.9 L528 357.9 L525 358 L522 358.1 L519 358.2 L516 358.2 L513 358.3 L510 358.4 L507 358.5 L504 358.6 L501 358.7 L498 358.8 L495 358.9 L492 359 L489 359.1 L486 359.3 L483 359.4 L480 359.5 L477 359.6 L474 359.8 L471 359.9 L468 360.1 L465 360.2 L462 360.4 L459 360.6 L456 360.7 L453 361 L450 361.2 L447 361.4 L444 361.6 L441 361.9 L438 362.1 L435 362.4 L432 362.6 L429 362.8 L426 363 L423 363.2 L420 363.4 L417 363.7 L414 363.9 L411 364.1 L408 364.3 L405 364.5 L402 364.7 L399 364.9 L396 365.1 L393 365.3 L390 365.6 L387 365.8 L384 366 L381 366.2 L378 366.4 L375 366.6 L372 366.9 L369 367.1 L366 367.3 L363 367.5 L360 367.8 L357 368.1 L354 368.4 L351 368.7 L348 369 L345 369.4 L342 369.8 L339 370.3 L336 370.8 L333 371.3 L330 371.8 L327 372.3 L324 372.9 L321 373.5 L318 374.1 L315 374.7 L312 375.3 L309 375.8 L306 376.2 L303 376.6 L300 376.9 L297 377.3 L294 377.6 L291 378 L288 378.3 L285 378.6 L282 378.9 L279 379.3 L276 379.6 L273 380 L270 380.5 L267 380.9 L264 381.4 L261 381.8 L258 382.3 L255 382.9 L252 383.4 L249 383.9 L246 384.4 L243 385 L240 385.5 L237 385.9 L234 386.4 L231 386.9 L228 387.3 L225 387.8 L222 388.3 L219 388.8 L216 389.4 L213 389.9 L210 390.5Z" fill="#fddc95"/>
<path d="M210 392 L213 392 L216 392 L219 392 L222 392 L225 392 L228 392 L231 392 L234 392 L237 392 L240 392 L243 392 L246 392 L249 392 L252 392 L255 392 L258 392 L261 392 L264 392 L267 392 L270 392 L273 391.7 L276 391.1 L279 390.6 L282 390.1 L285 389.6 L288 389.2 L291 388.7 L294 388.3 L297 387.8 L300 387.3 L303 386.8 L306 386.3 L309 385.7 L312 385 L315 384.3 L318 383.5 L321 382.7 L324 381.9 L327 381.2 L330 380.5 L333 379.9 L336 379.2 L339 378.6 L342 378.1 L345 377.5 L348 377 L351 376.6 L354 376.1 L357 375.7 L360 375.4 L363 375 L366 374.7 L369 374.4 L372 374.1 L375 373.8 L378 373.5 L381 373.2 L384 372.9 L387 372.6 L390 372.3 L393 372 L396 371.7 L399 371.5 L402 371.2 L405 370.9 L408 370.6 L411 370.4 L414 370.1 L417 369.9 L420 369.6 L423 369.4 L426 369.1 L429 368.8 L432 368.5 L435 368.3 L438 368 L441 367.6 L444 367.3 L447 367 L450 366.7 L453 366.5 L456 366.2 L459 366 L462 365.7 L465 365.5 L468 365.3 L471 365.2 L474 365 L477 364.8 L480 364.6 L483 364.5 L486 364.3 L489 364.2 L492 364 L495 363.9 L498 363.8 L501 363.7 L504 363.5 L507 363.4 L510 363.3 L513 363.2 L516 363.1 L519 363 L522 362.9 L525 362.8 L528 362.7 L531 362.6 L534 362.5 L537 362.5 L540 362.4 L543 362.3 L546 362.2 L549 362.2 L552 362.2 L555 362.1 L558 362.1 L561 362.1 L564 362 L567 362 L570 361.9 L573 361.8 L576 361.8 L579 361.7 L582 361.7 L585 361.7 L588 361.6 L591 361.6 L594 361.5 L597 361.5 L600 361.4 L603 361.3 L606 361.1 L609 360.9 L612 360.8 L615 360.8 L618 360.8 L621 360.8 L624 360.8 L627 360.8 L630 361 L633 361.3 L636 361.7 L639 362 L642 362.6 L645 363.4 L648 364.2 L651 365 L654 365.9 L657 366.9 L660 367.8 L663 368.7 L666 369.6 L669 370.4 L672 371.3 L675 372.2 L678 373.1 L681 374.2 L684 375.2 L687 376.4 L690 377.6 L693 378.5 L696 379.8 L698.9 381.4 L698.9 370.7 L696 369.5 L693 368.5 L690 368 L687 367.2 L684 366.3 L681 365.7 L678 365 L675 364.4 L672 363.8 L669 363.2 L666 362.6 L663 362.1 L660 361.4 L657 360.7 L654 360 L651 359.3 L648 358.7 L645 358.1 L642 357.5 L639 357.1 L636 356.8 L633 356.6 L630 356.3 L627 356.2 L624 356.2 L621 356.2 L618 356.2 L615 356.2 L612 356.2 L609 356.3 L606 356.4 L603 356.6 L600 356.7 L597 356.8 L594 356.9 L591 356.9 L588 356.9 L585 357 L582 357 L579 357 L576 357.1 L573 357.2 L570 357.2 L567 357.3 L564 357.3 L561 357.4 L558 357.4 L555 357.4 L552 357.5 L549 357.5 L546 357.5 L543 357.6 L540 357.6 L537 357.7 L534 357.8 L531 357.9 L528 357.9 L525 358 L522 358.1 L519 358.2 L516 358.2 L513 358.3 L510 358.4 L507 358.5 L504 358.6 L501 358.7 L498 358.8 L495 358.9 L492 359 L489 359.1 L486 359.3 L483 359.4 L480 359.5 L477 359.6 L474 359.8 L471 359.9 L468 360.1 L465 360.2 L462 360.4 L459 360.6 L456 360.7 L453 361 L450 361.2 L447 361.4 L444 361.6 L441 361.9 L438 362.1 L435 362.4 L432 362.6 L429 362.8 L426 363 L423 363.2 L420 363.4 L417 363.7 L414 363.9 L411 364.1 L408 364.3 L405 364.5 L402 364.7 L399 364.9 L396 365.1 L393 365.3 L390 365.6 L387 365.8 L384 366 L381 366.2 L378 366.4 L375 366.6 L372 366.9 L369 367.1 L366 367.3 L363 367.5 L360 367.8 L357 368.1 L354 368.4 L351 368.7 L348 369 L345 369.4 L342 369.8 L339 370.3 L336 370.8 L333 371.3 L330 371.8 L327 372.3 L324 372.9 L321 373.5 L318 374.1 L315 374.7 L312 375.3 L309 375.8 L306 376.2 L303 376.6 L300 376.9 L297 377.3 L294 377.6 L291 378 L288 378.3 L285 378.6 L282 378.9 L279 379.3 L276 379.6 L273 380 L270 380.5 L267 380.9 L264 381.4 L261 381.8 L258 382.3 L255 382.9 L252 383.4 L249 383.9 L246 384.4 L243 385 L240 385.5 L237 385.9 L234 386.4 L231 386.9 L228 387.3 L225 387.8 L222 388.3 L219 388.8 L216 389.4 L213 389.9 L210 390.5Z" fill="#fde096"/>
<path d="M210 392 L213 392 L216 392 L219 392 L222 392 L225 392 L228 392 L231 392 L234 392 L237 392 L240 392 L243 392 L246 392 L249 392 L252 392 L255 392 L258 392 L261 391.5 L264 390.9 L267 390.3 L270 389.7 L273 389.2 L276 388.7 L279 388.2 L282 387.7 L285 387.3 L288 386.8 L291 386.4 L294 386 L297 385.5 L300 385.1 L303 384.6 L306 384.1 L309 383.6 L312 382.9 L315 382.2 L318 381.5 L321 380.7 L324 380 L327 379.3 L330 378.6 L333 378 L336 377.4 L339 376.8 L342 376.3 L345 375.7 L348 375.3 L351 374.8 L354 374.4 L357 374 L360 373.7 L363 373.4 L366 373 L369 372.7 L372 372.5 L375 372.2 L378 371.9 L381 371.6 L384 371.4 L387 371.1 L390 370.8 L393 370.5 L396 370.3 L399 370 L402 369.7 L405 369.5 L408 369.2 L411 369 L414 368.7 L417 368.5 L420 368.2 L423 368 L426 367.7 L429 367.5 L432 367.2 L435 366.9 L438 366.6 L441 366.3 L444 366 L447 365.7 L450 365.5 L453 365.2 L456 364.9 L459 364.7 L462 364.5 L465 364.3 L468 364.1 L471 364 L474 363.8 L477 363.6 L480 363.5 L483 363.3 L486 363.2 L489 363 L492 362.9 L495 362.8 L498 362.6 L501 362.5 L504 362.4 L507 362.3 L510 362.2 L513 362.1 L516 362 L519 361.9 L522 361.8 L525 361.7 L528 361.6 L531 361.5 L534 361.4 L537 361.3 L540 361.3 L543 361.2 L546 361.1 L549 361.1 L552 361.1 L555 361 L558 361 L561 361 L564 360.9 L567 360.9 L570 360.8 L573 360.8 L576 360.7 L579 360.6 L582 360.6 L585 360.6 L588 360.5 L591 360.5 L594 360.4 L597 360.4 L600 360.3 L603 360.2 L606 360 L609 359.8 L612 359.8 L615 359.7 L618 359.7 L621 359.7 L624 359.7 L627 359.7 L630 359.9 L633 360.2 L636 360.5 L639 360.9 L642 361.4 L645 362.1 L648 362.9 L651 363.7 L654 364.6 L657 365.5 L660 366.4 L663 367.2 L666 368 L669 368.8 L672 369.6 L675 370.4 L678 371.3 L681 372.3 L684 373.2 L687 374.4 L690 375.5 L693 376.3 L696 377.5 L698.9 379.1 L698.9 370.7 L696 369.5 L693 368.5 L690 368 L687 367.2 L684 366.3 L681 365.7 L678 365 L675 364.4 L672 363.8 L669 363.2 L666 362.6 L663 362.1 L660 361.4 L657 360.7 L654 360 L651 359.3 L648 358.7 L645 358.1 L642 357.5 L639 357.1 L636 356.8 L633 356.6 L630 356.3 L627 356.2 L624 356.2 L621 356.2 L618 356.2 L615 356.2 L612 356.2 L609 356.3 L606 356.4 L603 356.6 L600 356.7 L597 356.8 L594 356.9 L591 356.9 L588 356.9 L585 357 L582 357 L579 357 L576 357.1 L573 357.2 L570 357.2 L567 357.3 L564 357.3 L561 357.4 L558 357.4 L555 357.4 L552 357.5 L549 357.5 L546 357.5 L543 357.6 L540 357.6 L537 357.7 L534 357.8 L531 357.9 L528 357.9 L525 358 L522 358.1 L519 358.2 L516 358.2 L513 358.3 L510 358.4 L507 358.5 L504 358.6 L501 358.7 L498 358.8 L495 358.9 L492 359 L489 359.1 L486 359.3 L483 359.4 L480 359.5 L477 359.6 L474 359.8 L471 359.9 L468 360.1 L465 360.2 L462 360.4 L459 360.6 L456 360.7 L453 361 L450 361.2 L447 361.4 L444 361.6 L441 361.9 L438 362.1 L435 362.4 L432 362.6 L429 362.8 L426 363 L423 363.2 L420 363.4 L417 363.7 L414 363.9 L411 364.1 L408 364.3 L405 364.5 L402 364.7 L399 364.9 L396 365.1 L393 365.3 L390 365.6 L387 365.8 L384 366 L381 366.2 L378 366.4 L375 366.6 L372 366.9 L369 367.1 L366 367.3 L363 367.5 L360 367.8 L357 368.1 L354 368.4 L351 368.7 L348 369 L345 369.4 L342 369.8 L339 370.3 L336 370.8 L333 371.3 L330 371.8 L327 372.3 L324 372.9 L321 373.5 L318 374.1 L315 374.7 L312 375.3 L309 375.8 L306 376.2 L303 376.6 L300 376.9 L297 377.3 L294 377.6 L291 378 L288 378.3 L285 378.6 L282 378.9 L279 379.3 L276 379.6 L273 380 L270 380.5 L267 380.9 L264 381.4 L261 381.8 L258 382.3 L255 382.9 L252 383.4 L249 383.9 L246 384.4 L243 385 L240 385.5 L237 385.9 L234 386.4 L231 386.9 L228 387.3 L225 387.8 L222 388.3 L219 388.8 L216 389.4 L213 389.9 L210 390.5Z" fill="#fde397"/>
<path d="M210 392 L213 392 L216 392 L219 392 L222 392 L225 392 L228 392 L231 392 L234 392 L237 392 L240 392 L243 392 L246 392 L249 391.4 L252 390.7 L255 390.1 L258 389.5 L261 388.9 L264 388.3 L267 387.7 L270 387.2 L273 386.7 L276 386.2 L279 385.8 L282 385.3 L285 384.9 L288 384.5 L291 384.1 L294 383.7 L297 383.3 L300 382.8 L303 382.4 L306 381.9 L309 381.4 L312 380.8 L315 380.1 L318 379.4 L321 378.7 L324 378 L327 377.3 L330 376.7 L333 376.1 L336 375.5 L339 375 L342 374.5 L345 374 L348 373.5 L351 373.1 L354 372.7 L357 372.4 L360 372 L363 371.7 L366 371.4 L369 371.1 L372 370.9 L375 370.6 L378 370.3 L381 370.1 L384 369.8 L387 369.6 L390 369.3 L393 369 L396 368.8 L399 368.5 L402 368.3 L405 368 L408 367.8 L411 367.5 L414 367.3 L417 367.1 L420 366.8 L423 366.6 L426 366.3 L429 366.1 L432 365.8 L435 365.6 L438 365.3 L441 365 L444 364.7 L447 364.5 L450 364.2 L453 363.9 L456 363.7 L459 363.5 L462 363.3 L465 363.1 L468 362.9 L471 362.7 L474 362.6 L477 362.4 L480 362.3 L483 362.1 L486 362 L489 361.8 L492 361.7 L495 361.6 L498 361.5 L501 361.4 L504 361.2 L507 361.1 L510 361 L513 360.9 L516 360.8 L519 360.7 L522 360.7 L525 360.6 L528 360.5 L531 360.4 L534 360.3 L537 360.2 L540 360.1 L543 360.1 L546 360 L549 360 L552 360 L555 359.9 L558 359.9 L561 359.9 L564 359.8 L567 359.8 L570 359.7 L573 359.7 L576 359.6 L579 359.5 L582 359.5 L585 359.5 L588 359.4 L591 359.4 L594 359.4 L597 359.3 L600 359.2 L603 359.1 L606 358.9 L609 358.7 L612 358.7 L615 358.6 L618 358.6 L621 358.6 L624 358.6 L627 358.6 L630 358.8 L633 359.1 L636 359.4 L639 359.7 L642 360.3 L645 360.9 L648 361.6 L651 362.4 L654 363.2 L657 364.1 L660 365 L663 365.7 L666 366.5 L669 367.2 L672 368 L675 368.7 L678 369.6 L681 370.4 L684 371.3 L687 372.4 L690 373.4 L693 374.2 L696 375.3 L698.9 376.8 L698.9 370.7 L696 369.5 L693 368.5 L690 368 L687 367.2 L684 366.3 L681 365.7 L678 365 L675 364.4 L672 363.8 L669 363.2 L666 362.6 L663 362.1 L660 361.4 L657 360.7 L654 360 L651 359.3 L648 358.7 L645 358.1 L642 357.5 L639 357.1 L636 356.8 L633 356.6 L630 356.3 L627 356.2 L624 356.2 L621 356.2 L618 356.2 L615 356.2 L612 356.2 L609 356.3 L606 356.4 L603 356.6 L600 356.7 L597 356.8 L594 356.9 L591 356.9 L588 356.9 L585 357 L582 357 L579 357 L576 357.1 L573 357.2 L570 357.2 L567 357.3 L564 357.3 L561 357.4 L558 357.4 L555 357.4 L552 357.5 L549 357.5 L546 357.5 L543 357.6 L540 357.6 L537 357.7 L534 357.8 L531 357.9 L528 357.9 L525 358 L522 358.1 L519 358.2 L516 358.2 L513 358.3 L510 358.4 L507 358.5 L504 358.6 L501 358.7 L498 358.8 L495 358.9 L492 359 L489 359.1 L486 359.3 L483 359.4 L480 359.5 L477 359.6 L474 359.8 L471 359.9 L468 360.1 L465 360.2 L462 360.4 L459 360.6 L456 360.7 L453 361 L450 361.2 L447 361.4 L444 361.6 L441 361.9 L438 362.1 L435 362.4 L432 362.6 L429 362.8 L426 363 L423 363.2 L420 363.4 L417 363.7 L414 363.9 L411 364.1 L408 364.3 L405 364.5 L402 364.7 L399 364.9 L396 365.1 L393 365.3 L390 365.6 L387 365.8 L384 366 L381 366.2 L378 366.4 L375 366.6 L372 366.9 L369 367.1 L366 367.3 L363 367.5 L360 367.8 L357 368.1 L354 368.4 L351 368.7 L348 369 L345 369.4 L342 369.8 L339 370.3 L336 370.8 L333 371.3 L330 371.8 L327 372.3 L324 372.9 L321 373.5 L318 374.1 L315 374.7 L312 375.3 L309 375.8 L306 376.2 L303 376.6 L300 376.9 L297 377.3 L294 377.6 L291 378 L288 378.3 L285 378.6 L282 378.9 L279 379.3 L276 379.6 L273 380 L270 380.5 L267 380.9 L264 381.4 L261 381.8 L258 382.3 L255 382.9 L252 383.4 L249 383.9 L246 384.4 L243 385 L240 385.5 L237 385.9 L234 386.4 L231 386.9 L228 387.3 L225 387.8 L222 388.3 L219 388.8 L216 389.4 L213 389.9 L210 390.5Z" fill="#fde69a"/>
<path d="M210 392 L213 392 L216 392 L219 392 L222 392 L225 392 L228 392 L231 392 L234 391.4 L237 390.9 L240 390.4 L243 389.8 L246 389.2 L249 388.6 L252 388 L255 387.4 L258 386.8 L261 386.3 L264 385.7 L267 385.2 L270 384.7 L273 384.2 L276 383.8 L279 383.3 L282 382.9 L285 382.5 L288 382.2 L291 381.8 L294 381.4 L297 381 L300 380.6 L303 380.2 L306 379.8 L309 379.3 L312 378.7 L315 378.1 L318 377.4 L321 376.7 L324 376 L327 375.4 L330 374.8 L333 374.2 L336 373.7 L339 373.1 L342 372.7 L345 372.2 L348 371.8 L351 371.4 L354 371 L357 370.7 L360 370.3 L363 370.1 L366 369.8 L369 369.5 L372 369.3 L375 369 L378 368.8 L381 368.5 L384 368.3 L387 368 L390 367.8 L393 367.5 L396 367.3 L399 367 L402 366.8 L405 366.6 L408 366.3 L411 366.1 L414 365.9 L417 365.7 L420 365.4 L423 365.2 L426 365 L429 364.7 L432 364.5 L435 364.2 L438 364 L441 363.7 L444 363.4 L447 363.2 L450 362.9 L453 362.7 L456 362.4 L459 362.2 L462 362.1 L465 361.9 L468 361.7 L471 361.5 L474 361.4 L477 361.2 L480 361.1 L483 360.9 L486 360.8 L489 360.7 L492 360.6 L495 360.4 L498 360.3 L501 360.2 L504 360.1 L507 360 L510 359.9 L513 359.8 L516 359.7 L519 359.6 L522 359.5 L525 359.4 L528 359.4 L531 359.3 L534 359.2 L537 359.1 L540 359 L543 359 L546 358.9 L549 358.9 L552 358.9 L555 358.8 L558 358.8 L561 358.8 L564 358.7 L567 358.7 L570 358.6 L573 358.6 L576 358.5 L579 358.4 L582 358.4 L585 358.4 L588 358.3 L591 358.3 L594 358.3 L597 358.2 L600 358.1 L603 358 L606 357.8 L609 357.6 L612 357.6 L615 357.6 L618 357.5 L621 357.5 L624 357.5 L627 357.5 L630 357.7 L633 358 L636 358.3 L639 358.6 L642 359.1 L645 359.7 L648 360.4 L651 361.1 L654 361.9 L657 362.7 L660 363.5 L663 364.2 L666 364.9 L669 365.6 L672 366.3 L675 367 L678 367.8 L681 368.6 L684 369.4 L687 370.4 L690 371.3 L693 372 L696 373.1 L698.9 374.5 L698.9 370.7 L696 369.5 L693 368.5 L690 368 L687 367.2 L684 366.3 L681 365.7 L678 365 L675 364.4 L672 363.8 L669 363.2 L666 362.6 L663 362.1 L660 361.4 L657 360.7 L654 360 L651 359.3 L648 358.7 L645 358.1 L642 357.5 L639 357.1 L636 356.8 L633 356.6 L630 356.3 L627 356.2 L624 356.2 L621 356.2 L618 356.2 L615 356.2 L612 356.2 L609 356.3 L606 356.4 L603 356.6 L600 356.7 L597 356.8 L594 356.9 L591 356.9 L588 356.9 L585 357 L582 357 L579 357 L576 357.1 L573 357.2 L570 357.2 L567 357.3 L564 357.3 L561 357.4 L558 357.4 L555 357.4 L552 357.5 L549 357.5 L546 357.5 L543 357.6 L540 357.6 L537 357.7 L534 357.8 L531 357.9 L528 357.9 L525 358 L522 358.1 L519 358.2 L516 358.2 L513 358.3 L510 358.4 L507 358.5 L504 358.6 L501 358.7 L498 358.8 L495 358.9 L492 359 L489 359.1 L486 359.3 L483 359.4 L480 359.5 L477 359.6 L474 359.8 L471 359.9 L468 360.1 L465 360.2 L462 360.4 L459 360.6 L456 360.7 L453 361 L450 361.2 L447 361.4 L444 361.6 L441 361.9 L438 362.1 L435 362.4 L432 362.6 L429 362.8 L426 363 L423 363.2 L420 363.4 L417 363.7 L414 363.9 L411 364.1 L408 364.3 L405 364.5 L402 364.7 L399 364.9 L396 365.1 L393 365.3 L390 365.6 L387 365.8 L384 366 L381 366.2 L378 366.4 L375 366.6 L372 366.9 L369 367.1 L366 367.3 L363 367.5 L360 367.8 L357 368.1 L354 368.4 L351 368.7 L348 369 L345 369.4 L342 369.8 L339 370.3 L336 370.8 L333 371.3 L330 371.8 L327 372.3 L324 372.9 L321 373.5 L318 374.1 L315 374.7 L312 375.3 L309 375.8 L306 376.2 L303 376.6 L300 376.9 L297 377.3 L294 377.6 L291 378 L288 378.3 L285 378.6 L282 378.9 L279 379.3 L276 379.6 L273 380 L270 380.5 L267 380.9 L264 381.4 L261 381.8 L258 382.3 L255 382.9 L252 383.4 L249 383.9 L246 384.4 L243 385 L240 385.5 L237 385.9 L234 386.4 L231 386.9 L228 387.3 L225 387.8 L222 388.3 L219 388.8 L216 389.4 L213 389.9 L210 390.5Z" fill="#fee99c"/>
<path d="M207 392 L210 392 L213 392 L216 391.7 L219 391.1 L222 390.6 L225 390 L228 389.5 L231 389 L234 388.5 L237 388 L240 387.5 L243 387 L246 386.4 L249 385.9 L252 385.3 L255 384.7 L258 384.2 L261 383.7 L264 383.1 L267 382.6 L270 382.2 L273 381.7 L276 381.3 L279 380.9 L282 380.5 L285 380.2 L288 379.8 L291 379.5 L294 379.1 L297 378.7 L300 378.4 L303 378 L306 377.6 L309 377.1 L312 376.6 L315 376 L318 375.3 L321 374.7 L324 374 L327 373.4 L330 372.9 L333 372.3 L336 371.8 L339 371.3 L342 370.8 L345 370.4 L348 370 L351 369.6 L354 369.3 L357 369 L360 368.7 L363 368.4 L366 368.1 L369 367.9 L372 367.7 L375 367.4 L378 367.2 L381 367 L384 366.7 L387 366.5 L390 366.3 L393 366 L396 365.8 L399 365.6 L402 365.3 L405 365.1 L408 364.9 L411 364.7 L414 364.5 L417 364.3 L420 364 L423 363.8 L426 363.6 L429 363.4 L432 363.2 L435 362.9 L438 362.7 L441 362.4 L444 362.1 L447 361.9 L450 361.6 L453 361.4 L456 361.2 L459 361 L462 360.8 L465 360.6 L468 360.5 L471 360.3 L474 360.2 L477 360 L480 359.9 L483 359.8 L486 359.6 L489 359.5 L492 359.4 L495 359.3 L498 359.2 L501 359.1 L504 358.9 L507 358.8 L510 358.8 L513 358.7 L516 358.6 L519 358.5 L522 358.4 L525 358.3 L528 358.2 L531 358.2 L534 358.1 L537 358 L540 357.9 L543 357.9 L546 357.8 L549 357.8 L552 357.8 L555 357.7 L558 357.7 L561 357.7 L564 357.6 L567 357.6 L570 357.5 L573 357.5 L576 357.4 L579 357.3 L582 357.3 L585 357.3 L588 357.2 L591 357.2 L594 357.2 L597 357.1 L600 357 L603 356.9 L606 356.7 L609 356.5 L612 356.5 L615 356.5 L618 356.5 L621 356.4 L624 356.4 L627 356.4 L630 356.6 L633 356.9 L636 357.1 L639 357.4 L642 357.9 L645 358.5 L648 359.1 L651 359.8 L654 360.5 L657 361.3 L660 362.1 L663 362.7 L666 363.4 L669 364 L672 364.7 L675 365.3 L678 366 L681 366.7 L684 367.5 L687 368.4 L690 369.3 L693 369.9 L696 370.9 L698.9 372.2 L698.9 369.9 L696 368.7 L693 367.7 L690 367.2 L687 366.4 L684 365.5 L681 364.9 L678 364.2 L675 363.6 L672 363 L669 362.4 L666 361.8 L663 361.3 L660 360.6 L657 359.9 L654 359.2 L651 358.5 L648 357.9 L645 357.3 L642 356.7 L639 356.3 L636 356 L633 355.8 L630 355.5 L627 355.4 L624 355.4 L621 355.4 L618 355.4 L615 355.4 L612 355.4 L609 355.5 L606 355.6 L603 355.8 L600 355.9 L597 356 L594 356.1 L591 356.1 L588 356.1 L585 356.2 L582 356.2 L579 356.2 L576 356.3 L573 356.4 L570 356.4 L567 356.5 L564 356.5 L561 356.6 L558 356.6 L555 356.6 L552 356.7 L549 356.7 L546 356.7 L543 356.8 L540 356.8 L537 356.9 L534 357 L531 357.1 L528 357.1 L525 357.2 L522 357.3 L519 357.4 L516 357.4 L513 357.5 L510 357.6 L507 357.7 L504 357.8 L501 357.9 L498 358 L495 358.1 L492 358.2 L489 358.3 L486 358.5 L483 358.6 L480 358.7 L477 358.8 L474 359 L471 359.1 L468 359.3 L465 359.4 L462 359.6 L459 359.8 L456 359.9 L453 360.2 L450 360.4 L447 360.6 L444 360.8 L441 361.1 L438 361.3 L435 361.6 L432 361.8 L429 362 L426 362.2 L423 362.4 L420 362.6 L417 362.9 L414 363.1 L411 363.3 L408 363.5 L405 363.7 L402 363.9 L399 364.1 L396 364.3 L393 364.5 L390 364.8 L387 365 L384 365.2 L381 365.4 L378 365.6 L375 365.8 L372 366.1 L369 366.3 L366 366.5 L363 366.7 L360 367 L357 367.3 L354 367.6 L351 367.9 L348 368.2 L345 368.6 L342 369 L339 369.5 L336 370 L333 370.5 L330 371 L327 371.5 L324 372.1 L321 372.7 L318 373.3 L315 373.9 L312 374.5 L309 375 L306 375.4 L303 375.8 L300 376.1 L297 376.5 L294 376.8 L291 377.2 L288 377.5 L285 377.8 L282 378.1 L279 378.5 L276 378.8 L273 379.2 L270 379.7 L267 380.1 L264 380.6 L261 381 L258 381.5 L255 382.1 L252 382.6 L249 383.1 L246 383.6 L243 384.2 L240 384.7 L237 385.1 L234 385.6 L231 386.1 L228 386.5 L225 387 L222 387.5 L219 388 L216 388.6 L213 389.1 L210 389.7 L207 390.3Z" fill="#feec9f"/>
<path d="M78 447.4 L81 446.9 L84 446.3 L87 445.8 L90 445.3 L93 444.9 L96 444.4 L99 444 L102 443.6 L105 443.2 L108 442.7 L111 442.3 L114 441.9 L117 441.5 L120 441 L123 440.5 L126 440 L129 439.4 L132 438.7 L135 437.9 L138 437.1 L141 436.3 L144 435.5 L147 434.5 L150 433.5 L153 432.5 L156 431.5 L159 430.5 L162 429.5 L165 428.5 L168 427.6 L171 426.6 L174 425.7 L177 424.8 L180 423.9 L183 423 L186 422.2 L189 421.3 L192 420.5 L195 419.7 L198 418.9 L201 418.1 L204 417.1 L207 416.2 L210 415.3 L213 414.4 L216 413.5 L219 412.7 L222 411.9 L225 411.1 L228 410.4 L231 409.7 L234 408.9 L237 408.2 L240 407.5 L243 406.7 L246 406 L249 405.2 L252 404.3 L255 403.5 L258 402.7 L261 402 L264 401.2 L267 400.5 L270 399.8 L273 399.1 L276 398.5 L279 397.9 L282 397.3 L285 396.8 L288 396.2 L291 395.7 L294 395.1 L297 394.6 L300 394 L303 393.4 L306 392.8 L309 392.1 L312 391.4 L315 390.5 L318 389.7 L321 388.8 L324 387.9 L327 387 L330 386.3 L333 385.5 L336 384.8 L339 384.1 L342 383.5 L345 382.8 L348 382.3 L351 381.7 L354 381.3 L357 380.8 L360 380.4 L363 380 L366 379.6 L369 379.2 L372 378.9 L375 378.5 L378 378.2 L381 377.8 L384 377.5 L387 377.2 L390 376.9 L393 376.5 L396 376.2 L399 375.9 L402 375.6 L405 375.3 L408 375 L411 374.7 L414 374.4 L417 374.1 L420 373.8 L423 373.5 L426 373.2 L429 372.9 L432 372.6 L435 372.3 L438 371.9 L441 371.6 L444 371.2 L447 370.9 L450 370.6 L453 370.2 L456 369.9 L459 369.7 L462 369.4 L465 369.2 L468 369 L471 368.8 L474 368.6 L477 368.4 L480 368.2 L483 368 L486 367.9 L489 367.7 L492 367.5 L495 367.4 L498 367.2 L501 367.1 L504 367 L507 366.8 L510 366.7 L513 366.6 L516 366.5 L519 366.4 L522 366.3 L525 366.2 L528 366.1 L531 366 L534 365.9 L537 365.8 L540 365.7 L543 365.6 L546 365.5 L549 365.5 L552 365.5 L555 365.5 L558 365.4 L561 365.4 L564 365.3 L567 365.3 L570 365.2 L573 365.1 L576 365.1 L579 365 L582 365 L585 364.9 L588 364.9 L591 364.9 L594 364.8 L597 364.8 L600 364.7 L603 364.5 L606 364.3 L609 364.2 L612 364.1 L615 364.1 L618 364.1 L621 364.1 L624 364.1 L627 364.1 L630 364.3 L633 364.7 L636 365 L639 365.4 L642 366.1 L645 367 L648 367.9 L651 368.9 L654 369.9 L657 371.1 L660 372.2 L663 373.2 L666 374.2 L669 375.2 L672 376.3 L675 377.3 L678 378.5 L681 379.7 L684 380.9 L687 382.4 L690 383.8 L693 384.9 L696 386.4 L698.9 388.3" fill="none" stroke="#e6a273" stroke-width="0.9"/>
</g>
<path d="M695 241.4 H945" stroke="#e57373" stroke-width="1.2"/>
<path d="M696 284.4 H945 M696 345.3 H945" stroke="#66a86a" stroke-width="1.2"/>
<path d="M695.5 241.4 l3.6 -1.6 v3.2z" fill="#e57373"/>
<path d="M695.5 284.4 l3.6 -1.6 v3.2z" fill="#66a86a"/>
<path d="M695.5 345.3 l3.6 -1.6 v3.2z" fill="#66a86a"/>
<g fill="#a3c6a9"><circle cx="78.1" cy="253.5" r="1.55"/><circle cx="82.1" cy="253.4" r="1.55"/><circle cx="86.1" cy="253.3" r="1.55"/><circle cx="90" cy="253.3" r="1.55"/><circle cx="94" cy="253.3" r="1.55"/><circle cx="98" cy="253.3" r="1.55"/><circle cx="102" cy="253.4" r="1.55"/><circle cx="105.9" cy="253.5" r="1.55"/><circle cx="109.9" cy="253.6" r="1.55"/><circle cx="113.9" cy="253.7" r="1.55"/><circle cx="117.9" cy="253.8" r="1.55"/><circle cx="121.8" cy="254" r="1.55"/><circle cx="125.8" cy="254.3" r="1.55"/><circle cx="129.8" cy="254.6" r="1.55"/><circle cx="133.8" cy="254.9" r="1.55"/><circle cx="137.8" cy="255.4" r="1.55"/><circle cx="141.7" cy="255.9" r="1.55"/><circle cx="145.7" cy="256.5" r="1.55"/><circle cx="149.7" cy="257.1" r="1.55"/><circle cx="153.7" cy="257.8" r="1.55"/><circle cx="157.6" cy="258.5" r="1.55"/><circle cx="161.6" cy="259.3" r="1.55"/><circle cx="165.6" cy="260.1" r="1.55"/><circle cx="169.6" cy="261" r="1.55"/><circle cx="173.5" cy="261.9" r="1.55"/><circle cx="177.5" cy="262.8" r="1.55"/><circle cx="181.5" cy="263.7" r="1.55"/><circle cx="185.5" cy="264.6" r="1.55"/><circle cx="189.5" cy="265.6" r="1.55"/><circle cx="193.4" cy="266.5" r="1.55"/><circle cx="197.4" cy="267.5" r="1.55"/><circle cx="201.4" cy="268.5" r="1.55"/><circle cx="205.4" cy="269.6" r="1.55"/><circle cx="209.3" cy="270.7" r="1.55"/><circle cx="213.3" cy="271.7" r="1.55"/><circle cx="217.3" cy="272.7" r="1.55"/><circle cx="221.3" cy="273.8" r="1.55"/><circle cx="225.2" cy="274.8" r="1.55"/><circle cx="229.2" cy="275.8" r="1.55"/><circle cx="233.2" cy="276.7" r="1.55"/><circle cx="237.2" cy="277.7" r="1.55"/><circle cx="241.2" cy="278.6" r="1.55"/><circle cx="245.1" cy="279.6" r="1.55"/><circle cx="249.1" cy="280.6" r="1.55"/><circle cx="253.1" cy="281.6" r="1.55"/><circle cx="257.1" cy="282.6" r="1.55"/><circle cx="261" cy="283.6" r="1.55"/><circle cx="265" cy="284.6" r="1.55"/><circle cx="269" cy="285.7" r="1.55"/><circle cx="273" cy="286.6" r="1.55"/><circle cx="276.9" cy="287.6" r="1.55"/><circle cx="280.9" cy="288.5" r="1.55"/><circle cx="284.9" cy="289.5" r="1.55"/><circle cx="288.9" cy="290.4" r="1.55"/><circle cx="292.9" cy="291.3" r="1.55"/><circle cx="296.8" cy="292.2" r="1.55"/><circle cx="300.8" cy="293.1" r="1.55"/><circle cx="304.8" cy="294" r="1.55"/><circle cx="308.8" cy="294.9" r="1.55"/><circle cx="312.7" cy="295.8" r="1.55"/><circle cx="316.7" cy="296.7" r="1.55"/><circle cx="320.7" cy="297.6" r="1.55"/><circle cx="324.7" cy="298.5" r="1.55"/><circle cx="328.7" cy="299.4" r="1.55"/><circle cx="332.6" cy="300.2" r="1.55"/><circle cx="336.6" cy="301" r="1.55"/><circle cx="340.6" cy="301.7" r="1.55"/><circle cx="344.6" cy="302.4" r="1.55"/><circle cx="348.5" cy="303" r="1.55"/><circle cx="352.5" cy="303.7" r="1.55"/><circle cx="356.5" cy="304.2" r="1.55"/><circle cx="360.5" cy="304.8" r="1.55"/><circle cx="364.4" cy="305.4" r="1.55"/><circle cx="368.4" cy="305.9" r="1.55"/><circle cx="372.4" cy="306.4" r="1.55"/><circle cx="376.4" cy="306.9" r="1.55"/><circle cx="380.4" cy="307.4" r="1.55"/><circle cx="384.3" cy="307.8" r="1.55"/><circle cx="388.3" cy="308.3" r="1.55"/><circle cx="392.3" cy="308.7" r="1.55"/><circle cx="396.3" cy="309" r="1.55"/><circle cx="400.2" cy="309.3" r="1.55"/><circle cx="404.2" cy="309.7" r="1.55"/><circle cx="408.2" cy="309.9" r="1.55"/><circle cx="412.2" cy="310.2" r="1.55"/><circle cx="416.1" cy="310.5" r="1.55"/><circle cx="420.1" cy="310.8" r="1.55"/><circle cx="424.1" cy="311" r="1.55"/><circle cx="428.1" cy="311.3" r="1.55"/><circle cx="432.1" cy="311.6" r="1.55"/><circle cx="436" cy="311.9" r="1.55"/><circle cx="440" cy="312.2" r="1.55"/><circle cx="444" cy="312.5" r="1.55"/><circle cx="448" cy="312.8" r="1.55"/><circle cx="451.9" cy="313.1" r="1.55"/><circle cx="455.9" cy="313.4" r="1.55"/><circle cx="459.9" cy="313.6" r="1.55"/><circle cx="463.9" cy="313.8" r="1.55"/><circle cx="467.8" cy="314" r="1.55"/><circle cx="471.8" cy="314.1" r="1.55"/><circle cx="475.8" cy="314.3" r="1.55"/><circle cx="479.8" cy="314.5" r="1.55"/><circle cx="483.8" cy="314.6" r="1.55"/><circle cx="487.7" cy="314.7" r="1.55"/><circle cx="491.7" cy="314.8" r="1.55"/><circle cx="495.7" cy="314.9" r="1.55"/><circle cx="499.7" cy="315" r="1.55"/><circle cx="503.6" cy="315.1" r="1.55"/><circle cx="507.6" cy="315.2" r="1.55"/><circle cx="511.6" cy="315.2" r="1.55"/><circle cx="515.6" cy="315.3" r="1.55"/><circle cx="519.5" cy="315.3" r="1.55"/><circle cx="523.5" cy="315.4" r="1.55"/><circle cx="527.5" cy="315.4" r="1.55"/><circle cx="531.5" cy="315.5" r="1.55"/><circle cx="535.5" cy="315.5" r="1.55"/><circle cx="539.4" cy="315.5" r="1.55"/><circle cx="543.4" cy="315.6" r="1.55"/><circle cx="547.4" cy="315.6" r="1.55"/><circle cx="551.4" cy="315.6" r="1.55"/><circle cx="555.3" cy="315.6" r="1.55"/><circle cx="559.3" cy="315.6" r="1.55"/><circle cx="563.3" cy="315.5" r="1.55"/><circle cx="567.3" cy="315.5" r="1.55"/><circle cx="571.2" cy="315.5" r="1.55"/><circle cx="575.2" cy="315.5" r="1.55"/><circle cx="579.2" cy="315.4" r="1.55"/><circle cx="583.2" cy="315.4" r="1.55"/><circle cx="587.2" cy="315.3" r="1.55"/><circle cx="591.1" cy="315.2" r="1.55"/><circle cx="595.1" cy="315.1" r="1.55"/><circle cx="599.1" cy="315.1" r="1.55"/><circle cx="603.1" cy="315" r="1.55"/><circle cx="607" cy="314.9" r="1.55"/><circle cx="611" cy="314.9" r="1.55"/><circle cx="615" cy="314.9" r="1.55"/><circle cx="619" cy="314.8" r="1.55"/><circle cx="622.9" cy="314.8" r="1.55"/><circle cx="626.9" cy="314.8" r="1.55"/><circle cx="630.9" cy="314.6" r="1.55"/><circle cx="634.9" cy="314.1" r="1.55"/><circle cx="638.9" cy="313.5" r="1.55"/><circle cx="642.8" cy="312.7" r="1.55"/><circle cx="646.8" cy="311.6" r="1.55"/><circle cx="650.8" cy="310.4" r="1.55"/><circle cx="654.8" cy="309" r="1.55"/><circle cx="658.7" cy="307.5" r="1.55"/><circle cx="662.7" cy="305.8" r="1.55"/><circle cx="666.7" cy="303.9" r="1.55"/><circle cx="670.7" cy="301.9" r="1.55"/><circle cx="674.6" cy="299.7" r="1.55"/><circle cx="678.6" cy="297.3" r="1.55"/><circle cx="682.6" cy="294.7" r="1.55"/><circle cx="686.6" cy="292" r="1.55"/><circle cx="690.6" cy="289.2" r="1.55"/><circle cx="694.5" cy="286.7" r="1.55"/></g>
<g fill="#a3c6a9"><circle cx="78.1" cy="367.1" r="1.55"/><circle cx="82.1" cy="366.6" r="1.55"/><circle cx="86.1" cy="366.1" r="1.55"/><circle cx="90" cy="365.8" r="1.55"/><circle cx="94" cy="365.4" r="1.55"/><circle cx="98" cy="365.1" r="1.55"/><circle cx="102" cy="364.8" r="1.55"/><circle cx="105.9" cy="364.5" r="1.55"/><circle cx="109.9" cy="364.2" r="1.55"/><circle cx="113.9" cy="363.9" r="1.55"/><circle cx="117.9" cy="363.7" r="1.55"/><circle cx="121.8" cy="363.4" r="1.55"/><circle cx="125.8" cy="363" r="1.55"/><circle cx="129.8" cy="362.7" r="1.55"/><circle cx="133.8" cy="362.3" r="1.55"/><circle cx="137.8" cy="361.9" r="1.55"/><circle cx="141.7" cy="361.4" r="1.55"/><circle cx="145.7" cy="361" r="1.55"/><circle cx="149.7" cy="360.5" r="1.55"/><circle cx="153.7" cy="360" r="1.55"/><circle cx="157.6" cy="359.5" r="1.55"/><circle cx="161.6" cy="359.1" r="1.55"/><circle cx="165.6" cy="358.7" r="1.55"/><circle cx="169.6" cy="358.3" r="1.55"/><circle cx="173.5" cy="357.9" r="1.55"/><circle cx="177.5" cy="357.6" r="1.55"/><circle cx="181.5" cy="357.3" r="1.55"/><circle cx="185.5" cy="357" r="1.55"/><circle cx="189.5" cy="356.7" r="1.55"/><circle cx="193.4" cy="356.5" r="1.55"/><circle cx="197.4" cy="356.3" r="1.55"/><circle cx="201.4" cy="356" r="1.55"/><circle cx="205.4" cy="355.7" r="1.55"/><circle cx="209.3" cy="355.5" r="1.55"/><circle cx="213.3" cy="355.2" r="1.55"/><circle cx="217.3" cy="355" r="1.55"/><circle cx="221.3" cy="354.8" r="1.55"/><circle cx="225.2" cy="354.6" r="1.55"/><circle cx="229.2" cy="354.4" r="1.55"/><circle cx="233.2" cy="354.3" r="1.55"/><circle cx="237.2" cy="354.1" r="1.55"/><circle cx="241.2" cy="353.9" r="1.55"/><circle cx="245.1" cy="353.7" r="1.55"/><circle cx="249.1" cy="353.5" r="1.55"/><circle cx="253.1" cy="353.3" r="1.55"/><circle cx="257.1" cy="353.1" r="1.55"/><circle cx="261" cy="352.9" r="1.55"/><circle cx="265" cy="352.8" r="1.55"/><circle cx="269" cy="352.6" r="1.55"/><circle cx="273" cy="352.5" r="1.55"/><circle cx="276.9" cy="352.4" r="1.55"/><circle cx="280.9" cy="352.4" r="1.55"/><circle cx="284.9" cy="352.3" r="1.55"/><circle cx="288.9" cy="352.3" r="1.55"/><circle cx="292.9" cy="352.2" r="1.55"/><circle cx="296.8" cy="352.2" r="1.55"/><circle cx="300.8" cy="352.1" r="1.55"/><circle cx="304.8" cy="352" r="1.55"/><circle cx="308.8" cy="351.9" r="1.55"/><circle cx="312.7" cy="351.7" r="1.55"/><circle cx="316.7" cy="351.4" r="1.55"/><circle cx="320.7" cy="351.1" r="1.55"/><circle cx="324.7" cy="350.8" r="1.55"/><circle cx="328.7" cy="350.5" r="1.55"/><circle cx="332.6" cy="350.2" r="1.55"/><circle cx="336.6" cy="350" r="1.55"/><circle cx="340.6" cy="349.8" r="1.55"/><circle cx="344.6" cy="349.6" r="1.55"/><circle cx="348.5" cy="349.4" r="1.55"/><circle cx="352.5" cy="349.2" r="1.55"/><circle cx="356.5" cy="349.1" r="1.55"/><circle cx="360.5" cy="349" r="1.55"/><circle cx="364.4" cy="349" r="1.55"/><circle cx="368.4" cy="348.9" r="1.55"/><circle cx="372.4" cy="348.8" r="1.55"/><circle cx="376.4" cy="348.8" r="1.55"/><circle cx="380.4" cy="348.7" r="1.55"/><circle cx="384.3" cy="348.6" r="1.55"/><circle cx="388.3" cy="348.5" r="1.55"/><circle cx="392.3" cy="348.4" r="1.55"/><circle cx="396.3" cy="348.3" r="1.55"/><circle cx="400.2" cy="348.2" r="1.55"/><circle cx="404.2" cy="348.1" r="1.55"/><circle cx="408.2" cy="348" r="1.55"/><circle cx="412.2" cy="347.9" r="1.55"/><circle cx="416.1" cy="347.8" r="1.55"/><circle cx="420.1" cy="347.7" r="1.55"/><circle cx="424.1" cy="347.5" r="1.55"/><circle cx="428.1" cy="347.4" r="1.55"/><circle cx="432.1" cy="347.3" r="1.55"/><circle cx="436" cy="347.2" r="1.55"/><circle cx="440" cy="347" r="1.55"/><circle cx="444" cy="346.9" r="1.55"/><circle cx="448" cy="346.8" r="1.55"/><circle cx="451.9" cy="346.6" r="1.55"/><circle cx="455.9" cy="346.5" r="1.55"/><circle cx="459.9" cy="346.4" r="1.55"/><circle cx="463.9" cy="346.3" r="1.55"/><circle cx="467.8" cy="346.2" r="1.55"/><circle cx="471.8" cy="346.1" r="1.55"/><circle cx="475.8" cy="346" r="1.55"/><circle cx="479.8" cy="345.9" r="1.55"/><circle cx="483.8" cy="345.9" r="1.55"/><circle cx="487.7" cy="345.8" r="1.55"/><circle cx="491.7" cy="345.7" r="1.55"/><circle cx="495.7" cy="345.6" r="1.55"/><circle cx="499.7" cy="345.6" r="1.55"/><circle cx="503.6" cy="345.5" r="1.55"/><circle cx="507.6" cy="345.4" r="1.55"/><circle cx="511.6" cy="345.4" r="1.55"/><circle cx="515.6" cy="345.3" r="1.55"/><circle cx="519.5" cy="345.2" r="1.55"/><circle cx="523.5" cy="345.2" r="1.55"/><circle cx="527.5" cy="345.1" r="1.55"/><circle cx="531.5" cy="345" r="1.55"/><circle cx="535.5" cy="345" r="1.55"/><circle cx="539.4" cy="344.9" r="1.55"/><circle cx="543.4" cy="344.9" r="1.55"/><circle cx="547.4" cy="344.8" r="1.55"/><circle cx="551.4" cy="344.8" r="1.55"/><circle cx="555.3" cy="344.8" r="1.55"/><circle cx="559.3" cy="344.7" r="1.55"/><circle cx="563.3" cy="344.7" r="1.55"/><circle cx="567.3" cy="344.7" r="1.55"/><circle cx="571.2" cy="344.6" r="1.55"/><circle cx="575.2" cy="344.5" r="1.55"/><circle cx="579.2" cy="344.5" r="1.55"/><circle cx="583.2" cy="344.4" r="1.55"/><circle cx="587.2" cy="344.4" r="1.55"/><circle cx="591.1" cy="344.3" r="1.55"/><circle cx="595.1" cy="344.2" r="1.55"/><circle cx="599.1" cy="344.2" r="1.55"/><circle cx="603.1" cy="344" r="1.55"/><circle cx="607" cy="343.8" r="1.55"/><circle cx="611" cy="343.7" r="1.55"/><circle cx="615" cy="343.7" r="1.55"/><circle cx="619" cy="343.7" r="1.55"/><circle cx="622.9" cy="343.7" r="1.55"/><circle cx="626.9" cy="343.7" r="1.55"/><circle cx="630.9" cy="343.8" r="1.55"/><circle cx="634.9" cy="343.9" r="1.55"/><circle cx="638.9" cy="343.9" r="1.55"/><circle cx="642.8" cy="344.1" r="1.55"/><circle cx="646.8" cy="344.4" r="1.55"/><circle cx="650.8" cy="344.6" r="1.55"/><circle cx="654.8" cy="344.9" r="1.55"/><circle cx="658.7" cy="345.1" r="1.55"/><circle cx="662.7" cy="345.2" r="1.55"/><circle cx="666.7" cy="345.2" r="1.55"/><circle cx="670.7" cy="345.2" r="1.55"/><circle cx="674.6" cy="345.1" r="1.55"/><circle cx="678.6" cy="345" r="1.55"/><circle cx="682.6" cy="344.9" r="1.55"/><circle cx="686.6" cy="344.8" r="1.55"/><circle cx="690.6" cy="344.7" r="1.55"/><circle cx="694.5" cy="344.7" r="1.55"/></g>
<path d="M698 315 H945" stroke="#f3cd52" stroke-width="1.6"/>
<path d="M90 309.5 L93 309.4 L96 309.3 L99 309.2 L102 309.1 L105 309 L108 308.9 L111 308.9 L114 308.8 L117 308.8 L120 308.7 L123 308.7 L126 308.7 L129 308.6 L132 308.6 L135 308.6 L138 308.6 L141 308.6 L144 308.7 L147 308.7 L150 308.8 L153 308.9 L156 309 L159 309.1 L162 309.2 L165 309.4 L168 309.5 L171 309.7 L174 309.9 L177 310.1 L180 310.4 L183 310.6 L186 310.9 L189 311.1 L192 311.4 L195 311.7 L198 311.9 L201 312.2 L204 312.5 L207 312.8 L210 313.1 L213 313.4 L216 313.7 L219 314 L222 314.3 L225 314.7 L228 315 L231 315.3 L234 315.6 L237 315.9 L240 316.1 L243 316.4 L246 316.7 L249 317 L252 317.3 L255 317.6 L258 317.9 L261 318.3 L264 318.6 L267 318.9 L270 319.3 L273 319.6 L276 319.9 L279 320.2 L282 320.6 L285 320.9 L288 321.2 L291 321.6 L294 321.9 L297 322.2 L300 322.5 L303 322.9 L306 323.1 L309 323.4 L312 323.7 L315 323.9 L318 324.1 L321 324.4 L324 324.6 L327 324.8 L330 325 L333 325.2 L336 325.4 L339 325.6 L342 325.8 L345 326 L348 326.2 L351 326.4 L354 326.5 L357 326.7 L360 326.9 L363 327.1 L366 327.3 L369 327.4 L372 327.6 L375 327.8 L378 327.9 L381 328.1 L384 328.2 L387 328.3 L390 328.5 L393 328.6 L396 328.7 L399 328.8 L402 328.8 L405 328.9 L408 329 L411 329 L414 329.1 L417 329.2 L420 329.2 L423 329.3 L426 329.3 L429 329.4 L432 329.4 L435 329.5 L438 329.6 L441 329.6 L444 329.7 L447 329.8 L450 329.8 L453 329.9 L456 329.9 L459 330 L462 330 L465 330.1 L468 330.1 L471 330.1 L474 330.2 L477 330.2 L480 330.2 L483 330.2 L486 330.3 L489 330.3 L492 330.3 L495 330.3 L498 330.3 L501 330.3 L504 330.3 L507 330.3 L510 330.3 L513 330.3 L516 330.3 L519 330.3 L522 330.3 L525 330.3 L528 330.3 L531 330.3 L534 330.2 L537 330.2 L540 330.2 L543 330.2 L546 330.2 L549 330.2 L552 330.2 L555 330.2 L558 330.2 L561 330.1 L564 330.1 L567 330.1 L570 330.1 L573 330 L576 330 L579 329.9 L582 329.9 L585 329.9 L588 329.8 L591 329.8 L594 329.7 L597 329.7 L600 329.6 L603 329.5 L606 329.4 L609 329.3 L612 329.3 L615 329.3 L618 329.3 L621 329.2 L624 329.2 L627 329.2 L630 329.2 L633 329.1 L636 328.9 L639 328.7 L642 328.5 L645 328.2 L648 327.8 L651 327.5 L654 327.1 L657 326.6 L660 326.1 L663 325.5 L666 324.8 L669 324 L672 323.2 L675 322.3 L678 321.3 L681 320.4 L684 319.3 L687 318.3 L690 317.2 L693 316.1 L696 315.3 L698.9 314.9" fill="none" stroke="#f2c840" stroke-width="2.3" stroke-linejoin="round"/>
<path d="M143 220.6 H945" stroke="#2b8f86" stroke-width="1" stroke-dasharray="1 2.2"/>
<g opacity=".5"><g stroke="#2fa596" stroke-width=".95" fill="none"><path d="M78.1 310.5 V311 M78.1 313.5 V313.5"/><rect x="77.1" y="311" width="1.9" height="2.5" fill="#fff"/><path d="M82.1 307.1 V307.6 M82.1 311 V311.5"/><rect x="81.1" y="307.6" width="1.9" height="3.4" fill="#fff"/><path d="M121.8 336.9 V337.1 M121.8 338.3 V338.5"/><rect x="120.9" y="337.1" width="1.9" height="1.2" fill="#fff"/><path d="M133.8 338.7 V340.4 M133.8 342 V342.8"/><rect x="132.8" y="340.4" width="1.9" height="1.6" fill="#fff"/><path d="M141.7 341 V341.4 M141.7 342.6 V343"/><rect x="140.8" y="341.4" width="1.9" height="1.2" fill="#fff"/><path d="M145.7 340.2 V340.5 M145.7 341.7 V342"/><rect x="144.8" y="340.5" width="1.9" height="1.2" fill="#fff"/><path d="M149.7 339.3 V339.6 M149.7 340.9 V341.2"/><rect x="148.7" y="339.6" width="1.9" height="1.2" fill="#fff"/><path d="M153.7 336.9 V338.6 M153.7 339.9 V341.6"/><rect x="152.7" y="338.6" width="1.9" height="1.2" fill="#fff"/><path d="M157.6 338.1 V338 M157.6 339.2 V339.2"/><rect x="156.7" y="338" width="1.9" height="1.2" fill="#fff"/><path d="M173.5 341.1 V341.2 M173.5 342.4 V342.5"/><rect x="172.6" y="341.2" width="1.9" height="1.2" fill="#fff"/><path d="M177.5 340.1 V340.5 M177.5 341.7 V342.1"/><rect x="176.6" y="340.5" width="1.9" height="1.2" fill="#fff"/><path d="M181.5 337.5 V339.6 M181.5 340.8 V342.2"/><rect x="180.6" y="339.6" width="1.9" height="1.2" fill="#fff"/><path d="M185.5 327 V331 M185.5 340.4 V341"/><rect x="184.5" y="331" width="1.9" height="9.4" fill="#fff"/><path d="M193.4 328 V328.7 M193.4 334.5 V334.8"/><rect x="192.5" y="328.7" width="1.9" height="5.8" fill="#fff"/><path d="M205.4 332.9 V333.4 M205.4 334.7 V335.2"/><rect x="204.4" y="333.4" width="1.9" height="1.3" fill="#fff"/><path d="M209.3 331 V332.5 M209.3 333.7 V334"/><rect x="208.4" y="332.5" width="1.9" height="1.2" fill="#fff"/><path d="M217.3 337.5 V338.7 M217.3 340.4 V341.6"/><rect x="216.3" y="338.7" width="1.9" height="1.7" fill="#fff"/><path d="M221.3 336.5 V336.9 M221.3 340.4 V340.6"/><rect x="220.3" y="336.9" width="1.9" height="3.5" fill="#fff"/><path d="M241.2 339.3 V339.5 M241.2 340.7 V340.9"/><rect x="240.2" y="339.5" width="1.9" height="1.2" fill="#fff"/><path d="M249.1 337 V337.5 M249.1 341.5 V341.8"/><rect x="248.2" y="337.5" width="1.9" height="4" fill="#fff"/><path d="M253.1 336.5 V336.6 M253.1 337.9 V338"/><rect x="252.1" y="336.6" width="1.9" height="1.2" fill="#fff"/><path d="M257.1 335.2 V335.7 M257.1 337 V337.5"/><rect x="256.1" y="335.7" width="1.9" height="1.3" fill="#fff"/><path d="M269 337.5 V337.7 M269 338.9 V339.1"/><rect x="268" y="337.7" width="1.9" height="1.2" fill="#fff"/><path d="M284.9 338.1 V338.3 M284.9 339.5 V339.7"/><rect x="284" y="338.3" width="1.9" height="1.2" fill="#fff"/><path d="M288.9 331.6 V334.5 M288.9 338.6 V339.2"/><rect x="287.9" y="334.5" width="1.9" height="4.1" fill="#fff"/><path d="M292.9 325.8 V329.9 M292.9 334.5 V334.6"/><rect x="291.9" y="329.9" width="1.9" height="4.6" fill="#fff"/><path d="M300.8 329.3 V329.4 M300.8 330.7 V330.8"/><rect x="299.9" y="329.4" width="1.9" height="1.2" fill="#fff"/><path d="M308.8 332.8 V333.2 M308.8 334.4 V334.8"/><rect x="307.8" y="333.2" width="1.9" height="1.2" fill="#fff"/><path d="M320.7 334 V334.4 M320.7 335.6 V336"/><rect x="319.7" y="334.4" width="1.9" height="1.2" fill="#fff"/><path d="M324.7 332.5 V333 M324.7 334.5 V335"/><rect x="323.7" y="333" width="1.9" height="1.5" fill="#fff"/><path d="M328.7 328.3 V328.7 M328.7 332.8 V333"/><rect x="327.7" y="328.7" width="1.9" height="4.1" fill="#fff"/><path d="M340.6 328.7 V330 M340.6 331.6 V332.2"/><rect x="339.6" y="330" width="1.9" height="1.6" fill="#fff"/><path d="M352.5 302.9 V315.2 M352.5 332.7 V333.3"/><rect x="351.6" y="315.2" width="1.9" height="17.5" fill="#fff"/><path d="M368.4 319.9 V321 M368.4 323.4 V324"/><rect x="367.5" y="321" width="1.9" height="2.4" fill="#fff"/><path d="M384.3 329.9 V330.1 M384.3 331.3 V331.5"/><rect x="383.4" y="330.1" width="1.9" height="1.2" fill="#fff"/><path d="M392.3 329.5 V330 M392.3 331.6 V332.1"/><rect x="391.3" y="330" width="1.9" height="1.6" fill="#fff"/><path d="M396.3 328.5 V328.9 M396.3 330.1 V330.5"/><rect x="395.3" y="328.9" width="1.9" height="1.2" fill="#fff"/><path d="M408.2 329.5 V330 M408.2 331.3 V331.8"/><rect x="407.2" y="330" width="1.9" height="1.3" fill="#fff"/><path d="M412.2 327 V327.5 M412.2 330 V330.5"/><rect x="411.2" y="327.5" width="1.9" height="2.5" fill="#fff"/><path d="M416.1 320.6 V321 M416.1 326.9 V327.2"/><rect x="415.2" y="321" width="1.9" height="5.9" fill="#fff"/><path d="M420.1 316.3 V319.7 M420.1 321.7 V321.7"/><rect x="419.2" y="319.7" width="1.9" height="2" fill="#fff"/><path d="M432.1 322.7 V322.7 M432.1 323.9 V323.9"/><rect x="431.1" y="322.7" width="1.9" height="1.2" fill="#fff"/><path d="M436 318.1 V320 M436 323.4 V325.2"/><rect x="435.1" y="320" width="1.9" height="3.4" fill="#fff"/><path d="M444 323.1 V323.4 M444 324.6 V324.8"/><rect x="443" y="323.4" width="1.9" height="1.2" fill="#fff"/><path d="M448 322.7 V322.8 M448 324 V324.1"/><rect x="447" y="322.8" width="1.9" height="1.2" fill="#fff"/><path d="M455.9 323.4 V325.5 M455.9 327.5 V327.8"/><rect x="455" y="325.5" width="1.9" height="2" fill="#fff"/><path d="M471.8 329 V329.5 M471.8 331 V331.5"/><rect x="470.9" y="329.5" width="1.9" height="1.5" fill="#fff"/><path d="M475.8 325.2 V327 M475.8 329.3 V329.9"/><rect x="474.8" y="327" width="1.9" height="2.3" fill="#fff"/><path d="M483.8 322 V322.2 M483.8 328.1 V328.3"/><rect x="482.8" y="322.2" width="1.9" height="5.9" fill="#fff"/><path d="M491.7 314 V322.2 M491.7 324 V325.2"/><rect x="490.8" y="322.2" width="1.9" height="1.8" fill="#fff"/><path d="M495.7 319.9 V321 M495.7 322.2 V325.8"/><rect x="494.7" y="321" width="1.9" height="1.2" fill="#fff"/><path d="M511.6 328.7 V329.9 M511.6 331.1 V332.8"/><rect x="510.6" y="329.9" width="1.9" height="1.2" fill="#fff"/><path d="M519.5 328.7 V329.5 M519.5 330.7 V332.2"/><rect x="518.6" y="329.5" width="1.9" height="1.2" fill="#fff"/><path d="M527.5 329.7 V329.8 M527.5 331 V331"/><rect x="526.6" y="329.8" width="1.9" height="1.2" fill="#fff"/><path d="M531.5 326.9 V329.4 M531.5 330.6 V330.6"/><rect x="530.5" y="329.4" width="1.9" height="1.2" fill="#fff"/><path d="M559.3 326.3 V328.7 M559.3 336.3 V336.9"/><rect x="558.4" y="328.7" width="1.9" height="7.6" fill="#fff"/><path d="M563.3 322.2 V324.5 M563.3 329.2 V329.4"/><rect x="562.3" y="324.5" width="1.9" height="4.7" fill="#fff"/><path d="M567.3 323.5 V323.6 M567.3 324.9 V325"/><rect x="566.3" y="323.6" width="1.9" height="1.2" fill="#fff"/><path d="M575.2 321.6 V327.5 M575.2 329.8 V335"/><rect x="574.3" y="327.5" width="1.9" height="2.3" fill="#fff"/><path d="M579.2 326 V326.4 M579.2 327.6 V328"/><rect x="578.3" y="326.4" width="1.9" height="1.2" fill="#fff"/><path d="M583.2 322.8 V324 M583.2 326.9 V327"/><rect x="582.2" y="324" width="1.9" height="2.9" fill="#fff"/><path d="M595.1 324.5 V326.3 M595.1 329.2 V329.4"/><rect x="594.2" y="326.3" width="1.9" height="2.9" fill="#fff"/><path d="M599.1 324 V324.5 M599.1 326.3 V326.8"/><rect x="598.1" y="324.5" width="1.9" height="1.8" fill="#fff"/><path d="M603.1 320.8 V321 M603.1 325.1 V325.3"/><rect x="602.1" y="321" width="1.9" height="4.1" fill="#fff"/><path d="M615 327.5 V327.8 M615 329.1 V329.4"/><rect x="614" y="327.8" width="1.9" height="1.2" fill="#fff"/><path d="M626.9 323.4 V324.5 M626.9 330.4 V330.6"/><rect x="626" y="324.5" width="1.9" height="5.9" fill="#fff"/><path d="M630.9 281.2 V295.8 M630.9 325.7 V325.9"/><rect x="630" y="295.8" width="1.9" height="29.9" fill="#fff"/><path d="M634.9 258 V270.5 M634.9 294.9 V295.2"/><rect x="633.9" y="270.5" width="1.9" height="24.4" fill="#fff"/><path d="M638.9 211.3 V215.3 M638.9 270.5 V279.7"/><rect x="637.9" y="215.3" width="1.9" height="55.2" fill="#fff"/><path d="M642.8 175.4 V194.9 M642.8 214 V221"/><rect x="641.9" y="194.9" width="1.9" height="19.1" fill="#fff"/><path d="M658.7 200.8 V208 M658.7 227 V233.7"/><rect x="657.8" y="208" width="1.9" height="19" fill="#fff"/><path d="M662.7 195 V201.4 M662.7 208 V220.5"/><rect x="661.8" y="201.4" width="1.9" height="6.6" fill="#fff"/><path d="M666.7 142.8 V172.4 M666.7 201.4 V212"/><rect x="665.7" y="172.4" width="1.9" height="29" fill="#fff"/><path d="M670.7 144.5 V167 M670.7 171.8 V174.2"/><rect x="669.7" y="167" width="1.9" height="4.8" fill="#fff"/><path d="M682.6 180 V186.6 M682.6 208.5 V212.7"/><rect x="681.7" y="186.6" width="1.9" height="21.9" fill="#fff"/><path d="M690.6 170.6 V172.4 M690.6 196 V236.3"/><rect x="689.6" y="172.4" width="1.9" height="23.6" fill="#fff"/><path d="M698.5 216.7 V220.6 M698.5 224.6 V240.1"/><rect x="697.6" y="220.6" width="1.9" height="4" fill="#fff"/></g><g stroke="#f23645" stroke-width=".95" fill="#f23645"><path d="M86.1 303 V313"/><rect x="85.1" y="307.6" width="1.9" height="2.9"/><path d="M90 310 V315.1"/><rect x="89.1" y="310.5" width="1.9" height="4.1"/><path d="M94 311.7 V318.7"/><rect x="93.1" y="314.4" width="1.9" height="1.2"/><path d="M98 312.3 V318.3"/><rect x="97" y="315.5" width="1.9" height="2.5"/><path d="M102 318.2 V325.8"/><rect x="101" y="318.2" width="1.9" height="6.3"/><path d="M105.9 321 V326.5"/><rect x="105" y="323.4" width="1.9" height="2.9"/><path d="M109.9 326.3 V341"/><rect x="109" y="326.3" width="1.9" height="8.2"/><path d="M113.9 334.5 V337.5"/><rect x="112.9" y="334.5" width="1.9" height="1.8"/><path d="M117.9 335.8 V338.5"/><rect x="116.9" y="336.3" width="1.9" height="1.7"/><path d="M125.8 336.9 V341.5"/><rect x="124.9" y="337.4" width="1.9" height="3.6"/><path d="M129.8 341 V344.5"/><rect x="128.9" y="340.9" width="1.9" height="1.2"/><path d="M137.8 339.9 V343"/><rect x="136.8" y="340.4" width="1.9" height="2.1"/><path d="M161.6 338.1 V339.3"/><rect x="160.7" y="338.1" width="1.9" height="1.2"/><path d="M165.6 338.3 V342.1"/><rect x="164.6" y="338.8" width="1.9" height="2.8"/><path d="M169.6 339.2 V342.8"/><rect x="168.6" y="340.9" width="1.9" height="1.2"/><path d="M189.5 329.9 V336.3"/><rect x="188.5" y="331.6" width="1.9" height="3.4"/><path d="M197.4 328.2 V334.3"/><rect x="196.5" y="328.7" width="1.9" height="5.3"/><path d="M201.4 332.8 V335.7"/><rect x="200.4" y="332.8" width="1.9" height="1.9"/><path d="M213.3 332.4 V342"/><rect x="212.4" y="332.8" width="1.9" height="8.8"/><path d="M225.2 336.4 V338"/><rect x="224.3" y="336.6" width="1.9" height="1.2"/><path d="M229.2 337 V338.3"/><rect x="228.3" y="337" width="1.9" height="1.2"/><path d="M233.2 337.3 V340.5"/><rect x="232.3" y="337.8" width="1.9" height="2.2"/><path d="M237.2 339.5 V340.9"/><rect x="236.2" y="339.6" width="1.9" height="1.2"/><path d="M245.1 340.4 V343.3"/><rect x="244.2" y="339.8" width="1.9" height="1.2"/><path d="M261 335.2 V337.4"/><rect x="260.1" y="335.7" width="1.9" height="1.2"/><path d="M265 336.4 V339.1"/><rect x="264.1" y="336.9" width="1.9" height="1.7"/><path d="M273 337.5 V338.8"/><rect x="272" y="337.5" width="1.9" height="1.2"/><path d="M276.9 337.8 V339.5"/><rect x="276" y="338" width="1.9" height="1.2"/><path d="M280.9 338.5 V339.7"/><rect x="280" y="338.5" width="1.9" height="1.2"/><path d="M296.8 329.4 V330.8"/><rect x="295.9" y="329.5" width="1.9" height="1.2"/><path d="M304.8 329.5 V334.6"/><rect x="303.8" y="329.9" width="1.9" height="4.4"/><path d="M312.7 332.8 V334.2"/><rect x="311.8" y="332.9" width="1.9" height="1.2"/><path d="M316.7 333.2 V336"/><rect x="315.8" y="333.7" width="1.9" height="1.8"/><path d="M332.6 328.6 V332"/><rect x="331.7" y="328.5" width="1.9" height="1.2"/><path d="M336.6 326.3 V333.3"/><rect x="335.7" y="329.2" width="1.9" height="2.8"/><path d="M344.6 329.5 V332.1"/><rect x="343.6" y="330" width="1.9" height="1.6"/><path d="M348.5 331.1 V333"/><rect x="347.6" y="331.4" width="1.9" height="1.2"/><path d="M356.5 307.5 V315.9"/><rect x="355.5" y="314.6" width="1.9" height="1.2"/><path d="M360.5 315.5 V318.3"/><rect x="359.5" y="315.8" width="1.9" height="2.2"/><path d="M364.4 317.3 V323.6"/><rect x="363.5" y="317.5" width="1.9" height="5.9"/><path d="M372.4 322.2 V335.7"/><rect x="371.4" y="322.8" width="1.9" height="5.9"/><path d="M376.4 328.2 V329.7"/><rect x="375.4" y="328.3" width="1.9" height="1.2"/><path d="M380.4 328.7 V331.5"/><rect x="379.4" y="329.2" width="1.9" height="1.8"/><path d="M388.3 329.9 V332.1"/><rect x="387.4" y="330.4" width="1.9" height="1.2"/><path d="M400.2 328.5 V329.7"/><rect x="399.3" y="328.5" width="1.9" height="1.2"/><path d="M404.2 328.7 V331.8"/><rect x="403.3" y="329.2" width="1.9" height="2.1"/><path d="M424.1 314.6 V325.2"/><rect x="423.1" y="320.5" width="1.9" height="2.3"/><path d="M428.1 321.5 V325.2"/><rect x="427.1" y="321.7" width="1.9" height="1.7"/><path d="M440 320.3 V324.8"/><rect x="439.1" y="320.5" width="1.9" height="3.8"/><path d="M451.9 322.2 V330.4"/><rect x="451" y="323.4" width="1.9" height="4.6"/><path d="M459.9 325.2 V329.3"/><rect x="458.9" y="325.8" width="1.9" height="2.2"/><path d="M463.9 327.5 V330.3"/><rect x="462.9" y="328" width="1.9" height="1.8"/><path d="M467.8 329.3 V331.5"/><rect x="466.9" y="329.8" width="1.9" height="1.2"/><path d="M479.8 326.2 V329.3"/><rect x="478.8" y="326.3" width="1.9" height="1.2"/><path d="M487.7 319.9 V328.1"/><rect x="486.8" y="321.7" width="1.9" height="3.5"/><path d="M499.7 320.5 V322.7"/><rect x="498.7" y="321" width="1.9" height="1.2"/><path d="M503.6 322.1 V326.3"/><rect x="502.7" y="322.2" width="1.9" height="2.8"/><path d="M507.6 321.7 V335.7"/><rect x="506.7" y="324" width="1.9" height="7"/><path d="M515.6 326.3 V330.4"/><rect x="514.6" y="328.9" width="1.9" height="1.2"/><path d="M523.5 326.9 V331"/><rect x="522.6" y="329.3" width="1.9" height="1.2"/><path d="M535.5 329.1 V330.4"/><rect x="534.5" y="329.1" width="1.9" height="1.2"/><path d="M539.4 329.8 V333.9"/><rect x="538.5" y="329.8" width="1.9" height="1.2"/><path d="M543.4 330.3 V332.8"/><rect x="542.5" y="329.9" width="1.9" height="1.2"/><path d="M547.4 330.1 V331.8"/><rect x="546.4" y="330.4" width="1.9" height="1.2"/><path d="M551.4 330.8 V332.5"/><rect x="550.4" y="331" width="1.9" height="1.2"/><path d="M555.3 332 V338.6"/><rect x="554.4" y="332.2" width="1.9" height="4.1"/><path d="M571.2 320.4 V330"/><rect x="570.3" y="324.5" width="1.9" height="5.3"/><path d="M587.2 324.4 V328.2"/><rect x="586.2" y="324.5" width="1.9" height="3.5"/><path d="M591.1 326.3 V329.9"/><rect x="590.2" y="327.5" width="1.9" height="2"/><path d="M607 321.4 V329.9"/><rect x="606.1" y="321.6" width="1.9" height="6.9"/><path d="M611 328 V329.4"/><rect x="610.1" y="328.1" width="1.9" height="1.2"/><path d="M619 326.9 V331.6"/><rect x="618" y="328" width="1.9" height="2"/><path d="M622.9 329.5 V330.7"/><rect x="622" y="329.5" width="1.9" height="1.2"/><path d="M646.8 194.5 V239.6"/><rect x="645.9" y="194.9" width="1.9" height="9.5"/><path d="M650.8 186.6 V235.7"/><rect x="649.8" y="205.6" width="1.9" height="14.9"/><path d="M654.8 211.3 V229"/><rect x="653.8" y="221.2" width="1.9" height="6.6"/><path d="M674.6 155.2 V203.2"/><rect x="673.7" y="167" width="1.9" height="29.7"/><path d="M678.6 183 V247.5"/><rect x="677.7" y="196" width="1.9" height="12"/><path d="M686.6 184.2 V202"/><rect x="685.6" y="186.6" width="1.9" height="9.4"/><path d="M694.5 170.6 V227"/><rect x="693.6" y="172.4" width="1.9" height="52.1"/></g></g>
<g fill="#ee4458" stroke="#d81b43" stroke-width=".7"><circle cx="292.9" cy="319.3" r="2"/><circle cx="297" cy="323.4" r="2"/><circle cx="301" cy="321.9" r="2"/><circle cx="356.2" cy="302.3" r="2"/><circle cx="634.9" cy="251.8" r="2"/><circle cx="638.8" cy="205.3" r="2"/><circle cx="646.7" cy="188.4" r="2"/><circle cx="670.8" cy="139.2" r="2"/></g>
<g fill="#43a047"><circle cx="113.9" cy="343.6" r="2.15"/><circle cx="121.8" cy="344" r="2.15"/><circle cx="141.7" cy="348.6" r="2.15"/></g>
<path d="M638.2 181.3 C639.4 175.3 641 167.9 643.5 167.9 C645.5 167.9 646.9 170.7 647.7 174.2" fill="none" stroke="#d6336c" stroke-width="2" stroke-linecap="round"/>
<path d="M662.5 152.8 C663.7 146.8 666.5 135.9 669 135.9 C671 135.9 674.7 139.3 675.5 142.8" fill="none" stroke="#d6336c" stroke-width="2" stroke-linecap="round"/>
<path d="M690.6 170 C691.8 164 693.2 160.5 695.7 160.5 C697.7 160.5 698.4 162.4 699.2 165.9" fill="none" stroke="#d6336c" stroke-width="2" stroke-linecap="round"/>
<g><circle cx="699" cy="372.5" r="9.6" fill="#fff" stroke="#9c27b0" stroke-width="1.5"/><path d="M701.5 366.5 L695.3 373.6 H698.9 L696.6 378.6 L702.8 371.5 H699.2 Z" fill="#9c27b0"/></g>
<path d="M788.3 285.2 H861.3 a4 4 0 0 1 4 4 V306 a4 4 0 0 1 -4 4 H788 L777.4 316.6 L784.3 303 V289.2 a4 4 0 0 1 4 -4Z" fill="#363a45"/>
<text x="792.7" y="302.2" font-size="12.5" fill="#fff" textLength="62.8" lengthAdjust="spacingAndGlyphs">Check MTF</text>
<defs><clipPath id="ca"><rect x="0" y="386" width="1024" height="48"/></clipPath><clipPath id="cb"><rect x="0" y="434" width="1024" height="48"/></clipPath></defs>
<path d="M78.2 434 L78.2 440.9 L80.4 442.5 L85.4 439 L89.3 437.5 L92.9 435.6 L95.5 439.4 L101 444.5 L104.4 454.7 L108 454.4 L113.5 452.3 L116.9 454.7 L121.3 460.2 L124.8 463.8 L128.3 458.6 L131.5 460.2 L136.9 465.9 L140.8 464.4 L144.8 464.8 L148.7 462.5 L152.6 459 L155.7 463.8 L161.2 470.3 L166.6 473.1 L172.9 472.8 L176 464.8 L180.4 460.2 L183.8 443 L188.8 446 L192.9 439 L196.6 436.7 L200.2 430.5 L204.4 424.7 L208.8 429.7 L212.7 440.9 L216.6 437.5 L220.5 431.3 L224.4 434.4 L228.3 434.7 L232.3 441.9 L236.3 439.8 L240.6 444.1 L244.8 436.7 L248.8 429.7 L253.1 428.9 L257.3 433.1 L260.5 434.7 L264.7 449.2 L268.3 445.3 L272.5 456.6 L276.1 456.3 L280.8 459.8 L284.7 454.7 L289.1 446.9 L293.3 436.7 L297.2 437.2 L301.1 440.3 L305 443.4 L308.9 438.8 L312.8 437.8 L316.7 440.3 L320.6 434.1 L324.5 432.8 L328.4 430.5 L332.3 430.5 L337 433.6 L340.9 433.1 L344.8 425.8 L348.4 428.4 L352.7 421.9 L356.6 427.3 L360.5 427.8 L364.4 435.9 L367.5 440.6 L371.4 440.9 L375.3 440.6 L379.7 442.5 L383.9 440.9 L387.4 441.9 L391.5 438.8 L395.3 435.9 L398.8 440.9 L403.1 447.7 L407.1 449.2 L411.8 451.9 L415.3 438.3 L419.6 440.3 L423.4 448.8 L427.4 444.5 L431.3 446.6 L435.3 434.7 L439.5 437.5 L443.4 429.4 L447.3 432.5 L451.5 436.7 L455.6 439.1 L459 438.3 L463.4 435.6 L467.6 440.3 L471.8 435.6 L475.4 433.1 L479.3 433.6 L483.2 420.6 L487.1 423.8 L491 435.9 L495.3 439.8 L499.3 437.5 L503.1 434.1 L507.4 439.1 L511.3 435.6 L515.3 443.8 L519.2 437.5 L523.4 443.4 L527.4 440.3 L531.7 438.8 L535.6 440.3 L539.5 438.3 L543.9 436.6 L551.4 440.1 L555.5 443.6 L559.3 438.3 L563.7 444.8 L567.2 447.1 L571.6 443.3 L575.2 445.4 L579.5 445.9 L583.6 444.5 L587.5 445.4 L591.3 455 L595.4 446.6 L599.4 451.2 L603.3 441 L607.7 447.7 L611.2 448 L615.2 443.6 L619.1 445.4 L623.5 450.1 L627.5 440.1 L631.1 429 L634.9 419.9 L639 409.3 L642.8 410.7 L647.2 404.1 L650.7 404.4 L655.1 407.6 L659.2 404.4 L663 402 L667.1 398.4 L671 400.5 L675.4 406.7 L679.7 405.5 L684.1 404.9 L687.7 400.9 L691.2 396.2 L695.2 402 L699.1 399.7 L699.1 434Z" fill="#73bd76" clip-path="url(#ca)"/>
<path d="M78.2 434 L78.2 440.9 L80.4 442.5 L85.4 439 L89.3 437.5 L92.9 435.6 L95.5 439.4 L101 444.5 L104.4 454.7 L108 454.4 L113.5 452.3 L116.9 454.7 L121.3 460.2 L124.8 463.8 L128.3 458.6 L131.5 460.2 L136.9 465.9 L140.8 464.4 L144.8 464.8 L148.7 462.5 L152.6 459 L155.7 463.8 L161.2 470.3 L166.6 473.1 L172.9 472.8 L176 464.8 L180.4 460.2 L183.8 443 L188.8 446 L192.9 439 L196.6 436.7 L200.2 430.5 L204.4 424.7 L208.8 429.7 L212.7 440.9 L216.6 437.5 L220.5 431.3 L224.4 434.4 L228.3 434.7 L232.3 441.9 L236.3 439.8 L240.6 444.1 L244.8 436.7 L248.8 429.7 L253.1 428.9 L257.3 433.1 L260.5 434.7 L264.7 449.2 L268.3 445.3 L272.5 456.6 L276.1 456.3 L280.8 459.8 L284.7 454.7 L289.1 446.9 L293.3 436.7 L297.2 437.2 L301.1 440.3 L305 443.4 L308.9 438.8 L312.8 437.8 L316.7 440.3 L320.6 434.1 L324.5 432.8 L328.4 430.5 L332.3 430.5 L337 433.6 L340.9 433.1 L344.8 425.8 L348.4 428.4 L352.7 421.9 L356.6 427.3 L360.5 427.8 L364.4 435.9 L367.5 440.6 L371.4 440.9 L375.3 440.6 L379.7 442.5 L383.9 440.9 L387.4 441.9 L391.5 438.8 L395.3 435.9 L398.8 440.9 L403.1 447.7 L407.1 449.2 L411.8 451.9 L415.3 438.3 L419.6 440.3 L423.4 448.8 L427.4 444.5 L431.3 446.6 L435.3 434.7 L439.5 437.5 L443.4 429.4 L447.3 432.5 L451.5 436.7 L455.6 439.1 L459 438.3 L463.4 435.6 L467.6 440.3 L471.8 435.6 L475.4 433.1 L479.3 433.6 L483.2 420.6 L487.1 423.8 L491 435.9 L495.3 439.8 L499.3 437.5 L503.1 434.1 L507.4 439.1 L511.3 435.6 L515.3 443.8 L519.2 437.5 L523.4 443.4 L527.4 440.3 L531.7 438.8 L535.6 440.3 L539.5 438.3 L543.9 436.6 L551.4 440.1 L555.5 443.6 L559.3 438.3 L563.7 444.8 L567.2 447.1 L571.6 443.3 L575.2 445.4 L579.5 445.9 L583.6 444.5 L587.5 445.4 L591.3 455 L595.4 446.6 L599.4 451.2 L603.3 441 L607.7 447.7 L611.2 448 L615.2 443.6 L619.1 445.4 L623.5 450.1 L627.5 440.1 L631.1 429 L634.9 419.9 L639 409.3 L642.8 410.7 L647.2 404.1 L650.7 404.4 L655.1 407.6 L659.2 404.4 L663 402 L667.1 398.4 L671 400.5 L675.4 406.7 L679.7 405.5 L684.1 404.9 L687.7 400.9 L691.2 396.2 L695.2 402 L699.1 399.7 L699.1 434Z" fill="#fa8080" clip-path="url(#cb)"/>
<path d="M78 434 H945" stroke="#2a2e39" stroke-width="1.1"/>
<path d="M78.2 440.9 L80.4 442.5 L85.4 439 L89.3 437.5 L92.9 435.6 L95.5 439.4 L101 444.5 L104.4 454.7 L108 454.4 L113.5 452.3 L116.9 454.7 L121.3 460.2 L124.8 463.8 L128.3 458.6 L131.5 460.2 L136.9 465.9 L140.8 464.4 L144.8 464.8 L148.7 462.5 L152.6 459 L155.7 463.8 L161.2 470.3 L166.6 473.1 L172.9 472.8 L176 464.8 L180.4 460.2 L183.8 443 L188.8 446 L192.9 439 L196.6 436.7 L200.2 430.5 L204.4 424.7 L208.8 429.7 L212.7 440.9 L216.6 437.5 L220.5 431.3 L224.4 434.4 L228.3 434.7 L232.3 441.9 L236.3 439.8 L240.6 444.1 L244.8 436.7 L248.8 429.7 L253.1 428.9 L257.3 433.1 L260.5 434.7 L264.7 449.2 L268.3 445.3 L272.5 456.6 L276.1 456.3 L280.8 459.8 L284.7 454.7 L289.1 446.9 L293.3 436.7 L297.2 437.2 L301.1 440.3 L305 443.4 L308.9 438.8 L312.8 437.8 L316.7 440.3 L320.6 434.1 L324.5 432.8 L328.4 430.5 L332.3 430.5 L337 433.6 L340.9 433.1 L344.8 425.8 L348.4 428.4 L352.7 421.9 L356.6 427.3 L360.5 427.8 L364.4 435.9 L367.5 440.6 L371.4 440.9 L375.3 440.6 L379.7 442.5 L383.9 440.9 L387.4 441.9 L391.5 438.8 L395.3 435.9 L398.8 440.9 L403.1 447.7 L407.1 449.2 L411.8 451.9 L415.3 438.3 L419.6 440.3 L423.4 448.8 L427.4 444.5 L431.3 446.6 L435.3 434.7 L439.5 437.5 L443.4 429.4 L447.3 432.5 L451.5 436.7 L455.6 439.1 L459 438.3 L463.4 435.6 L467.6 440.3 L471.8 435.6 L475.4 433.1 L479.3 433.6 L483.2 420.6 L487.1 423.8 L491 435.9 L495.3 439.8 L499.3 437.5 L503.1 434.1 L507.4 439.1 L511.3 435.6 L515.3 443.8 L519.2 437.5 L523.4 443.4 L527.4 440.3 L531.7 438.8 L535.6 440.3 L539.5 438.3 L543.9 436.6 L551.4 440.1 L555.5 443.6 L559.3 438.3 L563.7 444.8 L567.2 447.1 L571.6 443.3 L575.2 445.4 L579.5 445.9 L583.6 444.5 L587.5 445.4 L591.3 455 L595.4 446.6 L599.4 451.2 L603.3 441 L607.7 447.7 L611.2 448 L615.2 443.6 L619.1 445.4 L623.5 450.1 L627.5 440.1 L631.1 429 L634.9 419.9 L639 409.3 L642.8 410.7 L647.2 404.1 L650.7 404.4 L655.1 407.6 L659.2 404.4 L663 402 L667.1 398.4 L671 400.5 L675.4 406.7 L679.7 405.5 L684.1 404.9 L687.7 400.9 L691.2 396.2 L695.2 402 L699.1 399.7" fill="none" stroke="#2a2e39" stroke-width="1.9" stroke-linejoin="round" stroke-linecap="round"/>
<rect x="78" y="571.2" width="867" height="107.4" fill="#7e57c2" fill-opacity=".1"/>
<path d="M629.9 571.2 L631.3 552.6 L635.3 534.2 L639.5 515.8 L643.2 512.4 L647.4 531.6 L651.1 553.9 L655.3 563.9 L659.2 555.3 L662.9 552.6 L667.1 540.8 L671.1 540 L675 571.2Z" fill="url(#rg)"/>
<path d="M79 571.2 H945" stroke="#80838d" stroke-width="1" stroke-dasharray="5 6"/>
<path d="M79 624.8 H945" stroke="#a9abb3" stroke-width="1" stroke-dasharray="5 6"/>
<path d="M79 678.6 H945" stroke="#80838d" stroke-width="1" stroke-dasharray="5 6"/>
<path d="M77.8 639.6 L79.3 639.4 L80.8 639.3 L82.3 639.1 L83.8 639 L85.3 638.9 L86.8 638.8 L88.3 638.7 L89.8 638.7 L91.3 638.6 L92.8 638.6 L94.3 638.5 L95.8 638.4 L97.3 638.4 L98.8 638.4 L100.3 638.3 L101.8 638.3 L103.3 638.3 L104.8 638.3 L106.3 638.7 L107.8 639.6 L109.3 640.8 L110.8 642.2 L112.3 643.4 L113.8 644.5 L115.3 645.7 L116.8 646.9 L118.3 648.2 L119.8 649.4 L121.3 650.7 L122.8 652 L124.3 653.4 L125.8 654.7 L127.3 656.1 L128.8 657.5 L130.3 658.9 L131.8 660.3 L133.3 661.7 L134.8 663 L136.3 664.3 L137.8 665.7 L139.3 667.1 L140.8 668.4 L142.3 669.5 L143.8 670.4 L145.3 671 L146.8 671.6 L148.3 672.2 L149.8 672.6 L151.3 673 L152.8 673.2 L154.3 673.4 L155.8 673.5 L157.3 673.6 L158.8 673.7 L160.3 673.8 L161.8 673.8 L163.3 673.8 L164.8 673.7 L166.3 673.6 L167.8 673.5 L169.3 673.3 L170.8 673.1 L172.3 672.9 L173.8 672.7 L175.3 672.3 L176.8 671.8 L178.3 671.1 L179.8 670.4 L181.3 669.6 L182.8 668.7 L184.3 667.7 L185.8 666.5 L187.3 665.1 L188.8 663.6 L190.3 662.1 L191.8 660.6 L193.3 659.1 L194.8 657.4 L196.3 655.7 L197.8 653.9 L199.3 652.2 L200.8 650.6 L202.3 649 L203.8 647.4 L205.3 645.8 L206.8 644.4 L208.3 643.3 L209.8 642.7 L211.3 642.3 L212.8 641.9 L214.3 641.5 L215.8 641.1 L217.3 640.4 L218.8 639.6 L220.3 638.8 L221.8 638 L223.3 637.3 L224.8 636.7 L226.3 636.1 L227.8 635.6 L229.3 635.2 L230.8 634.9 L232.3 634.7 L233.8 634.5 L235.3 634.3 L236.8 634.3 L238.3 634.6 L239.8 635.1 L241.3 635.8 L242.8 636.6 L244.3 637.4 L245.8 638.2 L247.3 638.8 L248.8 639.2 L250.3 639.5 L251.8 639.8 L253.3 640 L254.8 640.2 L256.3 640.4 L257.8 640.4 L259.3 640.4 L260.8 640.4 L262.3 640.4 L263.8 640.4 L265.3 640.4 L266.8 640.4 L268.3 640.3 L269.8 640.2 L271.3 639.9 L272.8 639.6 L274.3 639.2 L275.8 638.8 L277.3 638.4 L278.8 638.1 L280.3 637.6 L281.8 637.2 L283.3 636.6 L284.8 636 L286.3 635.2 L287.8 634 L289.3 632.6 L290.8 631.1 L292.3 629.6 L293.8 628.1 L295.3 626.8 L296.8 625.4 L298.3 624.1 L299.8 622.7 L301.3 621.5 L302.8 620.6 L304.3 619.8 L305.8 619.3 L307.3 618.8 L308.8 618.4 L310.3 618 L311.8 617.6 L313.3 617.2 L314.8 616.8 L316.3 616.4 L317.8 616 L319.3 615.6 L320.8 615.1 L322.3 614.5 L323.8 613.8 L325.3 612.9 L326.8 611.9 L328.3 610.9 L329.8 609.9 L331.3 609.1 L332.8 608.3 L334.3 607.5 L335.8 606.7 L337.3 606.1 L338.8 605.6 L340.3 605.4 L341.8 605.5 L343.3 605.8 L344.8 606.2 L346.3 606.6 L347.8 607 L349.3 607.2 L350.8 607.1 L352.3 606.6 L353.8 605.8 L355.3 604.8 L356.8 603.8 L358.3 602.9 L359.8 602.2 L361.3 601.4 L362.8 600.6 L364.3 599.9 L365.8 599.4 L367.3 599.1 L368.8 598.9 L370.3 598.8 L371.8 598.7 L373.3 598.6 L374.8 598.8 L376.3 599.5 L377.8 600.4 L379.3 601.5 L380.8 602.5 L382.3 603.4 L383.8 604.3 L385.3 605.3 L386.8 606.2 L388.3 607 L389.8 607.7 L391.3 608.4 L392.8 609 L394.3 609.4 L395.8 609.7 L397.3 609.9 L398.8 610.1 L400.3 610.3 L401.8 610.7 L403.3 611.3 L404.8 612.6 L406.3 614.1 L407.8 615.4 L409.3 616.7 L410.8 618.1 L412.3 619.3 L413.8 620 L415.3 620.1 L416.8 620 L418.3 619.9 L419.8 619.7 L421.3 619.4 L422.8 619.2 L424.3 618.9 L425.8 618.4 L427.3 617.8 L428.8 617.2 L430.3 616.6 L431.8 615.9 L433.3 615.2 L434.8 614.4 L436.3 613.6 L437.8 612.8 L439.3 612.2 L440.8 611.5 L442.3 610.9 L443.8 610.3 L445.3 609.9 L446.8 609.6 L448.3 609.6 L449.8 609.6 L451.3 609.6 L452.8 609.6 L454.3 609.6 L455.8 609.6 L457.3 609.6 L458.8 609.6 L460.3 609.8 L461.8 610 L463.3 610.3 L464.8 610.8 L466.3 611.6 L467.8 612.7 L469.3 613.8 L470.8 614.9 L472.3 615.8 L473.8 616.8 L475.3 617.7 L476.8 618.6 L478.3 619.5 L479.8 620.1 L481.3 620.6 L482.8 621 L484.3 621.4 L485.8 621.8 L487.3 622 L488.8 622.3 L490.3 622.5 L491.8 622.7 L493.3 622.9 L494.8 622.9 L496.3 622.9 L497.8 622.9 L499.3 622.9 L500.8 622.9 L502.3 622.9 L503.8 623.1 L505.3 623.5 L506.8 623.9 L508.3 624.4 L509.8 624.8 L511.3 625.1 L512.8 625.4 L514.3 625.6 L515.8 625.8 L517.3 626 L518.8 626.2 L520.3 626.2 L521.8 626.2 L523.3 626.2 L524.8 626.2 L526.3 626.2 L527.8 626.2 L529.3 626.2 L530.8 626.2 L532.3 626.3 L533.8 626.8 L535.3 627.5 L536.8 628.3 L538.3 629.1 L539.8 629.8 L541.3 630.5 L542.8 631.3 L544.3 632.3 L545.8 634.1 L547.3 636.1 L548.8 637.9 L550.3 640 L551.8 642.1 L553.3 643.9 L554.8 645.1 L556.3 645.2 L557.8 644.6 L559.3 643.3 L560.8 641.9 L562.3 640.5 L563.8 639.4 L565.3 638.7 L566.8 638.1 L568.3 637.6 L569.8 637 L571.3 636.4 L572.8 635.8 L574.3 635.1 L575.8 634.4 L577.3 633.7 L578.8 633 L580.3 632.3 L581.8 631.7 L583.3 631.2 L584.8 630.8 L586.3 630.4 L587.8 630 L589.3 629.5 L590.8 629.1 L592.3 628.5 L593.8 627.8 L595.3 626.8 L596.8 625.7 L598.3 624.5 L599.8 623.3 L601.3 622.2 L602.8 621.2 L604.3 620.4 L605.8 619.5 L607.3 618.6 L608.8 617.8 L610.3 617.1 L611.8 616.6 L613.3 616.3 L614.8 616.5 L616.3 617.1 L617.8 618.1 L619.3 619.2 L620.8 620.3 L622.3 621.1 L623.8 621.6 L625.3 621.3 L626.8 620.3 L628.3 618.7 L629.8 617 L631.3 615.2 L632.8 613.2 L634.3 610.9 L635.8 608.4 L637.3 605.8 L638.8 603.3 L640.3 600.8 L641.8 598.3 L643.3 595.6 L644.8 592.9 L646.3 590.3 L647.8 587.9 L649.3 585.7 L650.8 583.9 L652.3 582.4 L653.8 581.1 L655.3 579.9 L656.8 578.8 L658.3 577.6 L659.8 576.3 L661.3 574.8 L662.8 572.9 L664.3 570.6 L665.8 568.1 L667.3 565.6 L668.8 563.2 L670.3 560.9 L671.8 559 L673.3 557.2 L674.8 555.5 L676.3 553.9 L677.8 552.5 L679.3 551.4 L680.8 550.5 L682.3 549.7 L683.8 549.5 L685.3 550 L686.8 551 L688.3 552.3 L689.8 553.8 L691.3 556 L692.8 558.6 L694.3 561.2 L695.8 563.7 L697.3 566.3" fill="none" stroke="#f3df78" stroke-width="1.5" stroke-linejoin="round"/>
<path d="M77.8 627.2 L81.2 621.7 L84.8 624.1 L88.9 636.4 L92.9 636.4 L96.6 644.7 L100.9 655.8 L104.9 660.9 L109.1 672.7 L112.8 675.7 L116.5 678.2 L120.8 676.4 L124.8 681.5 L128.9 683.8 L132.7 675.7 L136.4 679.3 L140.1 679.3 L144.5 674.5 L148.7 669.6 L153 663.1 L157 664.1 L160.7 663.1 L165 668.7 L169 672.7 L172.7 669.6 L176.9 660.4 L181 659.1 L185 617.5 L188.9 627.8 L192.9 608.8 L197 623 L201.2 624.8 L204.9 627.2 L209 624.1 L212.8 653 L216.9 646.6 L220.9 638.3 L224.8 639.6 L228.9 642 L232.8 648.3 L240.1 651 L244.7 648.3 L248.4 634.8 L253 628.4 L256.7 624.3 L260.4 629.3 L264.6 637.6 L268.7 633 L272.7 635.8 L277 640.4 L280.6 637.6 L284.7 631.2 L288.6 608.1 L292.6 585.7 L296.7 590.6 L300.5 587 L304.6 610.9 L308.6 609.6 L312.5 618.3 L316.6 626.9 L320.6 616.4 L324.8 607.2 L328.9 591.9 L332.8 598.9 L336.8 611.8 L340.5 610.9 L344.5 613.7 L348.4 620.1 L352.5 559.3 L356.7 563 L360.4 573.5 L364.1 599.3 L367.2 598.9 L371.4 622.5 L375.5 626.2 L379.5 630.6 L383.8 632.6 L387.7 633.6 L391.4 630.6 L395.6 624.3 L399.7 626.2 L403.7 634.8 L407.6 624.7 L411.6 613.7 L415.7 587.9 L419.5 587.9 L423.6 600.8 L427.6 604.1 L431.5 602.2 L435.6 593 L439.8 611.5 L447.5 610 L451.6 631.2 L455.5 624.3 L459.5 633 L463.6 640.4 L467.4 645.9 L471.5 635.8 L475.5 625.6 L479.4 630.2 L483.4 604.8 L487.5 610.9 L491.4 607.8 L495.4 604.1 L499.7 605.4 L503.7 620.1 L507.8 647.7 L511.6 640.9 L515.7 644 L519.7 637.6 L523.6 645.9 L527.6 642.2 L531.3 635.4 L535.4 639.4 L539.6 645 L546.6 650 L551.1 652.1 L555.3 669.7 L559.7 623.7 L563.7 603.9 L567.1 603.4 L571.6 628.4 L575.5 620.5 L579.5 616.3 L583.4 607.4 L587.4 623.7 L591.3 628.9 L595.3 617.1 L599.2 611.8 L603.2 598.7 L607.1 630.3 L611.1 630.3 L615 625.8 L618.9 634.2 L623.2 638.2 L626.8 613.2 L631.3 552.6 L635.3 534.2 L639.5 515.8 L643.2 512.4 L647.4 531.6 L651.1 553.9 L655.3 563.9 L659.2 555.3 L662.9 552.6 L667.1 540.8 L671.1 540 L675.5 575 L679.5 587.4 L683.4 576.8 L687.4 585.5 L691.3 575 L695.3 615.8 L699.2 613.7" fill="none" stroke="#7e57c2" stroke-width="1.1" stroke-linejoin="round"/>
<rect x="14.5" y="31.5" width="58" height="25" rx="3" fill="#fff" stroke="#f0f1f3"/>
<text x="23.5" y="48.3" font-size="12.5" fill="#131722" textLength="31" lengthAdjust="spacingAndGlyphs">USDT</text>
<text x="28.5" y="76.3" font-size="12.5" fill="#131722" textLength="40" lengthAdjust="spacingAndGlyphs">4.5000</text>
<text x="28.5" y="108.7" font-size="12.5" fill="#131722" textLength="40" lengthAdjust="spacingAndGlyphs">4.0000</text>
<text x="28.5" y="141" font-size="12.5" fill="#131722" textLength="40" lengthAdjust="spacingAndGlyphs">3.5000</text>
<text x="28.5" y="173.4" font-size="12.5" fill="#131722" textLength="40" lengthAdjust="spacingAndGlyphs">3.0000</text>
<text x="28.5" y="205.7" font-size="12.5" fill="#131722" textLength="40" lengthAdjust="spacingAndGlyphs">2.5000</text>
<text x="28.5" y="270.4" font-size="12.5" fill="#131722" textLength="40" lengthAdjust="spacingAndGlyphs">1.5000</text>
<text x="28.5" y="302.8" font-size="12.5" fill="#131722" textLength="40" lengthAdjust="spacingAndGlyphs">1.0000</text>
<text x="28.5" y="335.1" font-size="12.5" fill="#131722" textLength="40" lengthAdjust="spacingAndGlyphs">0.5000</text>
<text x="28.5" y="367.5" font-size="12.5" fill="#131722" textLength="40" lengthAdjust="spacingAndGlyphs">0.0000</text>
<rect x="22.4" y="212" width="54.4" height="30.6" rx="2" fill="#1a9b87"/>
<text x="28.5" y="225" font-size="12.5" fill="#fff" textLength="40" lengthAdjust="spacingAndGlyphs">2.2007</text>
<text x="28.5" y="239.2" font-size="12.5" fill="#c5ebe4" textLength="40" lengthAdjust="spacingAndGlyphs">4d 15h</text>
<rect x="78.4" y="212.4" width="64.4" height="16.4" rx="2" fill="#1a9b87"/>
<text x="82.8" y="225" font-size="12.5" fill="#fff" textLength="55" lengthAdjust="spacingAndGlyphs">XRPUSDT</text>
<rect x="22.4" y="243.6" width="54.4" height="16" rx="2" fill="#f5545a"/>
<text x="28.5" y="256.1" font-size="12.5" fill="#fff" textLength="40" lengthAdjust="spacingAndGlyphs">1.8798</text>
<rect x="22.4" y="276.4" width="54.4" height="16" rx="2" fill="#4caf50"/>
<text x="28.5" y="288.9" font-size="12.5" fill="#fff" textLength="40" lengthAdjust="spacingAndGlyphs">1.2141</text>
<rect x="22.4" y="306.8" width="54.4" height="16.6" rx="2" fill="#fcc12d"/>
<text x="28.5" y="319.6" font-size="12.5" fill="#131722" textLength="40" lengthAdjust="spacingAndGlyphs">0.7437</text>
<rect x="22.4" y="337.6" width="54.4" height="16" rx="2" fill="#4caf50"/>
<text x="28.5" y="350.1" font-size="12.5" fill="#fff" textLength="40" lengthAdjust="spacingAndGlyphs">0.2732</text>
<rect x="15.3" y="368.8" width="61.5" height="16.2" rx="2" fill="#f5545a"/>
<text x="21" y="381.4" font-size="12.5" fill="#fff" textLength="47.5" lengthAdjust="spacingAndGlyphs">−0.3925</text>
<rect x="947" y="391.5" width="55" height="16.7" rx="2" fill="#2a2e39"/>
<text x="955.6" y="404.4" font-size="12.5" fill="#fff" textLength="40" lengthAdjust="spacingAndGlyphs">0.2124</text>
<text x="955.6" y="439" font-size="12.5" fill="#131722" textLength="40" lengthAdjust="spacingAndGlyphs">0.0000</text>
<text x="956" y="471.3" font-size="12.5" fill="#131722" textLength="47" lengthAdjust="spacingAndGlyphs">−0.2000</text>
<text x="955.6" y="495.5" font-size="12.5" fill="#131722" textLength="40" lengthAdjust="spacingAndGlyphs">100.00</text>
<text x="955.6" y="549" font-size="12.5" fill="#131722" textLength="33" lengthAdjust="spacingAndGlyphs">80.00</text>
<text x="955.6" y="602.8" font-size="12.5" fill="#131722" textLength="33" lengthAdjust="spacingAndGlyphs">60.00</text>
<text x="955.6" y="656.5" font-size="12.5" fill="#131722" textLength="33" lengthAdjust="spacingAndGlyphs">40.00</text>
<rect x="947.2" y="561" width="46.5" height="16.4" rx="2" fill="#fdd535"/>
<text x="955.6" y="573.7" font-size="12.5" fill="#131722" textLength="33" lengthAdjust="spacingAndGlyphs">70.80</text>
<rect x="947.2" y="605.8" width="46.5" height="16.2" rx="2" fill="#7e57c2"/>
<text x="955.6" y="618.4" font-size="12.5" fill="#fff" textLength="33" lengthAdjust="spacingAndGlyphs">54.13</text>
<text x="10" y="20.2" font-size="13" fill="#131722" textLength="389" lengthAdjust="spacingAndGlyphs">ol_charles published on TradingView.com, Mar 12, 2025 10:51 UTC+1</text>
<text x="86" y="47.2" font-size="13" fill="#131722" textLength="175.5" lengthAdjust="spacingAndGlyphs">XRP / TetherUS · 1W · BINANCE</text>
<text x="270.5" y="47.2" font-size="13" fill="#131722" textLength="7.2" lengthAdjust="spacingAndGlyphs">O</text>
<text x="278" y="47.2" font-size="13" fill="#22ab94" textLength="38.6" lengthAdjust="spacingAndGlyphs">2.1388</text>
<text x="325" y="47.2" font-size="13" fill="#131722" textLength="7.6" lengthAdjust="spacingAndGlyphs">H</text>
<text x="333.4" y="47.2" font-size="13" fill="#22ab94" textLength="38.6" lengthAdjust="spacingAndGlyphs">2.2613</text>
<text x="379" y="47.2" font-size="13" fill="#131722" textLength="4.6" lengthAdjust="spacingAndGlyphs">L</text>
<text x="384.2" y="47.2" font-size="13" fill="#22ab94" textLength="38.6" lengthAdjust="spacingAndGlyphs">1.9000</text>
<text x="430.9" y="47.2" font-size="13" fill="#131722" textLength="7.6" lengthAdjust="spacingAndGlyphs">C</text>
<text x="439.2" y="47.2" font-size="13" fill="#22ab94" textLength="38.6" lengthAdjust="spacingAndGlyphs">2.2007</text>
<text x="485.7" y="47.2" font-size="13" fill="#22ab94" textLength="103" lengthAdjust="spacingAndGlyphs">+0.0620 (+2.90%)</text>
<text x="86" y="64.6" font-size="13" fill="#131722" textLength="194.8" lengthAdjust="spacingAndGlyphs">RSI Oversold/Undersold (5, 74, 24)</text>
<text x="289.5" y="64.6" font-size="13" fill="#e03a45" textLength="38.8" lengthAdjust="spacingAndGlyphs">0.0000</text>
<text x="337" y="64.6" font-size="13" fill="#3f9142" textLength="38.8" lengthAdjust="spacingAndGlyphs">0.0000</text>
<text x="86" y="81.6" font-size="13" fill="#131722" textLength="382.4" lengthAdjust="spacingAndGlyphs">MRC (hlc3, SuperSmoother, 200, 1, 2.415, 60, On Hover, Auto, D, W)</text>
<text x="476.5" y="81.6" font-size="13" fill="#f3cd4c" textLength="37" lengthAdjust="spacingAndGlyphs">0.7437</text>
<text x="522" y="81.6" font-size="13" fill="#66b36b" textLength="34.5" lengthAdjust="spacingAndGlyphs">1.2141</text>
<text x="563.5" y="81.6" font-size="13" fill="#66b36b" textLength="38.5" lengthAdjust="spacingAndGlyphs">0.2732</text>
<text x="608.5" y="81.6" font-size="13" fill="#ea6a6a" textLength="37.5" lengthAdjust="spacingAndGlyphs">1.8798</text>
<text x="654.5" y="81.6" font-size="13" fill="#ea6a6a" textLength="46.5" lengthAdjust="spacingAndGlyphs">−0.3925</text>
<text x="86" y="407.2" font-size="13" fill="#131722" textLength="153" lengthAdjust="spacingAndGlyphs">Chaikin Money Flow (20, 5)</text>
<text x="247.5" y="407.2" font-size="13" fill="#2a2e39" textLength="36" lengthAdjust="spacingAndGlyphs">0.2124</text>
<text x="291" y="406.6" font-size="10" fill="#2a2e39" font-weight="bold">∅</text>
<text x="86.5" y="503.6" font-size="13" fill="#131722" textLength="78.5" lengthAdjust="spacingAndGlyphs">RSI (14, close)</text>
<text x="174" y="503.6" font-size="13" fill="#7e57c2" textLength="30" lengthAdjust="spacingAndGlyphs">54.13</text>
<text x="212.5" y="503.6" font-size="13" fill="#f5d442" textLength="31" lengthAdjust="spacingAndGlyphs">70.80</text>
<text x="141.7" y="716.6" font-size="13" fill="#131722" text-anchor="middle" textLength="15.6" lengthAdjust="spacingAndGlyphs">Jul</text>
<text x="245.1" y="716.6" font-size="13" fill="#131722" text-anchor="middle" font-weight="bold" textLength="30.6" lengthAdjust="spacingAndGlyphs">2023</text>
<text x="348.5" y="716.6" font-size="13" fill="#131722" text-anchor="middle" textLength="15.6" lengthAdjust="spacingAndGlyphs">Jul</text>
<text x="451.9" y="716.6" font-size="13" fill="#131722" text-anchor="middle" font-weight="bold" textLength="30.6" lengthAdjust="spacingAndGlyphs">2024</text>
<text x="555.3" y="716.6" font-size="13" fill="#131722" text-anchor="middle" textLength="15.6" lengthAdjust="spacingAndGlyphs">Jul</text>
<text x="662.7" y="716.6" font-size="13" fill="#131722" text-anchor="middle" font-weight="bold" textLength="30.6" lengthAdjust="spacingAndGlyphs">2025</text>
<text x="766.1" y="716.6" font-size="13" fill="#131722" text-anchor="middle" textLength="15.6" lengthAdjust="spacingAndGlyphs">Jul</text>
<text x="869.5" y="716.6" font-size="13" fill="#131722" text-anchor="middle" font-weight="bold" textLength="30.6" lengthAdjust="spacingAndGlyphs">2026</text>
<circle cx="44.5" cy="711.6" r="8.8" fill="#f0f1f3"/>
<text x="44.5" y="715.4" font-size="10.5" fill="#50535e" text-anchor="middle">Z</text>
<circle cx="980.3" cy="711.8" r="9" fill="#f0f1f3"/>
<text x="980.3" y="715.8" font-size="11" fill="#50535e" text-anchor="middle">A</text>
<g transform="translate(10.1 734.5) scale(.535 .555)" fill="#131722"><path d="M14 22H7V11H0V4h14v18zM28 22h-8l7.5-18h8L28 22z"/><circle cx="20" cy="8" r="4"/></g>
<text x="33.6" y="747.3" font-size="13.4" fill="#131722" textLength="73.8" lengthAdjust="spacingAndGlyphs" stroke="#131722" stroke-width=".3">TradingView</text>
</svg>
</body></html>
